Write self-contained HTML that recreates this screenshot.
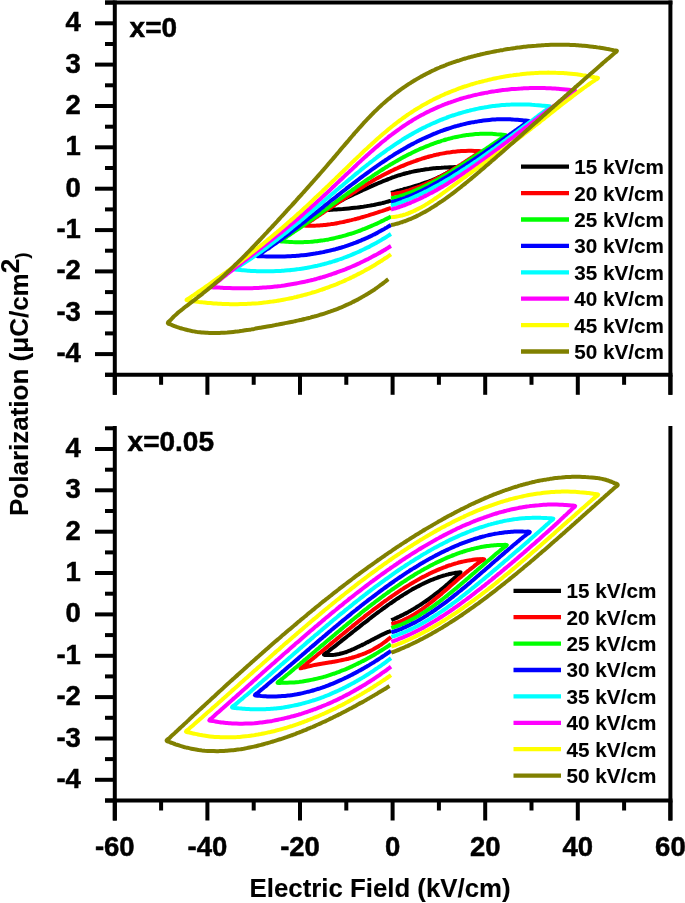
<!DOCTYPE html>
<html><head><meta charset="utf-8"><style>
html,body{margin:0;padding:0;background:#fff;}
svg{display:block;will-change:transform;}
text{font-family:"Liberation Sans",sans-serif;font-weight:bold;fill:#000;stroke:#000;stroke-width:0.5px;}
.leg text{stroke-width:0.1px;}
.ttl{stroke-width:0.1px;}
</style></head><body>
<svg width="685" height="903" viewBox="0 0 685 903">
<rect width="685" height="903" fill="#fff"/>
<g fill="none" stroke-width="4.0" stroke-linejoin="round" stroke-linecap="butt">
<path d="M391 192.9C392 192.6 393 192.3 393.9 192.1C394.9 191.8 395.9 191.5 396.9 191.2C397.9 190.9 398.8 190.7 399.8 190.4C400.8 190.1 401.8 189.9 402.8 189.6C403.7 189.3 404.7 189 405.7 188.8C406.7 188.5 407.7 188.2 408.7 187.9C409.6 187.7 410.6 187.4 411.6 187.1C412.6 186.8 413.5 186.5 414.5 186.2C415.5 185.9 416.5 185.6 417.4 185.3C418.4 185 419.4 184.7 420.4 184.4C421.3 184.1 422.3 183.8 423.3 183.4C424.2 183.1 425.2 182.8 426.1 182.4C427.1 182.1 428.1 181.7 429 181.4C430 181 430.9 180.6 431.9 180.3C432.8 179.9 433.7 179.5 434.7 179.1C435.6 178.7 436.6 178.3 437.5 177.9C438.4 177.5 439.3 177 440.3 176.6C441.2 176.1 442.1 175.7 443 175.2C443.9 174.8 444.8 174.3 445.7 173.8C446.6 173.3 447.5 172.8 448.4 172.3C449.2 171.8 450.1 171.3 451 170.8C451.9 170.2 452.7 169.7 453.6 169.1Q459.7 166.2 453 167.3C452 167.3 451 167.3 450 167.3C449 167.4 448 167.4 447 167.4C446 167.5 445 167.5 444 167.6C443 167.6 442.1 167.7 441.1 167.8C440.1 167.8 439.1 167.9 438.1 168C437.1 168.1 436.1 168.1 435.1 168.2C434.1 168.3 433.1 168.4 432.1 168.5C431.1 168.6 430.1 168.7 429.2 168.9C428.2 169 427.2 169.1 426.2 169.2C425.2 169.4 424.2 169.5 423.2 169.7C422.2 169.8 421.3 170 420.3 170.2C419.3 170.3 418.3 170.5 417.3 170.7C416.4 170.9 415.4 171.1 414.4 171.3C413.4 171.5 412.5 171.7 411.5 171.9C410.5 172.1 409.6 172.4 408.6 172.6C407.6 172.8 406.7 173.1 405.7 173.3C404.7 173.6 403.8 173.9 402.8 174.1C401.9 174.4 400.9 174.7 400 175C399 175.3 398.1 175.6 397.1 175.9C396.2 176.2 395.2 176.6 394.3 176.9C393.3 177.2 392.4 177.6 391.5 177.9C390.5 178.3 389.6 178.6 388.7 179C387.7 179.3 386.8 179.7 385.9 180.1C385 180.4 384 180.8 383.1 181.2C382.2 181.6 381.3 182 380.4 182.4C379.5 182.7 378.5 183.1 377.6 183.5C376.7 183.9 375.8 184.3 374.9 184.7C374 185.1 373.1 185.5 372.2 185.9C371.2 186.4 370.3 186.8 369.4 187.2C368.5 187.6 367.6 188 366.7 188.4C365.8 188.8 364.9 189.2 364 189.6C363.1 190.1 362.2 190.5 361.3 190.9C360.4 191.3 359.5 191.7 358.6 192.1C357.6 192.5 356.7 193 355.8 193.4C354.9 193.8 354 194.2 353.1 194.6C352.2 195 351.3 195.4 350.4 195.9C349.5 196.3 348.6 196.7 347.7 197.2C346.8 197.6 345.9 198 345 198.5C344.1 199 343.3 199.4 342.4 199.9C341.5 200.4 340.6 200.8 339.8 201.3C338.9 201.8 338 202.3 337.2 202.8C336.3 203.4 335.5 203.9 334.7 204.4C333.8 205 333 205.5 332.2 206.1C331.4 206.7 330.6 207.3 329.8 207.9Q323.9 211.2 330.5 209.8C331.5 209.7 332.5 209.7 333.6 209.6C334.6 209.5 335.6 209.5 336.6 209.4C337.6 209.3 338.7 209.3 339.7 209.2C340.7 209.1 341.7 209 342.7 209C343.8 208.9 344.8 208.8 345.8 208.7C346.8 208.6 347.8 208.5 348.9 208.4C349.9 208.3 350.9 208.2 351.9 208.1C352.9 208 353.9 207.9 355 207.8C356 207.7 357 207.6 358 207.4C359 207.3 360 207.2 361 207C362.1 206.9 363.1 206.8 364.1 206.6C365.1 206.5 366.1 206.3 367.1 206.1C368.1 206 369.1 205.8 370.1 205.6C371.1 205.4 372.1 205.3 373.1 205.1C374.2 204.9 375.2 204.7 376.2 204.4C377.2 204.2 378.2 204 379.2 203.8C380.1 203.6 381.1 203.3 382.1 203.1C383.1 202.8 384.1 202.6 385.1 202.3C386.1 202 387.1 201.8 388.1 201.5C389 201.2 390 200.9 391 200.6" stroke="#000000"/>
<path d="M391 194.3C392 194.2 393 194 394 193.9C395 193.7 396 193.5 397 193.3C398 193.1 399 192.9 400 192.7C401 192.5 401.9 192.2 402.9 192C403.9 191.7 404.9 191.5 405.9 191.2C406.8 190.9 407.8 190.7 408.8 190.4C409.7 190.1 410.7 189.8 411.7 189.4C412.6 189.1 413.6 188.8 414.5 188.4C415.5 188.1 416.4 187.8 417.4 187.4C418.3 187 419.3 186.7 420.2 186.3C421.2 185.9 422.1 185.5 423 185.1C424 184.7 424.9 184.3 425.8 183.9C426.7 183.5 427.7 183.1 428.6 182.7C429.5 182.2 430.4 181.8 431.3 181.4C432.2 180.9 433.1 180.5 434 180C435 179.6 435.9 179.1 436.8 178.6C437.7 178.2 438.5 177.7 439.4 177.2C440.3 176.7 441.2 176.3 442.1 175.8C443 175.3 443.9 174.8 444.8 174.3C445.6 173.8 446.5 173.3 447.4 172.8C448.3 172.3 449.2 171.8 450 171.3C450.9 170.8 451.8 170.2 452.6 169.7C453.5 169.2 454.4 168.7 455.2 168.1C456.1 167.6 457 167.1 457.8 166.5C458.7 166 459.5 165.5 460.4 164.9C461.2 164.4 462.1 163.8 462.9 163.3C463.8 162.7 464.6 162.2 465.5 161.6C466.3 161.1 467.2 160.5 468 160C468.9 159.4 469.7 158.8 470.6 158.3C471.4 157.7 472.2 157.2 473.1 156.6C473.9 156 474.8 155.5 475.6 154.9C476.4 154.3 477.3 153.8 478.1 153.2Q484.2 150.3 477.5 151C476.5 150.9 475.5 150.9 474.5 150.9C473.5 150.8 472.5 150.8 471.5 150.8C470.5 150.8 469.5 150.8 468.5 150.8C467.5 150.8 466.5 150.8 465.5 150.9C464.5 150.9 463.5 150.9 462.5 151C461.5 151.1 460.5 151.1 459.5 151.2C458.5 151.3 457.5 151.4 456.5 151.5C455.5 151.6 454.5 151.7 453.5 151.8C452.6 151.9 451.6 152 450.6 152.2C449.6 152.3 448.6 152.4 447.6 152.6C446.6 152.7 445.6 152.9 444.6 153.1C443.7 153.3 442.7 153.4 441.7 153.6C440.7 153.8 439.7 154 438.8 154.2C437.8 154.4 436.8 154.7 435.8 154.9C434.9 155.1 433.9 155.3 432.9 155.6C431.9 155.8 431 156.1 430 156.3C429 156.6 428.1 156.9 427.1 157.1C426.2 157.4 425.2 157.7 424.2 158C423.3 158.3 422.3 158.6 421.4 158.9C420.4 159.2 419.5 159.5 418.5 159.8C417.6 160.1 416.6 160.4 415.7 160.8C414.7 161.1 413.8 161.5 412.9 161.8C411.9 162.1 411 162.5 410 162.9C409.1 163.2 408.2 163.6 407.3 163.9C406.3 164.3 405.4 164.7 404.5 165.1C403.6 165.5 402.6 165.9 401.7 166.2C400.8 166.6 399.9 167 399 167.4C398 167.8 397.1 168.3 396.2 168.7C395.3 169.1 394.4 169.5 393.5 169.9C392.6 170.4 391.7 170.8 390.8 171.2C389.9 171.7 389 172.1 388.1 172.6C387.2 173 386.3 173.5 385.4 173.9C384.5 174.4 383.7 174.8 382.8 175.3C381.9 175.8 381 176.2 380.1 176.7C379.2 177.2 378.4 177.7 377.5 178.1C376.6 178.6 375.7 179.1 374.9 179.6C374 180.1 373.1 180.6 372.2 181.1C371.4 181.6 370.5 182.1 369.7 182.6C368.8 183.1 367.9 183.6 367.1 184.1C366.2 184.6 365.4 185.1 364.5 185.7C363.6 186.2 362.8 186.7 361.9 187.2C361.1 187.7 360.2 188.3 359.4 188.8C358.5 189.3 357.7 189.9 356.8 190.4C356 190.9 355.2 191.5 354.3 192C353.5 192.5 352.6 193.1 351.8 193.6C351 194.2 350.1 194.7 349.3 195.3C348.4 195.8 347.6 196.3 346.8 196.9C345.9 197.4 345.1 198 344.3 198.5C343.4 199.1 342.6 199.6 341.7 200.2C340.9 200.7 340.1 201.3 339.2 201.8C338.4 202.4 337.6 203 336.7 203.5C335.9 204.1 335.1 204.6 334.2 205.2C333.4 205.7 332.6 206.3 331.8 206.8C330.9 207.4 330.1 207.9 329.3 208.5C328.4 209.1 327.6 209.6 326.8 210.2C325.9 210.7 325.1 211.3 324.3 211.9C323.5 212.4 322.6 213 321.8 213.5C321 214.1 320.1 214.7 319.3 215.2C318.5 215.8 317.7 216.3 316.8 216.9C316 217.5 315.2 218 314.3 218.6C313.5 219.1 312.7 219.7 311.9 220.3C311 220.8 310.2 221.4 309.4 221.9C308.5 222.5 307.7 223.1 306.9 223.6Q300.8 226.5 307.5 225.7C308.5 225.7 309.5 225.7 310.5 225.7C311.4 225.7 312.4 225.7 313.4 225.7C314.4 225.7 315.4 225.6 316.4 225.6C317.4 225.5 318.3 225.5 319.3 225.4C320.3 225.3 321.3 225.3 322.3 225.2C323.3 225.1 324.2 225 325.2 224.9C326.2 224.8 327.2 224.7 328.2 224.5C329.1 224.4 330.1 224.3 331.1 224.1C332.1 224 333 223.8 334 223.7C335 223.5 336 223.4 336.9 223.2C337.9 223 338.9 222.8 339.8 222.6C340.8 222.5 341.8 222.3 342.7 222.1C343.7 221.9 344.7 221.6 345.6 221.4C346.6 221.2 347.6 221 348.5 220.8C349.5 220.5 350.4 220.3 351.4 220.1C352.3 219.8 353.3 219.6 354.3 219.4C355.2 219.1 356.2 218.9 357.1 218.6C358.1 218.3 359 218.1 360 217.8C360.9 217.5 361.9 217.3 362.8 217C363.8 216.7 364.7 216.5 365.7 216.2C366.6 215.9 367.5 215.6 368.5 215.3C369.4 215 370.4 214.7 371.3 214.4C372.3 214.2 373.2 213.9 374.1 213.6C375.1 213.3 376 213 377 212.7C377.9 212.4 378.8 212.1 379.8 211.7C380.7 211.4 381.6 211.1 382.6 210.8C383.5 210.5 384.5 210.2 385.4 209.9C386.3 209.6 387.3 209.3 388.2 208.9C389.1 208.6 390.1 208.3 391 208" stroke="#FF0000"/>
<path d="M391 198.4C392 198.2 392.9 198 393.9 197.7C394.9 197.5 395.8 197.2 396.8 197C397.8 196.7 398.7 196.5 399.7 196.2C400.6 195.9 401.6 195.6 402.5 195.3C403.5 195 404.4 194.7 405.4 194.4C406.3 194 407.2 193.7 408.2 193.4C409.1 193 410.1 192.7 411 192.3C411.9 191.9 412.8 191.6 413.8 191.2C414.7 190.8 415.6 190.4 416.5 190C417.4 189.7 418.3 189.3 419.2 188.8C420.2 188.4 421.1 188 422 187.6C422.9 187.2 423.8 186.8 424.7 186.3C425.6 185.9 426.5 185.5 427.3 185C428.2 184.6 429.1 184.1 430 183.7C430.9 183.2 431.8 182.7 432.7 182.3C433.5 181.8 434.4 181.3 435.3 180.9C436.2 180.4 437 179.9 437.9 179.4C438.8 179 439.7 178.5 440.5 178C441.4 177.5 442.2 177 443.1 176.5C444 176 444.8 175.5 445.7 175C446.5 174.5 447.4 174 448.2 173.4C449.1 172.9 450 172.4 450.8 171.9C451.7 171.4 452.5 170.9 453.3 170.3C454.2 169.8 455 169.3 455.9 168.7C456.7 168.2 457.6 167.7 458.4 167.1C459.2 166.6 460.1 166.1 460.9 165.5C461.8 165 462.6 164.5 463.4 163.9C464.3 163.4 465.1 162.8 465.9 162.3C466.8 161.7 467.6 161.2 468.4 160.6C469.3 160.1 470.1 159.5 470.9 159C471.7 158.4 472.6 157.9 473.4 157.3C474.2 156.8 475.1 156.2 475.9 155.7C476.7 155.1 477.5 154.6 478.4 154C479.2 153.4 480 152.9 480.8 152.3C481.7 151.8 482.5 151.2 483.3 150.6C484.1 150.1 484.9 149.5 485.8 149C486.6 148.4 487.4 147.8 488.2 147.3C489.1 146.7 489.9 146.2 490.7 145.6C491.5 145 492.4 144.5 493.2 143.9C494 143.4 494.8 142.8 495.7 142.2C496.5 141.7 497.3 141.1 498.1 140.6C499 140 499.8 139.5 500.6 138.9C501.4 138.4 502.3 137.8 503.1 137.2Q509.2 134.6 502.5 134.8C501.5 134.7 500.6 134.5 499.6 134.4C498.6 134.3 497.6 134.2 496.6 134.2C495.6 134.1 494.6 134 493.6 133.9C492.6 133.9 491.6 133.8 490.6 133.8C489.6 133.8 488.6 133.7 487.6 133.7C486.6 133.7 485.6 133.7 484.6 133.7C483.6 133.7 482.6 133.7 481.6 133.8C480.6 133.8 479.6 133.9 478.6 133.9C477.6 134 476.6 134 475.6 134.1C474.6 134.2 473.6 134.3 472.6 134.4C471.6 134.5 470.6 134.6 469.6 134.7C468.6 134.8 467.6 135 466.6 135.1C465.6 135.2 464.7 135.4 463.7 135.6C462.7 135.7 461.7 135.9 460.7 136.1C459.7 136.3 458.8 136.5 457.8 136.7C456.8 136.9 455.8 137.1 454.8 137.3C453.9 137.5 452.9 137.7 451.9 138C450.9 138.2 450 138.5 449 138.7C448 139 447.1 139.2 446.1 139.5C445.2 139.8 444.2 140.1 443.2 140.4C442.3 140.6 441.3 140.9 440.4 141.3C439.4 141.6 438.5 141.9 437.5 142.2C436.6 142.5 435.6 142.8 434.7 143.2C433.7 143.5 432.8 143.9 431.9 144.2C430.9 144.6 430 144.9 429.1 145.3C428.1 145.6 427.2 146 426.3 146.4C425.4 146.8 424.4 147.2 423.5 147.6C422.6 147.9 421.7 148.3 420.8 148.7C419.8 149.1 418.9 149.6 418 150C417.1 150.4 416.2 150.8 415.3 151.2C414.4 151.7 413.5 152.1 412.6 152.5C411.7 153 410.8 153.4 409.9 153.9C409 154.3 408.1 154.8 407.2 155.2C406.3 155.7 405.4 156.2 404.6 156.6C403.7 157.1 402.8 157.6 401.9 158C401 158.5 400.2 159 399.3 159.5C398.4 160 397.6 160.5 396.7 161C395.8 161.5 394.9 162 394.1 162.5C393.2 163 392.4 163.5 391.5 164C390.6 164.5 389.8 165 388.9 165.5C388.1 166.1 387.2 166.6 386.4 167.1C385.5 167.6 384.7 168.2 383.8 168.7C383 169.2 382.1 169.8 381.3 170.3C380.4 170.8 379.6 171.4 378.8 171.9C377.9 172.5 377.1 173 376.3 173.6C375.4 174.1 374.6 174.7 373.7 175.2C372.9 175.8 372.1 176.3 371.3 176.9C370.4 177.5 369.6 178 368.8 178.6C367.9 179.1 367.1 179.7 366.3 180.3C365.5 180.8 364.6 181.4 363.8 182C363 182.5 362.2 183.1 361.4 183.7C360.5 184.3 359.7 184.8 358.9 185.4C358.1 186 357.3 186.6 356.4 187.1C355.6 187.7 354.8 188.3 354 188.9C353.2 189.5 352.4 190 351.6 190.6C350.7 191.2 349.9 191.8 349.1 192.4C348.3 193 347.5 193.5 346.7 194.1C345.9 194.7 345.1 195.3 344.3 195.9C343.4 196.5 342.6 197.1 341.8 197.7C341 198.2 340.2 198.8 339.4 199.4C338.6 200 337.8 200.6 337 201.2C336.2 201.8 335.4 202.4 334.6 203C333.7 203.5 332.9 204.1 332.1 204.7C331.3 205.3 330.5 205.9 329.7 206.5C328.9 207.1 328.1 207.7 327.3 208.3C326.5 208.9 325.7 209.4 324.9 210C324.1 210.6 323.2 211.2 322.4 211.8C321.6 212.4 320.8 213 320 213.6C319.2 214.2 318.4 214.7 317.6 215.3C316.8 215.9 316 216.5 315.1 217.1C314.3 217.7 313.5 218.3 312.7 218.8C311.9 219.4 311.1 220 310.3 220.6C309.4 221.2 308.6 221.7 307.8 222.3C307 222.9 306.2 223.5 305.4 224C304.5 224.6 303.7 225.2 302.9 225.8C302.1 226.3 301.3 226.9 300.4 227.5C299.6 228 298.8 228.6 298 229.2C297.1 229.7 296.3 230.3 295.5 230.9C294.7 231.4 293.8 232 293 232.6C292.2 233.1 291.3 233.7 290.5 234.2C289.7 234.8 288.8 235.3 288 235.9C287.2 236.4 286.3 237 285.5 237.5C284.6 238.1 283.8 238.6 283 239.1Q276.8 241.7 283.5 241.4C284.5 241.5 285.5 241.6 286.5 241.7C287.5 241.8 288.5 241.8 289.5 241.9C290.5 242 291.5 242 292.5 242.1C293.5 242.1 294.6 242.1 295.6 242.2C296.6 242.2 297.6 242.2 298.6 242.2C299.6 242.2 300.6 242.2 301.6 242.2C302.6 242.2 303.6 242.1 304.6 242.1C305.7 242.1 306.7 242 307.7 242C308.7 241.9 309.7 241.8 310.7 241.8C311.7 241.7 312.7 241.6 313.7 241.5C314.7 241.4 315.7 241.3 316.7 241.2C317.7 241.1 318.7 240.9 319.7 240.8C320.7 240.7 321.7 240.5 322.7 240.4C323.7 240.2 324.7 240.1 325.7 239.9C326.7 239.7 327.7 239.5 328.7 239.4C329.7 239.2 330.7 239 331.7 238.8C332.7 238.6 333.6 238.4 334.6 238.1C335.6 237.9 336.6 237.7 337.6 237.4C338.6 237.2 339.5 237 340.5 236.7C341.5 236.5 342.5 236.2 343.4 235.9C344.4 235.7 345.4 235.4 346.3 235.1C347.3 234.8 348.3 234.5 349.2 234.2C350.2 233.9 351.2 233.6 352.1 233.3C353.1 233 354.1 232.7 355 232.3C356 232 356.9 231.7 357.9 231.3C358.8 231 359.8 230.7 360.7 230.3C361.7 229.9 362.6 229.6 363.5 229.2C364.5 228.8 365.4 228.5 366.3 228.1C367.3 227.7 368.2 227.3 369.1 226.9C370.1 226.5 371 226.2 371.9 225.7C372.9 225.3 373.8 224.9 374.7 224.5C375.6 224.1 376.5 223.7 377.5 223.3C378.4 222.8 379.3 222.4 380.2 222C381.1 221.5 382 221.1 382.9 220.7C383.8 220.2 384.7 219.8 385.6 219.3C386.5 218.8 387.4 218.4 388.3 217.9C389.2 217.4 390.1 217 391 216.5" stroke="#00FF00"/>
<path d="M391 202.1C392 201.9 393 201.6 393.9 201.4C394.9 201.1 395.9 200.9 396.9 200.6C397.8 200.3 398.8 200 399.8 199.7C400.7 199.4 401.7 199.1 402.6 198.8C403.6 198.5 404.5 198.1 405.5 197.8C406.4 197.4 407.4 197.1 408.3 196.7C409.2 196.4 410.2 196 411.1 195.6C412 195.2 413 194.8 413.9 194.4C414.8 194 415.7 193.6 416.6 193.2C417.6 192.8 418.5 192.3 419.4 191.9C420.3 191.5 421.2 191 422.1 190.6C423 190.1 423.9 189.7 424.8 189.2C425.7 188.8 426.6 188.3 427.5 187.8C428.4 187.4 429.3 186.9 430.2 186.4C431 186 431.9 185.5 432.8 185C433.7 184.5 434.6 184 435.4 183.5C436.3 183 437.2 182.5 438.1 182C438.9 181.5 439.8 181 440.7 180.5C441.6 180 442.4 179.5 443.3 179C444.2 178.5 445 178 445.9 177.5C446.8 176.9 447.6 176.4 448.5 175.9C449.3 175.4 450.2 174.8 451.1 174.3C451.9 173.8 452.8 173.3 453.6 172.7C454.5 172.2 455.3 171.7 456.2 171.1C457.1 170.6 457.9 170.1 458.8 169.5C459.6 169 460.5 168.4 461.3 167.9C462.1 167.3 463 166.8 463.8 166.3C464.7 165.7 465.5 165.2 466.4 164.6C467.2 164.1 468.1 163.5 468.9 162.9C469.7 162.4 470.6 161.8 471.4 161.3C472.3 160.7 473.1 160.2 473.9 159.6C474.8 159 475.6 158.5 476.4 157.9C477.3 157.4 478.1 156.8 478.9 156.2C479.8 155.7 480.6 155.1 481.4 154.5C482.3 154 483.1 153.4 483.9 152.8C484.8 152.2 485.6 151.7 486.4 151.1C487.2 150.5 488.1 150 488.9 149.4C489.7 148.8 490.6 148.2 491.4 147.7C492.2 147.1 493 146.5 493.9 145.9C494.7 145.3 495.5 144.8 496.3 144.2C497.2 143.6 498 143 498.8 142.4C499.6 141.9 500.4 141.3 501.3 140.7C502.1 140.1 502.9 139.5 503.7 139C504.6 138.4 505.4 137.8 506.2 137.2C507 136.6 507.8 136 508.7 135.4C509.5 134.9 510.3 134.3 511.1 133.7C511.9 133.1 512.8 132.5 513.6 131.9C514.4 131.4 515.2 130.8 516 130.2C516.8 129.6 517.7 129 518.5 128.4C519.3 127.8 520.1 127.2 520.9 126.7C521.8 126.1 522.6 125.5 523.4 124.9C524.2 124.3 525 123.7 525.9 123.1Q531.9 120.3 525.2 120.6C524.2 120.5 523.3 120.4 522.3 120.2C521.3 120.1 520.3 120 519.3 119.9C518.3 119.8 517.3 119.8 516.3 119.7C515.3 119.6 514.3 119.5 513.3 119.5C512.3 119.4 511.3 119.4 510.3 119.3C509.3 119.3 508.3 119.3 507.3 119.2C506.3 119.2 505.3 119.2 504.3 119.2C503.3 119.2 502.3 119.2 501.3 119.2C500.4 119.2 499.4 119.3 498.4 119.3C497.4 119.3 496.4 119.4 495.4 119.4C494.4 119.5 493.4 119.6 492.4 119.6C491.4 119.7 490.4 119.8 489.4 119.9C488.4 120 487.4 120.1 486.4 120.2C485.4 120.3 484.4 120.4 483.4 120.5C482.5 120.6 481.5 120.8 480.5 120.9C479.5 121.1 478.5 121.2 477.5 121.4C476.5 121.5 475.5 121.7 474.6 121.9C473.6 122 472.6 122.2 471.6 122.4C470.6 122.6 469.7 122.8 468.7 123C467.7 123.2 466.7 123.4 465.8 123.7C464.8 123.9 463.8 124.1 462.9 124.4C461.9 124.6 460.9 124.9 460 125.1C459 125.4 458 125.6 457.1 125.9C456.1 126.2 455.2 126.4 454.2 126.7C453.2 127 452.3 127.3 451.3 127.6C450.4 127.9 449.4 128.2 448.5 128.5C447.5 128.8 446.6 129.2 445.6 129.5C444.7 129.8 443.8 130.1 442.8 130.5C441.9 130.8 441 131.2 440 131.5C439.1 131.9 438.2 132.2 437.2 132.6C436.3 133 435.4 133.3 434.4 133.7C433.5 134.1 432.6 134.5 431.7 134.9C430.8 135.3 429.9 135.6 428.9 136.1C428 136.5 427.1 136.9 426.2 137.3C425.3 137.7 424.4 138.1 423.5 138.5C422.6 139 421.7 139.4 420.8 139.8C419.9 140.3 419 140.7 418.1 141.1C417.2 141.6 416.3 142 415.4 142.5C414.5 142.9 413.7 143.4 412.8 143.9C411.9 144.3 411 144.8 410.1 145.3C409.3 145.8 408.4 146.2 407.5 146.7C406.6 147.2 405.8 147.7 404.9 148.2C404 148.7 403.2 149.2 402.3 149.7C401.4 150.2 400.6 150.7 399.7 151.2C398.9 151.7 398 152.2 397.2 152.7C396.3 153.3 395.5 153.8 394.6 154.3C393.8 154.8 392.9 155.4 392.1 155.9C391.2 156.4 390.4 157 389.6 157.5C388.7 158.1 387.9 158.6 387 159.2C386.2 159.7 385.4 160.3 384.6 160.8C383.7 161.4 382.9 161.9 382.1 162.5C381.2 163 380.4 163.6 379.6 164.2C378.8 164.7 378 165.3 377.1 165.9C376.3 166.4 375.5 167 374.7 167.6C373.9 168.2 373.1 168.7 372.2 169.3C371.4 169.9 370.6 170.5 369.8 171.1C369 171.6 368.2 172.2 367.4 172.8C366.6 173.4 365.8 174 365 174.6C364.2 175.2 363.4 175.8 362.6 176.4C361.8 177 361 177.6 360.2 178.2C359.4 178.8 358.6 179.4 357.8 180C357 180.6 356.2 181.2 355.4 181.8C354.6 182.4 353.8 183 353 183.6C352.2 184.2 351.4 184.8 350.6 185.4C349.8 186 349 186.6 348.3 187.2C347.5 187.8 346.7 188.4 345.9 189.1C345.1 189.7 344.3 190.3 343.5 190.9C342.7 191.5 342 192.1 341.2 192.7C340.4 193.4 339.6 194 338.8 194.6C338 195.2 337.2 195.8 336.5 196.4C335.7 197.1 334.9 197.7 334.1 198.3C333.3 198.9 332.5 199.5 331.8 200.1C331 200.8 330.2 201.4 329.4 202C328.6 202.6 327.8 203.2 327.1 203.9C326.3 204.5 325.5 205.1 324.7 205.7C323.9 206.3 323.2 207 322.4 207.6C321.6 208.2 320.8 208.8 320 209.4C319.2 210.1 318.5 210.7 317.7 211.3C316.9 211.9 316.1 212.5 315.3 213.2C314.6 213.8 313.8 214.4 313 215C312.2 215.6 311.4 216.2 310.6 216.9C309.8 217.5 309.1 218.1 308.3 218.7C307.5 219.3 306.7 219.9 305.9 220.6C305.1 221.2 304.3 221.8 303.6 222.4C302.8 223 302 223.6 301.2 224.2C300.4 224.8 299.6 225.5 298.8 226.1C298 226.7 297.2 227.3 296.5 227.9C295.7 228.5 294.9 229.1 294.1 229.7C293.3 230.3 292.5 230.9 291.7 231.5C290.9 232.1 290.1 232.7 289.3 233.3C288.5 233.9 287.7 234.5 286.9 235.1C286.1 235.7 285.3 236.3 284.5 236.9C283.7 237.5 282.9 238.1 282.1 238.7C281.3 239.2 280.5 239.8 279.7 240.4C278.9 241 278 241.6 277.2 242.2C276.4 242.8 275.6 243.3 274.8 243.9C274 244.5 273.2 245.1 272.3 245.6C271.5 246.2 270.7 246.8 269.9 247.3C269.1 247.9 268.2 248.5 267.4 249C266.6 249.6 265.8 250.2 264.9 250.7C264.1 251.3 263.3 251.8 262.4 252.4C261.6 252.9 260.8 253.5 259.9 254Q253.8 256.7 260.5 256.1C261.5 256.2 262.5 256.2 263.5 256.3C264.5 256.3 265.5 256.3 266.5 256.4C267.6 256.4 268.6 256.5 269.6 256.5C270.6 256.5 271.6 256.5 272.6 256.5C273.6 256.6 274.6 256.6 275.6 256.6C276.7 256.6 277.7 256.6 278.7 256.6C279.7 256.5 280.7 256.5 281.7 256.5C282.7 256.5 283.7 256.5 284.7 256.4C285.7 256.4 286.8 256.4 287.8 256.3C288.8 256.3 289.8 256.2 290.8 256.2C291.8 256.1 292.8 256.1 293.8 256C294.8 255.9 295.8 255.9 296.8 255.8C297.8 255.7 298.9 255.6 299.9 255.5C300.9 255.4 301.9 255.3 302.9 255.2C303.9 255.1 304.9 255 305.9 254.9C306.9 254.8 307.9 254.6 308.9 254.5C309.9 254.4 310.9 254.2 311.9 254.1C312.9 253.9 313.9 253.8 314.9 253.6C315.9 253.4 316.9 253.3 317.9 253.1C318.9 252.9 319.9 252.7 320.9 252.5C321.9 252.4 322.8 252.2 323.8 252C324.8 251.7 325.8 251.5 326.8 251.3C327.8 251.1 328.8 250.9 329.8 250.6C330.7 250.4 331.7 250.2 332.7 249.9C333.7 249.7 334.7 249.4 335.6 249.2C336.6 248.9 337.6 248.6 338.6 248.3C339.5 248.1 340.5 247.8 341.5 247.5C342.4 247.2 343.4 246.9 344.4 246.6C345.3 246.3 346.3 246 347.2 245.7C348.2 245.3 349.2 245 350.1 244.7C351.1 244.3 352 244 353 243.6C353.9 243.3 354.8 242.9 355.8 242.6C356.7 242.2 357.7 241.8 358.6 241.5C359.5 241.1 360.5 240.7 361.4 240.3C362.3 239.9 363.3 239.5 364.2 239.1C365.1 238.7 366 238.3 367 237.9C367.9 237.5 368.8 237 369.7 236.6C370.6 236.2 371.5 235.7 372.4 235.3C373.4 234.8 374.3 234.4 375.2 233.9C376.1 233.5 377 233 377.9 232.5C378.7 232.1 379.6 231.6 380.5 231.1C381.4 230.6 382.3 230.1 383.2 229.6C384.1 229.1 384.9 228.6 385.8 228.1C386.7 227.6 387.5 227.1 388.4 226.6C389.3 226.1 390.1 225.5 391 225" stroke="#0000FF"/>
<path d="M391 205.6C392 205.3 392.9 205 393.9 204.7C394.8 204.4 395.7 204.1 396.7 203.8C397.6 203.5 398.6 203.1 399.5 202.8C400.4 202.5 401.4 202.1 402.3 201.8C403.2 201.4 404.2 201.1 405.1 200.7C406 200.4 407 200 407.9 199.6C408.8 199.3 409.7 198.9 410.6 198.5C411.6 198.1 412.5 197.7 413.4 197.3C414.3 196.9 415.2 196.5 416.1 196.1C417 195.7 417.9 195.3 418.8 194.9C419.7 194.4 420.6 194 421.5 193.6C422.4 193.2 423.3 192.7 424.2 192.3C425.1 191.9 426 191.4 426.9 191C427.8 190.5 428.7 190.1 429.5 189.6C430.4 189.2 431.3 188.7 432.2 188.2C433.1 187.8 434 187.3 434.8 186.8C435.7 186.3 436.6 185.9 437.4 185.4C438.3 184.9 439.2 184.4 440.1 183.9C440.9 183.4 441.8 183 442.7 182.5C443.5 182 444.4 181.5 445.2 181C446.1 180.5 447 180 447.8 179.5C448.7 178.9 449.5 178.4 450.4 177.9C451.2 177.4 452.1 176.9 452.9 176.4C453.8 175.8 454.6 175.3 455.5 174.8C456.3 174.3 457.1 173.7 458 173.2C458.8 172.7 459.7 172.1 460.5 171.6C461.3 171.1 462.2 170.5 463 170C463.9 169.5 464.7 168.9 465.5 168.4C466.4 167.8 467.2 167.3 468 166.7C468.8 166.2 469.7 165.6 470.5 165.1C471.3 164.5 472.2 164 473 163.4C473.8 162.9 474.6 162.3 475.4 161.7C476.3 161.2 477.1 160.6 477.9 160C478.7 159.5 479.5 158.9 480.4 158.3C481.2 157.8 482 157.2 482.8 156.6C483.6 156.1 484.4 155.5 485.3 154.9C486.1 154.4 486.9 153.8 487.7 153.2C488.5 152.6 489.3 152 490.1 151.5C490.9 150.9 491.7 150.3 492.5 149.7C493.4 149.1 494.2 148.6 495 148C495.8 147.4 496.6 146.8 497.4 146.2C498.2 145.6 499 145.1 499.8 144.5C500.6 143.9 501.4 143.3 502.2 142.7C503 142.1 503.8 141.5 504.6 140.9C505.4 140.3 506.2 139.8 507 139.2C507.8 138.6 508.6 138 509.4 137.4C510.2 136.8 511 136.2 511.8 135.6C512.6 135 513.4 134.4 514.2 133.8C515 133.2 515.8 132.6 516.6 132C517.4 131.4 518.2 130.8 519 130.2C519.8 129.6 520.6 129 521.4 128.4C522.2 127.8 523 127.2 523.7 126.6C524.5 126 525.3 125.4 526.1 124.9C526.9 124.3 527.7 123.7 528.5 123.1C529.3 122.5 530.1 121.9 530.9 121.3C531.7 120.7 532.5 120.1 533.3 119.5C534.1 118.9 534.9 118.3 535.7 117.7C536.5 117.1 537.3 116.5 538 115.9C538.8 115.3 539.6 114.7 540.4 114.1C541.2 113.5 542 112.9 542.8 112.3C543.6 111.7 544.4 111.1 545.2 110.5C546 109.9 546.8 109.3 547.6 108.7Q553.5 105.8 546.9 106.1C545.9 106 544.9 105.9 543.9 105.8C542.9 105.7 542 105.6 541 105.5C540 105.4 539 105.3 538 105.2C537 105.1 536 105 535 105C534 104.9 533 104.8 532 104.8C531 104.7 530 104.6 529 104.6C528 104.6 527 104.5 526 104.5C525 104.5 524 104.4 523 104.4C522 104.4 520.9 104.4 519.9 104.4C518.9 104.4 517.9 104.4 516.9 104.4C515.9 104.4 514.9 104.4 513.9 104.5C512.9 104.5 511.9 104.5 510.9 104.6C509.9 104.6 508.9 104.7 507.9 104.7C506.9 104.8 505.9 104.8 504.9 104.9C503.9 105 502.9 105.1 501.9 105.1C500.9 105.2 499.9 105.3 498.9 105.4C497.9 105.5 496.9 105.6 495.9 105.7C495 105.9 494 106 493 106.1C492 106.2 491 106.4 490 106.5C489 106.7 488 106.8 487 107C486 107.1 485 107.3 484 107.5C483.1 107.6 482.1 107.8 481.1 108C480.1 108.2 479.1 108.4 478.1 108.6C477.2 108.8 476.2 109 475.2 109.2C474.2 109.4 473.2 109.7 472.3 109.9C471.3 110.1 470.3 110.4 469.4 110.6C468.4 110.8 467.4 111.1 466.4 111.3C465.5 111.6 464.5 111.9 463.5 112.1C462.6 112.4 461.6 112.7 460.7 113C459.7 113.3 458.7 113.6 457.8 113.9C456.8 114.2 455.9 114.5 454.9 114.8C454 115.1 453 115.4 452.1 115.7C451.1 116.1 450.2 116.4 449.2 116.7C448.3 117.1 447.3 117.4 446.4 117.8C445.5 118.1 444.5 118.5 443.6 118.8C442.7 119.2 441.7 119.6 440.8 119.9C439.9 120.3 439 120.7 438 121.1C437.1 121.5 436.2 121.9 435.3 122.3C434.3 122.7 433.4 123.1 432.5 123.5C431.6 123.9 430.7 124.3 429.8 124.8C428.9 125.2 428 125.6 427.1 126C426.2 126.5 425.3 126.9 424.4 127.4C423.5 127.8 422.6 128.3 421.7 128.7C420.8 129.2 419.9 129.6 419 130.1C418.1 130.6 417.3 131.1 416.4 131.5C415.5 132 414.6 132.5 413.7 133C412.9 133.5 412 134 411.1 134.5C410.3 135 409.4 135.5 408.5 136C407.7 136.5 406.8 137 405.9 137.5C405.1 138 404.2 138.6 403.4 139.1C402.5 139.6 401.7 140.2 400.8 140.7C400 141.2 399.2 141.8 398.3 142.3C397.5 142.9 396.6 143.4 395.8 144C395 144.5 394.1 145.1 393.3 145.7C392.5 146.2 391.6 146.8 390.8 147.4C390 147.9 389.2 148.5 388.4 149.1C387.5 149.6 386.7 150.2 385.9 150.8C385.1 151.4 384.3 152 383.5 152.6C382.7 153.2 381.9 153.8 381 154.3C380.2 154.9 379.4 155.5 378.6 156.1C377.8 156.7 377 157.3 376.2 158C375.4 158.6 374.6 159.2 373.8 159.8C373 160.4 372.3 161 371.5 161.6C370.7 162.2 369.9 162.8 369.1 163.5C368.3 164.1 367.5 164.7 366.7 165.3C365.9 165.9 365.2 166.6 364.4 167.2C363.6 167.8 362.8 168.5 362 169.1C361.3 169.7 360.5 170.3 359.7 171C358.9 171.6 358.1 172.2 357.4 172.9C356.6 173.5 355.8 174.1 355 174.8C354.3 175.4 353.5 176.1 352.7 176.7C352 177.3 351.2 178 350.4 178.6C349.6 179.3 348.9 179.9 348.1 180.5C347.3 181.2 346.6 181.8 345.8 182.5C345 183.1 344.3 183.8 343.5 184.4C342.7 185.1 342 185.7 341.2 186.4C340.4 187 339.7 187.6 338.9 188.3C338.2 188.9 337.4 189.6 336.6 190.2C335.9 190.9 335.1 191.5 334.3 192.2C333.6 192.8 332.8 193.5 332 194.1C331.3 194.8 330.5 195.4 329.8 196.1C329 196.7 328.2 197.4 327.5 198C326.7 198.7 325.9 199.3 325.2 200C324.4 200.6 323.7 201.3 322.9 201.9C322.1 202.6 321.4 203.2 320.6 203.9C319.8 204.5 319.1 205.2 318.3 205.8C317.5 206.5 316.8 207.1 316 207.8C315.3 208.4 314.5 209.1 313.7 209.7C313 210.4 312.2 211 311.4 211.6C310.7 212.3 309.9 212.9 309.1 213.6C308.4 214.2 307.6 214.9 306.8 215.5C306 216.2 305.3 216.8 304.5 217.4C303.7 218.1 303 218.7 302.2 219.4C301.4 220 300.7 220.6 299.9 221.3C299.1 221.9 298.3 222.6 297.6 223.2C296.8 223.8 296 224.5 295.2 225.1C294.5 225.7 293.7 226.4 292.9 227C292.1 227.6 291.4 228.3 290.6 228.9C289.8 229.5 289 230.1 288.2 230.8C287.4 231.4 286.7 232 285.9 232.7C285.1 233.3 284.3 233.9 283.5 234.5C282.7 235.1 282 235.8 281.2 236.4C280.4 237 279.6 237.6 278.8 238.2C278 238.8 277.2 239.5 276.4 240.1C275.6 240.7 274.8 241.3 274 241.9C273.2 242.5 272.4 243.1 271.6 243.7C270.8 244.3 270 244.9 269.2 245.5C268.4 246.1 267.6 246.7 266.8 247.3C266 247.9 265.2 248.5 264.4 249.1C263.6 249.7 262.8 250.3 262 250.9C261.2 251.5 260.3 252 259.5 252.6C258.7 253.2 257.9 253.8 257.1 254.4C256.3 254.9 255.4 255.5 254.6 256.1C253.8 256.7 253 257.2 252.1 257.8C251.3 258.4 250.5 258.9 249.6 259.5C248.8 260 248 260.6 247.1 261.1C246.3 261.7 245.5 262.2 244.6 262.8C243.8 263.3 242.9 263.9 242.1 264.4C241.3 264.9 240.4 265.5 239.6 266C238.7 266.5 237.8 267.1 237 267.6Q230.8 270.1 237.5 269.8C238.5 269.9 239.5 270 240.4 270.1C241.4 270.2 242.4 270.3 243.4 270.3C244.4 270.4 245.4 270.5 246.4 270.6C247.4 270.7 248.4 270.7 249.4 270.8C250.3 270.9 251.3 270.9 252.3 271C253.3 271 254.3 271.1 255.3 271.1C256.3 271.1 257.3 271.2 258.3 271.2C259.3 271.2 260.3 271.3 261.3 271.3C262.3 271.3 263.3 271.3 264.2 271.3C265.2 271.3 266.2 271.3 267.2 271.3C268.2 271.3 269.2 271.3 270.2 271.3C271.2 271.3 272.2 271.3 273.2 271.2C274.2 271.2 275.2 271.2 276.2 271.1C277.2 271.1 278.2 271 279.1 271C280.1 270.9 281.1 270.9 282.1 270.8C283.1 270.7 284.1 270.7 285.1 270.6C286.1 270.5 287.1 270.4 288.1 270.3C289.1 270.2 290 270.2 291 270C292 269.9 293 269.8 294 269.7C295 269.6 296 269.5 296.9 269.3C297.9 269.2 298.9 269.1 299.9 268.9C300.9 268.8 301.9 268.7 302.8 268.5C303.8 268.3 304.8 268.2 305.8 268C306.8 267.8 307.7 267.7 308.7 267.5C309.7 267.3 310.7 267.1 311.6 266.9C312.6 266.7 313.6 266.5 314.6 266.3C315.5 266.1 316.5 265.9 317.5 265.7C318.4 265.4 319.4 265.2 320.4 265C321.3 264.7 322.3 264.5 323.3 264.3C324.2 264 325.2 263.7 326.1 263.5C327.1 263.2 328.1 263 329 262.7C330 262.4 330.9 262.1 331.9 261.8C332.8 261.5 333.8 261.3 334.7 261C335.7 260.7 336.6 260.3 337.6 260C338.5 259.7 339.4 259.4 340.4 259.1C341.3 258.7 342.3 258.4 343.2 258.1C344.1 257.7 345 257.4 346 257C346.9 256.7 347.8 256.3 348.8 256C349.7 255.6 350.6 255.2 351.5 254.8C352.4 254.5 353.4 254.1 354.3 253.7C355.2 253.3 356.1 252.9 357 252.5C357.9 252.1 358.8 251.7 359.7 251.3C360.6 250.9 361.5 250.4 362.4 250C363.3 249.6 364.2 249.2 365.1 248.7C366 248.3 366.9 247.8 367.8 247.4C368.7 247 369.5 246.5 370.4 246C371.3 245.6 372.2 245.1 373.1 244.6C373.9 244.2 374.8 243.7 375.7 243.2C376.6 242.7 377.4 242.3 378.3 241.8C379.1 241.3 380 240.8 380.9 240.3C381.7 239.8 382.6 239.3 383.4 238.7C384.3 238.2 385.1 237.7 386 237.2C386.8 236.7 387.7 236.1 388.5 235.6C389.3 235.1 390.2 234.5 391 234" stroke="#00FFFF"/>
<path d="M391 209.5C392 209.2 392.9 209 393.9 208.7C394.9 208.4 395.8 208.1 396.8 207.8C397.7 207.5 398.7 207.2 399.6 206.8C400.6 206.5 401.5 206.2 402.5 205.8C403.4 205.5 404.4 205.2 405.3 204.8C406.2 204.5 407.2 204.1 408.1 203.7C409.1 203.4 410 203 410.9 202.6C411.8 202.2 412.8 201.8 413.7 201.4C414.6 201 415.5 200.6 416.4 200.2C417.4 199.8 418.3 199.4 419.2 199C420.1 198.5 421 198.1 421.9 197.7C422.8 197.2 423.7 196.8 424.6 196.3C425.5 195.9 426.4 195.4 427.3 195C428.2 194.5 429.1 194.1 430 193.6C430.9 193.1 431.8 192.7 432.6 192.2C433.5 191.7 434.4 191.2 435.3 190.7C436.2 190.3 437 189.8 437.9 189.3C438.8 188.8 439.7 188.3 440.5 187.8C441.4 187.3 442.3 186.8 443.1 186.3C444 185.8 444.9 185.2 445.7 184.7C446.6 184.2 447.4 183.7 448.3 183.2C449.2 182.6 450 182.1 450.9 181.6C451.7 181.1 452.6 180.5 453.4 180C454.3 179.4 455.1 178.9 455.9 178.4C456.8 177.8 457.6 177.3 458.5 176.7C459.3 176.2 460.2 175.6 461 175.1C461.8 174.5 462.7 174 463.5 173.4C464.3 172.8 465.2 172.3 466 171.7C466.8 171.2 467.7 170.6 468.5 170C469.3 169.5 470.1 168.9 471 168.3C471.8 167.7 472.6 167.2 473.4 166.6C474.3 166 475.1 165.4 475.9 164.9C476.7 164.3 477.5 163.7 478.4 163.1C479.2 162.5 480 161.9 480.8 161.4C481.6 160.8 482.4 160.2 483.3 159.6C484.1 159 484.9 158.4 485.7 157.8C486.5 157.2 487.3 156.6 488.1 156C488.9 155.4 489.7 154.8 490.5 154.2C491.3 153.6 492.2 153 493 152.4C493.8 151.8 494.6 151.2 495.4 150.6C496.2 150 497 149.4 497.8 148.8C498.6 148.2 499.4 147.6 500.2 147C501 146.4 501.8 145.8 502.6 145.2C503.4 144.6 504.2 144 505 143.4C505.8 142.8 506.6 142.2 507.4 141.6C508.2 140.9 509 140.3 509.8 139.7C510.6 139.1 511.4 138.5 512.2 137.9C513 137.3 513.8 136.7 514.6 136.1C515.3 135.4 516.1 134.8 516.9 134.2C517.7 133.6 518.5 133 519.3 132.4C520.1 131.8 520.9 131.2 521.7 130.5C522.5 129.9 523.3 129.3 524.1 128.7C524.9 128.1 525.7 127.5 526.5 126.9C527.3 126.3 528.1 125.6 528.9 125C529.7 124.4 530.5 123.8 531.3 123.2C532.1 122.6 532.9 122 533.6 121.4C534.4 120.7 535.2 120.1 536 119.5C536.8 118.9 537.6 118.3 538.4 117.7C539.2 117.1 540 116.5 540.8 115.9C541.6 115.2 542.4 114.6 543.2 114C544 113.4 544.8 112.8 545.6 112.2C546.4 111.6 547.2 111 548 110.4C548.8 109.8 549.6 109.2 550.4 108.6C551.2 108 552 107.4 552.8 106.8C553.6 106.2 554.5 105.6 555.3 105C556.1 104.4 556.9 103.8 557.7 103.2C558.5 102.6 559.3 102 560.1 101.4C560.9 100.8 561.7 100.2 562.5 99.6C563.3 99 564.2 98.4 565 97.9C565.8 97.3 566.6 96.7 567.4 96.1C568.2 95.5 569.1 94.9 569.9 94.3C570.7 93.8 571.5 93.2 572.3 92.6Q578.4 89.8 571.7 90.2C570.7 90 569.7 89.9 568.7 89.8C567.8 89.7 566.8 89.6 565.8 89.5C564.8 89.4 563.8 89.3 562.8 89.2C561.8 89.1 560.8 89 559.8 88.9C558.8 88.8 557.8 88.8 556.8 88.7C555.8 88.6 554.8 88.6 553.8 88.5C552.8 88.4 551.8 88.4 550.8 88.3C549.8 88.3 548.8 88.2 547.8 88.2C546.8 88.2 545.8 88.1 544.8 88.1C543.8 88.1 542.8 88.1 541.8 88C540.8 88 539.8 88 538.8 88C537.8 88 536.8 88 535.8 88C534.8 88 533.8 88 532.8 88C531.8 88 530.8 88.1 529.8 88.1C528.8 88.1 527.8 88.2 526.8 88.2C525.8 88.2 524.8 88.3 523.8 88.3C522.8 88.4 521.8 88.4 520.8 88.5C519.8 88.5 518.8 88.6 517.8 88.7C516.8 88.7 515.8 88.8 514.8 88.9C513.8 89 512.8 89.1 511.8 89.1C510.8 89.2 509.8 89.3 508.8 89.4C507.8 89.5 506.8 89.6 505.9 89.8C504.9 89.9 503.9 90 502.9 90.1C501.9 90.2 500.9 90.4 499.9 90.5C498.9 90.6 497.9 90.8 496.9 90.9C495.9 91.1 494.9 91.2 494 91.4C493 91.5 492 91.7 491 91.8C490 92 489 92.2 488 92.4C487.1 92.5 486.1 92.7 485.1 92.9C484.1 93.1 483.1 93.3 482.1 93.5C481.2 93.7 480.2 93.9 479.2 94.1C478.2 94.3 477.2 94.5 476.3 94.8C475.3 95 474.3 95.2 473.3 95.4C472.4 95.7 471.4 95.9 470.4 96.2C469.5 96.4 468.5 96.7 467.5 96.9C466.6 97.2 465.6 97.4 464.6 97.7C463.7 98 462.7 98.3 461.8 98.5C460.8 98.8 459.8 99.1 458.9 99.4C457.9 99.7 457 100 456 100.3C455.1 100.6 454.1 101 453.2 101.3C452.2 101.6 451.3 101.9 450.3 102.3C449.4 102.6 448.5 103 447.5 103.3C446.6 103.7 445.7 104 444.7 104.4C443.8 104.7 442.9 105.1 441.9 105.5C441 105.9 440.1 106.3 439.2 106.6C438.2 107 437.3 107.4 436.4 107.8C435.5 108.2 434.6 108.7 433.7 109.1C432.8 109.5 431.9 109.9 431 110.3C430.1 110.8 429.2 111.2 428.3 111.7C427.4 112.1 426.5 112.5 425.6 113C424.7 113.5 423.8 113.9 422.9 114.4C422 114.9 421.2 115.3 420.3 115.8C419.4 116.3 418.5 116.8 417.7 117.3C416.8 117.8 415.9 118.3 415.1 118.8C414.2 119.3 413.3 119.8 412.5 120.3C411.6 120.9 410.8 121.4 409.9 121.9C409.1 122.4 408.2 123 407.4 123.5C406.6 124.1 405.7 124.6 404.9 125.2C404.1 125.7 403.2 126.3 402.4 126.8C401.6 127.4 400.8 128 399.9 128.6C399.1 129.1 398.3 129.7 397.5 130.3C396.7 130.9 395.9 131.5 395.1 132.1C394.3 132.7 393.5 133.3 392.7 133.9C391.9 134.5 391.1 135.1 390.3 135.7C389.5 136.3 388.7 136.9 387.9 137.6C387.1 138.2 386.4 138.8 385.6 139.4C384.8 140.1 384 140.7 383.3 141.3C382.5 142 381.7 142.6 380.9 143.2C380.2 143.9 379.4 144.5 378.7 145.2C377.9 145.8 377.1 146.5 376.4 147.1C375.6 147.8 374.9 148.4 374.1 149.1C373.3 149.7 372.6 150.4 371.8 151.1C371.1 151.7 370.3 152.4 369.6 153C368.8 153.7 368.1 154.4 367.3 155C366.6 155.7 365.9 156.4 365.1 157.1C364.4 157.7 363.6 158.4 362.9 159.1C362.2 159.7 361.4 160.4 360.7 161.1C359.9 161.8 359.2 162.5 358.5 163.1C357.7 163.8 357 164.5 356.3 165.2C355.5 165.9 354.8 166.5 354.1 167.2C353.3 167.9 352.6 168.6 351.9 169.3C351.2 170 350.4 170.6 349.7 171.3C349 172 348.2 172.7 347.5 173.4C346.8 174.1 346.1 174.8 345.3 175.4C344.6 176.1 343.9 176.8 343.1 177.5C342.4 178.2 341.7 178.9 341 179.6C340.2 180.3 339.5 180.9 338.8 181.6C338.1 182.3 337.3 183 336.6 183.7C335.9 184.4 335.2 185.1 334.4 185.8C333.7 186.4 333 187.1 332.2 187.8C331.5 188.5 330.8 189.2 330.1 189.9C329.3 190.6 328.6 191.2 327.9 191.9C327.1 192.6 326.4 193.3 325.7 194C324.9 194.7 324.2 195.3 323.5 196C322.7 196.7 322 197.4 321.3 198.1C320.5 198.7 319.8 199.4 319.1 200.1C318.3 200.8 317.6 201.4 316.8 202.1C316.1 202.8 315.4 203.5 314.6 204.1C313.9 204.8 313.1 205.5 312.4 206.1C311.6 206.8 310.9 207.5 310.1 208.1C309.4 208.8 308.6 209.4 307.9 210.1C307.1 210.8 306.4 211.4 305.6 212.1C304.9 212.7 304.1 213.4 303.4 214C302.6 214.7 301.8 215.3 301.1 216C300.3 216.6 299.5 217.3 298.8 217.9C298 218.6 297.2 219.2 296.5 219.9C295.7 220.5 294.9 221.1 294.2 221.8C293.4 222.4 292.6 223 291.9 223.7C291.1 224.3 290.3 224.9 289.5 225.6C288.8 226.2 288 226.8 287.2 227.5C286.4 228.1 285.6 228.7 284.9 229.4C284.1 230 283.3 230.6 282.5 231.2C281.7 231.9 281 232.5 280.2 233.1C279.4 233.7 278.6 234.3 277.8 235C277 235.6 276.2 236.2 275.5 236.8C274.7 237.4 273.9 238.1 273.1 238.7C272.3 239.3 271.5 239.9 270.7 240.5C269.9 241.1 269.1 241.7 268.4 242.4C267.6 243 266.8 243.6 266 244.2C265.2 244.8 264.4 245.4 263.6 246C262.8 246.6 262 247.2 261.2 247.9C260.4 248.5 259.6 249.1 258.8 249.7C258.1 250.3 257.3 250.9 256.5 251.5C255.7 252.1 254.9 252.7 254.1 253.3C253.3 253.9 252.5 254.5 251.7 255.2C250.9 255.8 250.1 256.4 249.3 257C248.5 257.6 247.7 258.2 246.9 258.8C246.1 259.4 245.3 260 244.6 260.6C243.8 261.2 243 261.9 242.2 262.5C241.4 263.1 240.6 263.7 239.8 264.3C239 264.9 238.2 265.5 237.4 266.1C236.6 266.7 235.8 267.4 235 268C234.3 268.6 233.5 269.2 232.7 269.8C231.9 270.4 231.1 271 230.3 271.7C229.5 272.3 228.7 272.9 228 273.5C227.2 274.1 226.4 274.8 225.6 275.4C224.8 276 224 276.6 223.2 277.2C222.5 277.9 221.7 278.5 220.9 279.1C220.1 279.7 219.3 280.4 218.6 281C217.8 281.6 217 282.2 216.2 282.9C215.5 283.5 214.7 284.1 213.9 284.8Q208.1 288 214.7 287.3C215.7 287.4 216.7 287.4 217.7 287.5C218.7 287.6 219.7 287.6 220.7 287.7C221.7 287.8 222.7 287.8 223.7 287.9C224.7 287.9 225.8 288 226.8 288C227.8 288 228.8 288.1 229.8 288.1C230.8 288.2 231.8 288.2 232.8 288.2C233.8 288.2 234.8 288.3 235.8 288.3C236.8 288.3 237.8 288.3 238.8 288.3C239.8 288.3 240.9 288.3 241.9 288.3C242.9 288.3 243.9 288.3 244.9 288.3C245.9 288.3 246.9 288.3 247.9 288.3C248.9 288.3 249.9 288.2 250.9 288.2C251.9 288.2 252.9 288.1 254 288.1C255 288.1 256 288 257 288C258 287.9 259 287.9 260 287.8C261 287.8 262 287.7 263 287.6C264 287.6 265 287.5 266 287.4C267 287.3 268 287.3 269 287.2C270 287.1 271 287 272 286.9C273 286.8 274 286.7 275.1 286.6C276.1 286.5 277.1 286.4 278.1 286.2C279.1 286.1 280.1 286 281.1 285.9C282.1 285.7 283 285.6 284 285.5C285 285.3 286 285.2 287 285C288 284.9 289 284.7 290 284.5C291 284.4 292 284.2 293 284C294 283.9 295 283.7 296 283.5C297 283.3 298 283.1 298.9 282.9C299.9 282.7 300.9 282.5 301.9 282.3C302.9 282.1 303.9 281.9 304.9 281.7C305.8 281.5 306.8 281.2 307.8 281C308.8 280.8 309.8 280.6 310.7 280.3C311.7 280.1 312.7 279.8 313.7 279.6C314.7 279.3 315.6 279.1 316.6 278.8C317.6 278.5 318.5 278.3 319.5 278C320.5 277.7 321.5 277.4 322.4 277.2C323.4 276.9 324.4 276.6 325.3 276.3C326.3 276 327.2 275.7 328.2 275.4C329.2 275.1 330.1 274.8 331.1 274.5C332 274.1 333 273.8 333.9 273.5C334.9 273.2 335.8 272.8 336.8 272.5C337.7 272.1 338.7 271.8 339.6 271.4C340.6 271.1 341.5 270.7 342.5 270.4C343.4 270 344.3 269.6 345.3 269.3C346.2 268.9 347.1 268.5 348.1 268.1C349 267.8 349.9 267.4 350.9 267C351.8 266.6 352.7 266.2 353.6 265.8C354.6 265.4 355.5 265 356.4 264.6C357.3 264.2 358.2 263.7 359.2 263.3C360.1 262.9 361 262.5 361.9 262C362.8 261.6 363.7 261.2 364.6 260.7C365.5 260.3 366.4 259.8 367.3 259.4C368.2 258.9 369.1 258.5 370 258C370.9 257.5 371.8 257.1 372.7 256.6C373.6 256.1 374.5 255.6 375.4 255.2C376.2 254.7 377.1 254.2 378 253.7C378.9 253.2 379.8 252.7 380.6 252.2C381.5 251.7 382.4 251.2 383.2 250.7C384.1 250.2 385 249.7 385.8 249.2C386.7 248.6 387.6 248.1 388.4 247.6C389.3 247.1 390.1 246.5 391 246" stroke="#FF00FF"/>
<path d="M391 217.2C392 217.1 393 217.1 394 216.9C395 216.8 395.9 216.7 396.9 216.5C397.9 216.4 398.9 216.1 399.9 215.9C400.8 215.7 401.8 215.4 402.7 215.2C403.7 214.9 404.6 214.6 405.6 214.3C406.5 214 407.5 213.7 408.4 213.3C409.3 212.9 410.3 212.6 411.2 212.2C412.1 211.8 413 211.4 413.9 211C414.8 210.6 415.7 210.1 416.6 209.7C417.5 209.3 418.4 208.8 419.3 208.3C420.1 207.9 421 207.4 421.9 206.9C422.7 206.4 423.6 205.9 424.5 205.4C425.3 204.9 426.2 204.4 427 203.9C427.9 203.4 428.7 202.8 429.6 202.3C430.4 201.8 431.2 201.2 432.1 200.7C432.9 200.2 433.7 199.6 434.5 199C435.4 198.5 436.2 197.9 437 197.4C437.8 196.8 438.6 196.2 439.5 195.7C440.3 195.1 441.1 194.5 441.9 193.9C442.7 193.4 443.5 192.8 444.3 192.2C445.1 191.6 445.9 191 446.7 190.4C447.5 189.9 448.3 189.3 449.1 188.7C449.9 188.1 450.7 187.5 451.5 186.9C452.3 186.3 453.1 185.7 453.9 185.1C454.7 184.5 455.5 183.9 456.3 183.4C457.1 182.8 457.9 182.2 458.7 181.6C459.5 181 460.3 180.4 461.1 179.8C461.9 179.2 462.7 178.6 463.5 178C464.3 177.5 465.2 176.9 466 176.3C466.8 175.7 467.6 175.1 468.4 174.5C469.2 174 470 173.4 470.8 172.8C471.6 172.2 472.4 171.6 473.2 171C474 170.5 474.8 169.9 475.6 169.3C476.4 168.7 477.3 168.2 478.1 167.6C478.9 167 479.7 166.4 480.5 165.8C481.3 165.3 482.1 164.7 482.9 164.1C483.7 163.5 484.5 163 485.4 162.4C486.2 161.8 487 161.2 487.8 160.6C488.6 160.1 489.4 159.5 490.2 158.9C491 158.3 491.8 157.8 492.6 157.2C493.5 156.6 494.3 156 495.1 155.4C495.9 154.9 496.7 154.3 497.5 153.7C498.3 153.1 499.1 152.5 499.9 152C500.7 151.4 501.5 150.8 502.3 150.2C503.2 149.6 504 149.1 504.8 148.5C505.6 147.9 506.4 147.3 507.2 146.7C508 146.1 508.8 145.5 509.6 145C510.4 144.4 511.2 143.8 512 143.2C512.8 142.6 513.6 142 514.4 141.4C515.2 140.8 516 140.2 516.8 139.6C517.6 139 518.4 138.4 519.2 137.8C520 137.3 520.8 136.7 521.6 136.1C522.3 135.5 523.1 134.8 523.9 134.2C524.7 133.6 525.5 133 526.3 132.4C527.1 131.8 527.9 131.2 528.7 130.6C529.5 130 530.2 129.4 531 128.8C531.8 128.2 532.6 127.6 533.4 127C534.2 126.3 535 125.7 535.7 125.1C536.5 124.5 537.3 123.9 538.1 123.3C538.9 122.7 539.6 122.1 540.4 121.4C541.2 120.8 542 120.2 542.8 119.6C543.6 119 544.3 118.4 545.1 117.7C545.9 117.1 546.7 116.5 547.5 115.9C548.2 115.3 549 114.7 549.8 114.1C550.6 113.4 551.4 112.8 552.2 112.2C552.9 111.6 553.7 111 554.5 110.4C555.3 109.8 556.1 109.1 556.9 108.5C557.6 107.9 558.4 107.3 559.2 106.7C560 106.1 560.8 105.5 561.6 104.8C562.3 104.2 563.1 103.6 563.9 103C564.7 102.4 565.5 101.8 566.3 101.2C567.1 100.6 567.8 100 568.6 99.4C569.4 98.8 570.2 98.2 571 97.6C571.8 97 572.6 96.3 573.4 95.7C574.2 95.1 575 94.5 575.8 93.9C576.6 93.4 577.3 92.8 578.1 92.2C578.9 91.6 579.7 91 580.5 90.4C581.3 89.8 582.1 89.2 582.9 88.6C583.7 88 584.6 87.4 585.4 86.9C586.2 86.3 587 85.7 587.8 85.1C588.6 84.5 589.4 84 590.2 83.4C591 82.8 591.8 82.2 592.7 81.7C593.5 81.1 594.3 80.5 595.1 80Q601.2 77.4 594.6 77.3C593.6 77.1 592.6 76.9 591.6 76.7C590.6 76.5 589.7 76.3 588.7 76.1C587.7 76 586.7 75.8 585.7 75.6C584.7 75.5 583.7 75.3 582.7 75.2C581.8 75 580.8 74.9 579.8 74.7C578.8 74.6 577.8 74.5 576.8 74.3C575.8 74.2 574.8 74.1 573.8 74C572.8 73.9 571.8 73.8 570.8 73.7C569.8 73.6 568.8 73.5 567.8 73.4C566.8 73.3 565.8 73.3 564.8 73.2C563.8 73.1 562.8 73.1 561.8 73C560.8 73 559.8 72.9 558.8 72.9C557.8 72.8 556.8 72.8 555.8 72.8C554.8 72.7 553.8 72.7 552.8 72.7C551.8 72.7 550.8 72.7 549.8 72.7C548.8 72.6 547.8 72.6 546.8 72.7C545.8 72.7 544.8 72.7 543.8 72.7C542.8 72.7 541.8 72.7 540.8 72.8C539.8 72.8 538.8 72.9 537.8 72.9C536.8 72.9 535.8 73 534.8 73.1C533.8 73.1 532.8 73.2 531.8 73.2C530.8 73.3 529.8 73.4 528.8 73.5C527.8 73.6 526.8 73.6 525.8 73.7C524.8 73.8 523.8 73.9 522.8 74C521.8 74.1 520.8 74.2 519.8 74.4C518.8 74.5 517.8 74.6 516.8 74.7C515.8 74.9 514.8 75 513.8 75.1C512.9 75.3 511.9 75.4 510.9 75.6C509.9 75.7 508.9 75.9 507.9 76C506.9 76.2 505.9 76.4 504.9 76.5C503.9 76.7 503 76.9 502 77.1C501 77.2 500 77.4 499 77.6C498 77.8 497.1 78 496.1 78.2C495.1 78.4 494.1 78.6 493.1 78.8C492.2 79 491.2 79.3 490.2 79.5C489.2 79.7 488.2 79.9 487.3 80.2C486.3 80.4 485.3 80.6 484.3 80.9C483.4 81.1 482.4 81.4 481.4 81.6C480.5 81.9 479.5 82.1 478.5 82.4C477.6 82.6 476.6 82.9 475.6 83.2C474.7 83.5 473.7 83.7 472.7 84C471.8 84.3 470.8 84.6 469.9 84.9C468.9 85.2 468 85.5 467 85.8C466 86.1 465.1 86.4 464.1 86.7C463.2 87.1 462.2 87.4 461.3 87.7C460.4 88 459.4 88.4 458.5 88.7C457.5 89.1 456.6 89.4 455.7 89.8C454.7 90.1 453.8 90.5 452.8 90.8C451.9 91.2 451 91.6 450.1 92C449.1 92.3 448.2 92.7 447.3 93.1C446.4 93.5 445.4 93.9 444.5 94.3C443.6 94.7 442.7 95.1 441.8 95.5C440.9 96 440 96.4 439.1 96.8C438.1 97.2 437.2 97.7 436.3 98.1C435.4 98.5 434.5 99 433.6 99.4C432.8 99.9 431.9 100.4 431 100.8C430.1 101.3 429.2 101.7 428.3 102.2C427.4 102.7 426.6 103.2 425.7 103.7C424.8 104.2 423.9 104.6 423.1 105.1C422.2 105.6 421.3 106.2 420.5 106.7C419.6 107.2 418.7 107.7 417.9 108.2C417 108.7 416.2 109.3 415.3 109.8C414.5 110.3 413.6 110.9 412.8 111.4C412 112 411.1 112.5 410.3 113.1C409.5 113.6 408.6 114.2 407.8 114.7C407 115.3 406.1 115.9 405.3 116.5C404.5 117 403.7 117.6 402.9 118.2C402.1 118.8 401.3 119.4 400.5 120C399.6 120.6 398.8 121.2 398 121.8C397.3 122.4 396.5 123 395.7 123.6C394.9 124.2 394.1 124.8 393.3 125.5C392.5 126.1 391.7 126.7 391 127.3C390.2 128 389.4 128.6 388.6 129.3C387.9 129.9 387.1 130.5 386.3 131.2C385.6 131.8 384.8 132.5 384 133.1C383.3 133.8 382.5 134.4 381.8 135.1C381 135.7 380.2 136.4 379.5 137.1C378.7 137.7 378 138.4 377.2 139C376.5 139.7 375.7 140.4 375 141.1C374.2 141.7 373.5 142.4 372.8 143.1C372 143.7 371.3 144.4 370.5 145.1C369.8 145.8 369.1 146.5 368.3 147.1C367.6 147.8 366.9 148.5 366.1 149.2C365.4 149.9 364.7 150.6 363.9 151.2C363.2 151.9 362.5 152.6 361.8 153.3C361 154 360.3 154.7 359.6 155.4C358.8 156.1 358.1 156.8 357.4 157.4C356.7 158.1 356 158.8 355.2 159.5C354.5 160.2 353.8 160.9 353.1 161.6C352.3 162.3 351.6 163 350.9 163.7C350.2 164.4 349.5 165.1 348.7 165.8C348 166.5 347.3 167.2 346.6 167.9C345.9 168.6 345.1 169.3 344.4 170C343.7 170.7 343 171.4 342.3 172.1C341.5 172.8 340.8 173.5 340.1 174.2C339.4 174.9 338.7 175.6 338 176.3C337.2 177 336.5 177.6 335.8 178.3C335.1 179 334.4 179.7 333.6 180.4C332.9 181.1 332.2 181.8 331.5 182.5C330.7 183.2 330 183.9 329.3 184.6C328.6 185.3 327.9 186 327.1 186.7C326.4 187.4 325.7 188.1 325 188.8C324.2 189.5 323.5 190.2 322.8 190.8C322.1 191.5 321.3 192.2 320.6 192.9C319.9 193.6 319.2 194.3 318.4 195C317.7 195.7 317 196.4 316.2 197.1C315.5 197.7 314.8 198.4 314.1 199.1C313.3 199.8 312.6 200.5 311.9 201.2C311.1 201.9 310.4 202.5 309.7 203.2C308.9 203.9 308.2 204.6 307.5 205.3C306.7 205.9 306 206.6 305.3 207.3C304.5 208 303.8 208.7 303 209.3C302.3 210 301.6 210.7 300.8 211.4C300.1 212 299.3 212.7 298.6 213.4C297.8 214 297.1 214.7 296.3 215.4C295.6 216.1 294.9 216.7 294.1 217.4C293.4 218.1 292.6 218.7 291.9 219.4C291.1 220 290.4 220.7 289.6 221.4C288.8 222 288.1 222.7 287.3 223.3C286.6 224 285.8 224.7 285.1 225.3C284.3 226 283.5 226.6 282.8 227.3C282 227.9 281.3 228.6 280.5 229.2C279.7 229.9 279 230.5 278.2 231.2C277.4 231.8 276.7 232.5 275.9 233.1C275.1 233.8 274.4 234.4 273.6 235C272.8 235.7 272.1 236.3 271.3 237C270.5 237.6 269.8 238.2 269 238.9C268.2 239.5 267.4 240.2 266.7 240.8C265.9 241.4 265.1 242.1 264.3 242.7C263.6 243.3 262.8 244 262 244.6C261.2 245.2 260.4 245.8 259.7 246.5C258.9 247.1 258.1 247.7 257.3 248.3C256.5 249 255.7 249.6 255 250.2C254.2 250.8 253.4 251.5 252.6 252.1C251.8 252.7 251 253.3 250.2 253.9C249.4 254.5 248.6 255.2 247.9 255.8C247.1 256.4 246.3 257 245.5 257.6C244.7 258.2 243.9 258.8 243.1 259.4C242.3 260.1 241.5 260.7 240.7 261.3C239.9 261.9 239.1 262.5 238.3 263.1C237.5 263.7 236.7 264.3 235.9 264.9C235.1 265.5 234.3 266.1 233.5 266.7C232.7 267.3 231.9 267.9 231.1 268.5C230.3 269.1 229.5 269.7 228.7 270.3C227.9 270.9 227.1 271.5 226.3 272.1C225.4 272.7 224.6 273.3 223.8 273.8C223 274.4 222.2 275 221.4 275.6C220.6 276.2 219.8 276.8 219 277.4C218.2 278 217.3 278.5 216.5 279.1C215.7 279.7 214.9 280.3 214.1 280.9C213.3 281.5 212.4 282 211.6 282.6C210.8 283.2 210 283.8 209.2 284.4C208.4 284.9 207.5 285.5 206.7 286.1C205.9 286.7 205.1 287.2 204.3 287.8C203.4 288.4 202.6 289 201.8 289.5C201 290.1 200.1 290.7 199.3 291.2C198.5 291.8 197.7 292.4 196.8 293C196 293.5 195.2 294.1 194.4 294.7C193.5 295.2 192.7 295.8 191.9 296.3C191.1 296.9 190.2 297.5 189.4 298Q183.3 300.7 190 300.6C190.9 300.7 191.9 300.9 192.9 301C193.9 301.2 194.9 301.3 195.8 301.5C196.8 301.6 197.8 301.7 198.8 301.9C199.8 302 200.8 302.1 201.8 302.2C202.7 302.3 203.7 302.5 204.7 302.6C205.7 302.7 206.7 302.8 207.7 302.9C208.7 303 209.7 303.1 210.6 303.1C211.6 303.2 212.6 303.3 213.6 303.4C214.6 303.5 215.6 303.5 216.6 303.6C217.6 303.7 218.6 303.7 219.6 303.8C220.6 303.8 221.5 303.9 222.5 303.9C223.5 304 224.5 304 225.5 304C226.5 304.1 227.5 304.1 228.5 304.1C229.5 304.1 230.5 304.2 231.5 304.2C232.5 304.2 233.5 304.2 234.5 304.2C235.4 304.2 236.4 304.2 237.4 304.2C238.4 304.2 239.4 304.2 240.4 304.1C241.4 304.1 242.4 304.1 243.4 304.1C244.4 304 245.4 304 246.4 303.9C247.4 303.9 248.4 303.8 249.3 303.8C250.3 303.7 251.3 303.7 252.3 303.6C253.3 303.5 254.3 303.5 255.3 303.4C256.3 303.3 257.3 303.2 258.3 303.2C259.2 303.1 260.2 303 261.2 302.9C262.2 302.8 263.2 302.7 264.2 302.6C265.2 302.5 266.2 302.3 267.1 302.2C268.1 302.1 269.1 302 270.1 301.8C271.1 301.7 272.1 301.6 273.1 301.4C274 301.3 275 301.1 276 301C277 300.8 278 300.7 278.9 300.5C279.9 300.3 280.9 300.2 281.9 300C282.9 299.8 283.8 299.6 284.8 299.4C285.8 299.3 286.8 299.1 287.7 298.9C288.7 298.7 289.7 298.5 290.6 298.3C291.6 298.1 292.6 297.8 293.6 297.6C294.5 297.4 295.5 297.2 296.5 297C297.4 296.7 298.4 296.5 299.4 296.2C300.3 296 301.3 295.8 302.2 295.5C303.2 295.3 304.2 295 305.1 294.7C306.1 294.5 307 294.2 308 293.9C308.9 293.7 309.9 293.4 310.9 293.1C311.8 292.8 312.8 292.5 313.7 292.3C314.7 292 315.6 291.7 316.6 291.4C317.5 291.1 318.4 290.8 319.4 290.4C320.3 290.1 321.3 289.8 322.2 289.5C323.1 289.2 324.1 288.8 325 288.5C326 288.2 326.9 287.8 327.8 287.5C328.8 287.1 329.7 286.8 330.6 286.4C331.5 286.1 332.5 285.7 333.4 285.4C334.3 285 335.2 284.6 336.2 284.3C337.1 283.9 338 283.5 338.9 283.1C339.8 282.7 340.7 282.4 341.7 282C342.6 281.6 343.5 281.2 344.4 280.8C345.3 280.4 346.2 279.9 347.1 279.5C348 279.1 348.9 278.7 349.8 278.3C350.7 277.9 351.6 277.4 352.5 277C353.4 276.6 354.3 276.1 355.2 275.7C356.1 275.2 356.9 274.8 357.8 274.3C358.7 273.9 359.6 273.4 360.5 273C361.3 272.5 362.2 272 363.1 271.6C364 271.1 364.8 270.6 365.7 270.1C366.6 269.7 367.4 269.2 368.3 268.7C369.2 268.2 370 267.7 370.9 267.2C371.8 266.7 372.6 266.2 373.5 265.7C374.3 265.2 375.2 264.7 376 264.2C376.9 263.6 377.7 263.1 378.6 262.6C379.4 262.1 380.2 261.5 381.1 261C381.9 260.5 382.8 259.9 383.6 259.4C384.4 258.8 385.2 258.3 386.1 257.8C386.9 257.2 387.7 256.6 388.5 256.1C389.4 255.5 390.2 255 391 254.4" stroke="#FFFF00"/>
<path d="M391 225.1C392 224.9 392.9 224.7 393.9 224.5C394.9 224.2 395.9 224 396.8 223.7C397.8 223.5 398.7 223.2 399.7 222.9C400.6 222.6 401.6 222.3 402.5 222C403.5 221.7 404.4 221.3 405.3 221C406.3 220.6 407.2 220.3 408.1 219.9C409.1 219.5 410 219.2 410.9 218.8C411.8 218.4 412.7 218 413.6 217.6C414.5 217.1 415.4 216.7 416.3 216.3C417.2 215.9 418.1 215.4 419 215C419.9 214.5 420.8 214.1 421.7 213.6C422.5 213.1 423.4 212.6 424.3 212.2C425.2 211.7 426 211.2 426.9 210.7C427.7 210.2 428.6 209.7 429.5 209.2C430.3 208.7 431.2 208.1 432 207.6C432.9 207.1 433.7 206.6 434.5 206C435.4 205.5 436.2 204.9 437.1 204.4C437.9 203.9 438.7 203.3 439.5 202.7C440.4 202.2 441.2 201.6 442 201.1C442.8 200.5 443.6 199.9 444.5 199.4C445.3 198.8 446.1 198.2 446.9 197.6C447.7 197 448.5 196.4 449.3 195.9C450.1 195.3 450.9 194.7 451.7 194.1C452.5 193.5 453.3 192.9 454.1 192.3C454.9 191.7 455.7 191.1 456.5 190.5C457.3 189.9 458 189.2 458.8 188.6C459.6 188 460.4 187.4 461.2 186.8C462 186.2 462.7 185.5 463.5 184.9C464.3 184.3 465.1 183.7 465.8 183C466.6 182.4 467.4 181.8 468.1 181.1C468.9 180.5 469.7 179.9 470.5 179.2C471.2 178.6 472 178 472.8 177.3C473.5 176.7 474.3 176.1 475 175.4C475.8 174.8 476.6 174.1 477.3 173.5C478.1 172.9 478.8 172.2 479.6 171.6C480.4 170.9 481.1 170.3 481.9 169.6C482.6 169 483.4 168.3 484.1 167.7C484.9 167 485.7 166.4 486.4 165.7C487.2 165.1 487.9 164.4 488.7 163.8C489.4 163.1 490.2 162.5 490.9 161.8C491.7 161.2 492.4 160.5 493.2 159.9C493.9 159.2 494.7 158.6 495.4 157.9C496.2 157.2 497 156.6 497.7 155.9C498.5 155.3 499.2 154.6 500 154C500.7 153.3 501.5 152.7 502.2 152C503 151.4 503.7 150.7 504.5 150C505.2 149.4 506 148.7 506.7 148.1C507.5 147.4 508.2 146.8 508.9 146.1C509.7 145.4 510.4 144.8 511.2 144.1C511.9 143.5 512.7 142.8 513.4 142.2C514.2 141.5 514.9 140.8 515.7 140.2C516.4 139.5 517.2 138.9 517.9 138.2C518.7 137.5 519.4 136.9 520.2 136.2C520.9 135.6 521.7 134.9 522.4 134.3C523.1 133.6 523.9 132.9 524.6 132.3C525.4 131.6 526.1 131 526.9 130.3C527.6 129.6 528.4 129 529.1 128.3C529.9 127.7 530.6 127 531.4 126.3C532.1 125.7 532.8 125 533.6 124.3C534.3 123.7 535.1 123 535.8 122.4C536.6 121.7 537.3 121 538.1 120.4C538.8 119.7 539.6 119.1 540.3 118.4C541 117.7 541.8 117.1 542.5 116.4C543.3 115.8 544 115.1 544.8 114.4C545.5 113.8 546.3 113.1 547 112.4C547.7 111.8 548.5 111.1 549.2 110.5C550 109.8 550.7 109.1 551.5 108.5C552.2 107.8 553 107.2 553.7 106.5C554.4 105.8 555.2 105.2 555.9 104.5C556.7 103.8 557.4 103.2 558.2 102.5C558.9 101.9 559.7 101.2 560.4 100.5C561.2 99.9 561.9 99.2 562.6 98.6C563.4 97.9 564.1 97.2 564.9 96.6C565.6 95.9 566.4 95.3 567.1 94.6C567.9 93.9 568.6 93.3 569.4 92.6C570.1 92 570.8 91.3 571.6 90.6C572.3 90 573.1 89.3 573.8 88.7C574.6 88 575.3 87.3 576.1 86.7C576.8 86 577.6 85.4 578.3 84.7C579.1 84 579.8 83.4 580.6 82.7C581.3 82.1 582 81.4 582.8 80.7C583.5 80.1 584.3 79.4 585 78.8C585.8 78.1 586.5 77.5 587.3 76.8C588 76.1 588.8 75.5 589.5 74.8C590.3 74.2 591 73.5 591.8 72.9C592.5 72.2 593.3 71.6 594 70.9C594.8 70.2 595.5 69.6 596.3 68.9C597 68.3 597.8 67.6 598.5 67C599.3 66.3 600 65.7 600.8 65C601.5 64.4 602.3 63.7 603 63C603.8 62.4 604.5 61.7 605.3 61.1C606 60.4 606.8 59.8 607.6 59.1C608.3 58.5 609.1 57.8 609.8 57.2C610.6 56.5 611.3 55.9 612.1 55.2C612.8 54.6 613.6 53.9 614.3 53.3Q620 50.2 613.6 50.2C612.6 50 611.6 49.8 610.6 49.6C609.7 49.4 608.7 49.2 607.7 49.1C606.7 48.9 605.7 48.7 604.7 48.5C603.8 48.4 602.8 48.2 601.8 48C600.8 47.9 599.8 47.7 598.8 47.6C597.8 47.4 596.8 47.3 595.9 47.1C594.9 47 593.9 46.9 592.9 46.7C591.9 46.6 590.9 46.5 589.9 46.4C588.9 46.3 587.9 46.2 586.9 46.1C585.9 46 584.9 45.9 583.9 45.8C582.9 45.7 581.9 45.6 580.9 45.5C579.9 45.4 578.9 45.4 577.9 45.3C576.9 45.2 575.9 45.2 574.9 45.1C573.9 45.1 572.9 45 571.9 45C570.9 44.9 569.9 44.9 568.9 44.8C567.9 44.8 566.9 44.8 565.9 44.8C564.9 44.7 563.9 44.7 562.9 44.7C561.9 44.7 560.9 44.7 559.9 44.7C558.9 44.7 557.9 44.7 556.9 44.7C555.9 44.7 554.9 44.7 553.9 44.8C552.9 44.8 551.9 44.8 550.9 44.8C549.9 44.9 548.9 44.9 547.9 44.9C546.9 45 545.9 45 544.9 45.1C543.9 45.1 542.9 45.2 542 45.2C541 45.3 540 45.4 539 45.4C538 45.5 537 45.6 536 45.7C535 45.7 534 45.8 533 45.9C532 46 531 46.1 530 46.2C529 46.3 528 46.4 527 46.5C526 46.6 525 46.7 524 46.8C523 46.9 522 47.1 521 47.2C520 47.3 519.1 47.4 518.1 47.6C517.1 47.7 516.1 47.8 515.1 48C514.1 48.1 513.1 48.3 512.1 48.4C511.1 48.6 510.1 48.7 509.2 48.9C508.2 49 507.2 49.2 506.2 49.3C505.2 49.5 504.2 49.7 503.2 49.9C502.2 50 501.3 50.2 500.3 50.4C499.3 50.6 498.3 50.7 497.3 50.9C496.3 51.1 495.4 51.3 494.4 51.5C493.4 51.7 492.4 51.9 491.4 52.1C490.5 52.3 489.5 52.5 488.5 52.7C487.5 52.9 486.5 53.1 485.6 53.3C484.6 53.6 483.6 53.8 482.6 54C481.7 54.2 480.7 54.5 479.7 54.7C478.7 54.9 477.8 55.2 476.8 55.4C475.8 55.6 474.9 55.9 473.9 56.1C472.9 56.4 472 56.6 471 56.9C470 57.2 469.1 57.4 468.1 57.7C467.1 58 466.2 58.2 465.2 58.5C464.2 58.8 463.3 59.1 462.3 59.4C461.4 59.7 460.4 60 459.5 60.3C458.5 60.6 457.6 60.9 456.6 61.2C455.7 61.5 454.7 61.8 453.8 62.2C452.8 62.5 451.9 62.8 450.9 63.2C450 63.5 449.1 63.8 448.1 64.2C447.2 64.5 446.3 64.9 445.3 65.3C444.4 65.6 443.5 66 442.5 66.4C441.6 66.8 440.7 67.1 439.8 67.5C438.8 67.9 437.9 68.3 437 68.7C436.1 69.1 435.2 69.5 434.3 70C433.4 70.4 432.5 70.8 431.6 71.2C430.7 71.7 429.8 72.1 428.9 72.6C428 73 427.1 73.5 426.2 73.9C425.3 74.4 424.4 74.8 423.5 75.3C422.6 75.8 421.8 76.3 420.9 76.7C420 77.2 419.1 77.7 418.3 78.2C417.4 78.7 416.5 79.2 415.7 79.7C414.8 80.2 414 80.8 413.1 81.3C412.3 81.8 411.4 82.3 410.6 82.9C409.7 83.4 408.9 84 408.1 84.5C407.2 85.1 406.4 85.6 405.6 86.2C404.7 86.7 403.9 87.3 403.1 87.9C402.3 88.5 401.5 89 400.6 89.6C399.8 90.2 399 90.8 398.2 91.4C397.4 92 396.6 92.6 395.8 93.2C395 93.8 394.3 94.4 393.5 95C392.7 95.7 391.9 96.3 391.1 96.9C390.3 97.6 389.6 98.2 388.8 98.8C388 99.5 387.3 100.1 386.5 100.8C385.8 101.4 385 102.1 384.3 102.7C383.5 103.4 382.8 104.1 382 104.7C381.3 105.4 380.5 106.1 379.8 106.8C379.1 107.4 378.3 108.1 377.6 108.8C376.9 109.5 376.2 110.2 375.4 110.9C374.7 111.6 374 112.3 373.3 113C372.6 113.7 371.9 114.4 371.2 115.1C370.5 115.9 369.8 116.6 369.1 117.3C368.4 118 367.7 118.7 367 119.5C366.4 120.2 365.7 120.9 365 121.7C364.3 122.4 363.6 123.1 363 123.9C362.3 124.6 361.6 125.4 361 126.1C360.3 126.8 359.6 127.6 359 128.3C358.3 129.1 357.6 129.8 357 130.6C356.3 131.3 355.6 132.1 355 132.8C354.3 133.6 353.7 134.4 353 135.1C352.4 135.9 351.7 136.6 351.1 137.4C350.4 138.1 349.8 138.9 349.1 139.7C348.5 140.4 347.8 141.2 347.2 142C346.5 142.7 345.9 143.5 345.2 144.2C344.6 145 343.9 145.8 343.3 146.5C342.6 147.3 342 148.1 341.3 148.8C340.7 149.6 340.1 150.3 339.4 151.1C338.8 151.9 338.1 152.6 337.5 153.4C336.8 154.2 336.2 154.9 335.5 155.7C334.9 156.5 334.2 157.2 333.6 158C332.9 158.7 332.3 159.5 331.6 160.3C331 161 330.3 161.8 329.7 162.5C329 163.3 328.4 164.1 327.7 164.8C327.1 165.6 326.4 166.3 325.8 167.1C325.1 167.8 324.5 168.6 323.8 169.4C323.1 170.1 322.5 170.9 321.8 171.6C321.2 172.4 320.5 173.1 319.9 173.9C319.2 174.6 318.5 175.4 317.9 176.1C317.2 176.9 316.6 177.6 315.9 178.4C315.2 179.1 314.6 179.9 313.9 180.6C313.2 181.4 312.6 182.1 311.9 182.9C311.3 183.6 310.6 184.4 309.9 185.1C309.3 185.9 308.6 186.6 307.9 187.4C307.3 188.1 306.6 188.9 305.9 189.6C305.3 190.4 304.6 191.1 303.9 191.9C303.3 192.6 302.6 193.3 301.9 194.1C301.3 194.8 300.6 195.6 299.9 196.3C299.3 197.1 298.6 197.8 297.9 198.5C297.2 199.3 296.6 200 295.9 200.8C295.2 201.5 294.6 202.3 293.9 203C293.2 203.7 292.5 204.5 291.9 205.2C291.2 206 290.5 206.7 289.8 207.4C289.2 208.2 288.5 208.9 287.8 209.7C287.1 210.4 286.5 211.1 285.8 211.9C285.1 212.6 284.4 213.3 283.8 214.1C283.1 214.8 282.4 215.6 281.7 216.3C281.1 217 280.4 217.8 279.7 218.5C279 219.2 278.4 220 277.7 220.7C277 221.5 276.3 222.2 275.7 222.9C275 223.7 274.3 224.4 273.6 225.1C272.9 225.9 272.3 226.6 271.6 227.3C270.9 228.1 270.2 228.8 269.5 229.5C268.9 230.3 268.2 231 267.5 231.7C266.8 232.5 266.1 233.2 265.4 233.9C264.8 234.7 264.1 235.4 263.4 236.1C262.7 236.8 262 237.6 261.3 238.3C260.6 239 260 239.8 259.3 240.5C258.6 241.2 257.9 241.9 257.2 242.7C256.5 243.4 255.8 244.1 255.1 244.8C254.4 245.6 253.7 246.3 253.1 247C252.4 247.7 251.7 248.4 251 249.2C250.3 249.9 249.6 250.6 248.9 251.3C248.2 252 247.5 252.7 246.8 253.4C246.1 254.2 245.4 254.9 244.7 255.6C244 256.3 243.3 257 242.6 257.7C241.8 258.4 241.1 259.1 240.4 259.8C239.7 260.5 239 261.2 238.3 261.9C237.6 262.6 236.9 263.3 236.1 264C235.4 264.7 234.7 265.4 234 266.1C233.3 266.8 232.5 267.5 231.8 268.2C231.1 268.9 230.4 269.6 229.6 270.3C228.9 270.9 228.2 271.6 227.4 272.3C226.7 273 226 273.7 225.2 274.3C224.5 275 223.8 275.7 223 276.4C222.3 277 221.5 277.7 220.8 278.4C220.1 279 219.3 279.7 218.6 280.4C217.8 281 217 281.7 216.3 282.3C215.5 283 214.8 283.6 214 284.3C213.2 284.9 212.5 285.6 211.7 286.2C210.9 286.9 210.2 287.5 209.4 288.1C208.6 288.8 207.9 289.4 207.1 290C206.3 290.7 205.5 291.3 204.7 291.9C203.9 292.5 203.2 293.2 202.4 293.8C201.6 294.4 200.8 295 200 295.6C199.2 296.2 198.4 296.8 197.6 297.5C196.8 298.1 196.1 298.7 195.3 299.3C194.5 299.9 193.7 300.5 192.9 301.1C192.1 301.7 191.3 302.3 190.5 302.9C189.7 303.6 188.9 304.2 188.1 304.8C187.3 305.4 186.5 306 185.7 306.6C185 307.2 184.2 307.8 183.4 308.4C182.6 309.1 181.8 309.7 181 310.3C180.2 310.9 179.5 311.6 178.7 312.2C177.9 312.8 177.2 313.5 176.4 314.2C175.7 314.8 174.9 315.5 174.2 316.2C173.5 316.9 172.8 317.6 172.1 318.3C171.4 319 170.7 319.8 170.1 320.5Q165.1 323.8 171 324.6C171.9 325 172.8 325.4 173.8 325.8C174.7 326.2 175.7 326.5 176.6 326.9C177.6 327.2 178.5 327.5 179.5 327.8C180.4 328.1 181.4 328.4 182.3 328.7C183.3 329 184.3 329.3 185.3 329.5C186.2 329.8 187.2 330 188.2 330.2C189.2 330.5 190.2 330.7 191.1 330.9C192.1 331.1 193.1 331.2 194.1 331.4C195.1 331.6 196.1 331.7 197.1 331.9C198.1 332 199.1 332.1 200.1 332.2C201.1 332.4 202.1 332.5 203.1 332.5C204.1 332.6 205.1 332.7 206.1 332.8C207.1 332.8 208.1 332.9 209.1 332.9C210.1 332.9 211.1 333 212.1 333C213.2 333 214.2 333 215.2 333C216.2 333 217.2 333 218.2 333C219.2 332.9 220.2 332.9 221.2 332.8C222.2 332.8 223.2 332.7 224.2 332.7C225.2 332.6 226.2 332.5 227.2 332.5C228.2 332.4 229.2 332.3 230.2 332.2C231.2 332.1 232.2 332 233.2 331.9C234.2 331.8 235.2 331.7 236.2 331.6C237.2 331.4 238.2 331.3 239.2 331.2C240.2 331 241.2 330.9 242.2 330.8C243.2 330.6 244.2 330.5 245.2 330.3C246.2 330.2 247.2 330 248.2 329.9C249.2 329.7 250.2 329.5 251.2 329.4C252.2 329.2 253.2 329 254.2 328.9C255.1 328.7 256.1 328.5 257.1 328.3C258.1 328.2 259.1 328 260.1 327.8C261.1 327.6 262.1 327.5 263.1 327.3C264.1 327.1 265 326.9 266 326.7C267 326.6 268 326.4 269 326.2C270 326 271 325.8 272 325.7C273 325.5 274 325.3 275 325.1C275.9 324.9 276.9 324.8 277.9 324.6C278.9 324.4 279.9 324.2 280.9 324C281.9 323.8 282.9 323.6 283.9 323.4C284.8 323.3 285.8 323.1 286.8 322.9C287.8 322.7 288.8 322.5 289.8 322.3C290.8 322.1 291.7 321.9 292.7 321.7C293.7 321.5 294.7 321.2 295.7 321C296.7 320.8 297.7 320.6 298.6 320.4C299.6 320.2 300.6 319.9 301.6 319.7C302.6 319.5 303.5 319.3 304.5 319C305.5 318.8 306.5 318.5 307.4 318.3C308.4 318.1 309.4 317.8 310.4 317.6C311.3 317.3 312.3 317 313.3 316.8C314.3 316.5 315.2 316.2 316.2 316C317.2 315.7 318.1 315.4 319.1 315.1C320.1 314.8 321 314.5 322 314.3C323 314 323.9 313.6 324.9 313.3C325.8 313 326.8 312.7 327.7 312.4C328.7 312.1 329.6 311.7 330.6 311.4C331.5 311.1 332.5 310.7 333.4 310.4C334.4 310 335.3 309.7 336.3 309.3C337.2 309 338.1 308.6 339.1 308.2C340 307.8 340.9 307.4 341.9 307.1C342.8 306.7 343.7 306.3 344.6 305.9C345.6 305.5 346.5 305.1 347.4 304.6C348.3 304.2 349.2 303.8 350.1 303.4C351 302.9 351.9 302.5 352.8 302C353.7 301.6 354.6 301.1 355.5 300.7C356.4 300.2 357.3 299.7 358.2 299.3C359.1 298.8 360 298.3 360.9 297.8C361.7 297.3 362.6 296.8 363.5 296.3C364.3 295.8 365.2 295.3 366.1 294.8C366.9 294.3 367.8 293.8 368.7 293.2C369.5 292.7 370.4 292.2 371.2 291.6C372.1 291.1 372.9 290.5 373.7 290C374.6 289.4 375.4 288.8 376.2 288.3C377.1 287.7 377.9 287.1 378.7 286.5C379.5 285.9 380.3 285.3 381.1 284.7C381.9 284.1 382.8 283.5 383.6 282.9C384.4 282.3 385.1 281.7 385.9 281.1C386.7 280.5 387.5 279.8 388.3 279.2" stroke="#808000"/>
<path d="M391.3 620.2C392.2 619.8 393.1 619.4 394.1 619C395 618.6 395.9 618.2 396.8 617.8C397.7 617.4 398.6 616.9 399.5 616.5C400.4 616.1 401.3 615.6 402.2 615.2C403.1 614.7 404 614.3 404.9 613.8C405.8 613.3 406.7 612.9 407.6 612.4C408.5 611.9 409.3 611.4 410.2 610.9C411.1 610.4 411.9 609.9 412.8 609.4C413.7 608.9 414.5 608.4 415.4 607.9C416.3 607.3 417.1 606.8 418 606.3C418.8 605.7 419.7 605.2 420.5 604.7C421.3 604.1 422.2 603.6 423 603C423.8 602.4 424.7 601.9 425.5 601.3C426.3 600.7 427.2 600.2 428 599.6C428.8 599 429.6 598.4 430.4 597.8C431.2 597.2 432 596.6 432.8 596C433.6 595.4 434.4 594.8 435.2 594.2C436 593.6 436.8 593 437.6 592.4C438.4 591.8 439.2 591.1 440 590.5C440.8 589.9 441.5 589.2 442.3 588.6C443.1 588 443.9 587.3 444.6 586.7C445.4 586 446.2 585.4 446.9 584.7C447.7 584.1 448.4 583.4 449.2 582.7C449.9 582.1 450.7 581.4 451.4 580.8C452.2 580.1 452.9 579.4 453.7 578.7C454.4 578.1 455.1 577.4 455.9 576.7C456.6 576 457.3 575.3 458.1 574.6Q463.6 570.8 457.1 572.6C456.1 572.8 455.2 572.9 454.2 573.1C453.2 573.3 452.2 573.5 451.3 573.7C450.3 573.9 449.3 574.1 448.4 574.3C447.4 574.6 446.4 574.8 445.5 575.1C444.5 575.3 443.6 575.6 442.6 575.9C441.7 576.2 440.7 576.5 439.8 576.8C438.9 577.1 437.9 577.4 437 577.8C436.1 578.1 435.1 578.5 434.2 578.8C433.3 579.2 432.4 579.6 431.5 579.9C430.5 580.3 429.6 580.7 428.7 581.1C427.8 581.5 426.9 581.9 426 582.3C425.1 582.7 424.2 583.2 423.3 583.6C422.4 584 421.5 584.5 420.7 584.9C419.8 585.4 418.9 585.8 418 586.3C417.1 586.7 416.3 587.2 415.4 587.7C414.5 588.2 413.7 588.7 412.8 589.1C411.9 589.6 411.1 590.1 410.2 590.6C409.4 591.1 408.5 591.6 407.7 592.1C406.8 592.7 406 593.2 405.1 593.7C404.3 594.2 403.4 594.7 402.6 595.3C401.8 595.8 400.9 596.3 400.1 596.9C399.3 597.4 398.4 598 397.6 598.5C396.8 599 396 599.6 395.1 600.2C394.3 600.7 393.5 601.3 392.7 601.8C391.9 602.4 391 603 390.2 603.5C389.4 604.1 388.6 604.7 387.8 605.2C387 605.8 386.2 606.4 385.4 607C384.6 607.5 383.8 608.1 383 608.7C382.2 609.3 381.4 609.9 380.6 610.5C379.8 611.1 379 611.7 378.2 612.2C377.4 612.8 376.6 613.4 375.8 614C375 614.6 374.2 615.2 373.4 615.8C372.7 616.4 371.9 617 371.1 617.6C370.3 618.2 369.5 618.8 368.7 619.4C367.9 620.1 367.2 620.7 366.4 621.3C365.6 621.9 364.8 622.5 364 623.1C363.3 623.7 362.5 624.3 361.7 624.9C360.9 625.5 360.1 626.2 359.4 626.8C358.6 627.4 357.8 628 357 628.6C356.2 629.2 355.5 629.8 354.7 630.5C353.9 631.1 353.1 631.7 352.4 632.3C351.6 632.9 350.8 633.5 350 634.2C349.3 634.8 348.5 635.4 347.7 636C346.9 636.6 346.2 637.3 345.4 637.9C344.6 638.5 343.8 639.1 343.1 639.7C342.3 640.3 341.5 641 340.7 641.6C339.9 642.2 339.2 642.8 338.4 643.4C337.6 644 336.8 644.6 336.1 645.3C335.3 645.9 334.5 646.5 333.7 647.1C332.9 647.7 332.2 648.3 331.4 648.9C330.6 649.5 329.8 650.1 329 650.8C328.2 651.4 327.5 652 326.7 652.6Q320.8 655.6 327.4 655C328.4 655.1 329.4 655.1 330.4 655.1C331.4 655.1 332.4 655 333.4 654.9C334.3 654.8 335.3 654.7 336.3 654.5C337.3 654.4 338.3 654.2 339.3 654C340.2 653.7 341.2 653.5 342.2 653.2C343.1 653 344.1 652.7 345 652.4C346 652.1 346.9 651.7 347.8 651.4C348.8 651 349.7 650.7 350.6 650.3C351.6 649.9 352.5 649.5 353.4 649.2C354.3 648.8 355.2 648.3 356.1 647.9C357 647.5 357.9 647.1 358.8 646.6C359.7 646.2 360.6 645.8 361.5 645.3C362.4 644.9 363.3 644.4 364.2 644C365.1 643.5 365.9 643.1 366.8 642.6C367.7 642.1 368.6 641.7 369.5 641.2C370.4 640.7 371.2 640.3 372.1 639.8C373 639.3 373.9 638.9 374.8 638.4C375.7 638 376.5 637.5 377.4 637.1C378.3 636.6 379.2 636.2 380.1 635.7C381 635.3 381.9 634.8 382.8 634.4C383.7 634 384.6 633.5 385.5 633.1C386.4 632.7 387.3 632.3 388.2 631.9C389.2 631.6 390.1 631.2 391 630.8" stroke="#000000"/>
<path d="M391.3 624.1C392.3 623.9 393.3 623.7 394.2 623.4C395.2 623.2 396.1 622.9 397.1 622.6C398 622.3 399 621.9 399.9 621.6C400.9 621.2 401.8 620.9 402.7 620.5C403.6 620.1 404.5 619.6 405.4 619.2C406.3 618.8 407.2 618.3 408.1 617.9C409 617.4 409.9 616.9 410.7 616.4C411.6 615.9 412.5 615.4 413.3 614.9C414.2 614.4 415 613.9 415.9 613.3C416.7 612.8 417.5 612.3 418.4 611.7C419.2 611.1 420 610.6 420.8 610C421.7 609.4 422.5 608.9 423.3 608.3C424.1 607.7 424.9 607.1 425.7 606.5C426.5 605.9 427.3 605.3 428.1 604.7C428.9 604.1 429.6 603.4 430.4 602.8C431.2 602.2 432 601.6 432.8 601C433.5 600.3 434.3 599.7 435.1 599.1C435.9 598.4 436.6 597.8 437.4 597.1C438.2 596.5 438.9 595.9 439.7 595.2C440.4 594.6 441.2 593.9 442 593.3C442.7 592.6 443.5 592 444.2 591.3C445 590.7 445.8 590 446.5 589.4C447.3 588.7 448 588.1 448.8 587.4C449.5 586.8 450.3 586.1 451 585.4C451.8 584.8 452.5 584.1 453.3 583.5C454.1 582.8 454.8 582.2 455.6 581.5C456.3 580.9 457.1 580.2 457.8 579.6C458.6 578.9 459.3 578.3 460.1 577.6C460.9 577 461.6 576.3 462.4 575.7C463.2 575 463.9 574.4 464.7 573.7C465.5 573.1 466.2 572.5 467 571.8C467.8 571.2 468.5 570.6 469.3 570C470.1 569.3 470.9 568.7 471.7 568.1C472.5 567.5 473.2 566.9 474 566.3C474.8 565.6 475.6 565 476.4 564.4C477.2 563.9 478 563.3 478.8 562.7C479.7 562.1 480.5 561.5 481.3 561Q487.4 558 480.7 559.1C479.7 559.2 478.7 559.2 477.7 559.3C476.7 559.4 475.7 559.5 474.7 559.6C473.7 559.7 472.7 559.8 471.7 560C470.7 560.1 469.7 560.3 468.8 560.4C467.8 560.6 466.8 560.8 465.8 561C464.8 561.2 463.8 561.4 462.8 561.6C461.9 561.8 460.9 562 459.9 562.3C459 562.5 458 562.8 457 563.1C456 563.3 455.1 563.6 454.1 563.9C453.2 564.2 452.2 564.5 451.3 564.8C450.3 565.1 449.4 565.4 448.4 565.7C447.5 566.1 446.5 566.4 445.6 566.8C444.6 567.1 443.7 567.5 442.8 567.8C441.8 568.2 440.9 568.6 440 569C439 569.3 438.1 569.7 437.2 570.1C436.3 570.5 435.4 570.9 434.5 571.4C433.5 571.8 432.6 572.2 431.7 572.6C430.8 573 429.9 573.5 429 573.9C428.1 574.4 427.2 574.8 426.3 575.3C425.4 575.7 424.5 576.2 423.7 576.7C422.8 577.1 421.9 577.6 421 578.1C420.1 578.6 419.3 579 418.4 579.5C417.5 580 416.6 580.5 415.8 581C414.9 581.5 414 582 413.2 582.5C412.3 583 411.4 583.6 410.6 584.1C409.7 584.6 408.9 585.1 408 585.6C407.2 586.2 406.3 586.7 405.5 587.2C404.6 587.8 403.8 588.3 402.9 588.9C402.1 589.4 401.2 589.9 400.4 590.5C399.6 591 398.7 591.6 397.9 592.2C397.1 592.7 396.2 593.3 395.4 593.8C394.6 594.4 393.8 595 392.9 595.5C392.1 596.1 391.3 596.7 390.5 597.3C389.6 597.8 388.8 598.4 388 599C387.2 599.6 386.4 600.2 385.6 600.7C384.7 601.3 383.9 601.9 383.1 602.5C382.3 603.1 381.5 603.7 380.7 604.3C379.9 604.9 379.1 605.5 378.3 606.1C377.5 606.7 376.7 607.3 375.9 607.9C375.1 608.5 374.3 609.1 373.5 609.7C372.7 610.3 371.9 610.9 371.1 611.5C370.3 612.1 369.5 612.7 368.7 613.4C367.9 614 367.1 614.6 366.3 615.2C365.5 615.8 364.8 616.4 364 617.1C363.2 617.7 362.4 618.3 361.6 618.9C360.8 619.5 360 620.2 359.2 620.8C358.5 621.4 357.7 622 356.9 622.7C356.1 623.3 355.3 623.9 354.5 624.5C353.8 625.2 353 625.8 352.2 626.4C351.4 627.1 350.6 627.7 349.9 628.3C349.1 628.9 348.3 629.6 347.5 630.2C346.8 630.8 346 631.5 345.2 632.1C344.4 632.7 343.6 633.4 342.9 634C342.1 634.6 341.3 635.3 340.5 635.9C339.8 636.6 339 637.2 338.2 637.8C337.4 638.5 336.7 639.1 335.9 639.7C335.1 640.4 334.3 641 333.6 641.6C332.8 642.3 332 642.9 331.2 643.6C330.5 644.2 329.7 644.8 328.9 645.5C328.1 646.1 327.4 646.7 326.6 647.4C325.8 648 325 648.6 324.3 649.3C323.5 649.9 322.7 650.6 321.9 651.2C321.2 651.8 320.4 652.5 319.6 653.1C318.8 653.7 318.1 654.4 317.3 655C316.5 655.6 315.7 656.3 315 656.9C314.2 657.5 313.4 658.2 312.6 658.8C311.8 659.4 311.1 660.1 310.3 660.7C309.5 661.3 308.7 661.9 307.9 662.6C307.2 663.2 306.4 663.8 305.6 664.5C304.8 665.1 304 665.7 303.2 666.3Q297.4 670.1 303.9 667.5C304.8 667.3 305.8 667 306.8 666.8C307.8 666.5 308.8 666.3 309.7 666.1C310.7 665.9 311.7 665.6 312.7 665.4C313.7 665.2 314.7 665 315.7 664.8C316.6 664.6 317.6 664.5 318.6 664.3C319.6 664.1 320.6 663.9 321.6 663.7C322.6 663.6 323.6 663.4 324.6 663.2C325.6 663.1 326.6 662.9 327.6 662.7C328.6 662.6 329.6 662.4 330.6 662.2C331.5 662 332.5 661.9 333.5 661.7C334.5 661.5 335.5 661.4 336.5 661.2C337.5 661 338.5 660.8 339.5 660.6C340.5 660.4 341.5 660.2 342.4 660C343.4 659.8 344.4 659.6 345.4 659.4C346.4 659.2 347.4 658.9 348.4 658.7C349.3 658.4 350.3 658.2 351.3 657.9C352.3 657.7 353.2 657.4 354.2 657.1C355.2 656.8 356.1 656.5 357.1 656.2C358 655.9 359 655.6 359.9 655.2C360.9 654.9 361.8 654.6 362.8 654.2C363.7 653.8 364.7 653.5 365.6 653.1C366.5 652.7 367.4 652.3 368.3 651.8C369.3 651.4 370.2 651 371.1 650.5C372 650.1 372.9 649.6 373.7 649.1C374.6 648.6 375.5 648.1 376.4 647.6C377.2 647.1 378.1 646.6 379 646C379.8 645.5 380.6 644.9 381.5 644.4C382.3 643.8 383.1 643.2 383.9 642.6C384.8 642 385.6 641.4 386.4 640.8C387.1 640.1 387.9 639.5 388.7 638.9C389.5 638.2 390.2 637.6 391 636.9" stroke="#FF0000"/>
<path d="M391.3 628C392.2 627.7 393.2 627.4 394.1 627.1C395.1 626.8 396 626.5 397 626.2C397.9 625.8 398.8 625.5 399.7 625.1C400.7 624.8 401.6 624.4 402.5 624C403.4 623.6 404.3 623.2 405.2 622.8C406.1 622.4 407 622 407.9 621.5C408.8 621.1 409.7 620.7 410.6 620.2C411.4 619.7 412.3 619.3 413.2 618.8C414.1 618.3 414.9 617.8 415.8 617.4C416.7 616.9 417.5 616.4 418.4 615.9C419.2 615.4 420.1 614.8 420.9 614.3C421.7 613.8 422.6 613.3 423.4 612.7C424.3 612.2 425.1 611.7 425.9 611.1C426.7 610.6 427.6 610 428.4 609.5C429.2 608.9 430 608.4 430.8 607.8C431.7 607.2 432.5 606.6 433.3 606.1C434.1 605.5 434.9 604.9 435.7 604.3C436.5 603.7 437.3 603.2 438.1 602.6C438.9 602 439.7 601.4 440.4 600.8C441.2 600.2 442 599.6 442.8 599C443.6 598.4 444.4 597.7 445.2 597.1C445.9 596.5 446.7 595.9 447.5 595.3C448.3 594.7 449 594 449.8 593.4C450.6 592.8 451.3 592.2 452.1 591.5C452.9 590.9 453.6 590.3 454.4 589.7C455.2 589 455.9 588.4 456.7 587.8C457.5 587.1 458.2 586.5 459 585.8C459.7 585.2 460.5 584.6 461.2 583.9C462 583.3 462.8 582.6 463.5 582C464.3 581.4 465 580.7 465.8 580.1C466.5 579.4 467.3 578.8 468 578.1C468.8 577.5 469.5 576.8 470.3 576.2C471 575.5 471.8 574.9 472.5 574.2C473.3 573.6 474 572.9 474.8 572.3C475.5 571.6 476.3 571 477 570.3C477.8 569.7 478.5 569 479.3 568.4C480 567.7 480.8 567.1 481.5 566.4C482.2 565.8 483 565.1 483.7 564.5C484.5 563.8 485.2 563.2 486 562.5C486.7 561.9 487.5 561.2 488.2 560.6C489 560 489.8 559.3 490.5 558.7C491.3 558 492 557.4 492.8 556.7C493.5 556.1 494.3 555.4 495 554.8C495.8 554.2 496.5 553.5 497.3 552.9C498.1 552.3 498.8 551.6 499.6 551C500.4 550.3 501.1 549.7 501.9 549.1C502.6 548.5 503.4 547.8 504.2 547.2Q510 543.9 503.4 544.9C502.4 545 501.4 545 500.4 545C499.4 545 498.4 545 497.4 545.1C496.4 545.2 495.4 545.2 494.4 545.3C493.4 545.4 492.5 545.5 491.5 545.6C490.5 545.7 489.5 545.8 488.5 545.9C487.5 546 486.5 546.2 485.5 546.3C484.6 546.5 483.6 546.6 482.6 546.8C481.6 547 480.6 547.2 479.7 547.4C478.7 547.6 477.7 547.8 476.7 548C475.8 548.2 474.8 548.4 473.8 548.7C472.8 548.9 471.9 549.1 470.9 549.4C470 549.7 469 549.9 468 550.2C467.1 550.5 466.1 550.8 465.2 551C464.2 551.3 463.3 551.6 462.3 552C461.4 552.3 460.4 552.6 459.5 552.9C458.6 553.2 457.6 553.6 456.7 553.9C455.7 554.3 454.8 554.6 453.9 555C453 555.3 452 555.7 451.1 556.1C450.2 556.4 449.3 556.8 448.3 557.2C447.4 557.6 446.5 558 445.6 558.4C444.7 558.8 443.8 559.2 442.9 559.6C442 560 441.1 560.4 440.2 560.9C439.3 561.3 438.4 561.7 437.5 562.2C436.6 562.6 435.7 563 434.8 563.5C433.9 563.9 433 564.4 432.1 564.9C431.2 565.3 430.4 565.8 429.5 566.2C428.6 566.7 427.7 567.2 426.8 567.7C426 568.1 425.1 568.6 424.2 569.1C423.4 569.6 422.5 570.1 421.6 570.6C420.8 571.1 419.9 571.6 419.1 572.1C418.2 572.6 417.3 573.1 416.5 573.6C415.6 574.1 414.8 574.6 413.9 575.2C413.1 575.7 412.2 576.2 411.4 576.7C410.5 577.3 409.7 577.8 408.9 578.3C408 578.9 407.2 579.4 406.3 580C405.5 580.5 404.7 581 403.8 581.6C403 582.1 402.2 582.7 401.3 583.2C400.5 583.8 399.7 584.3 398.9 584.9C398 585.5 397.2 586 396.4 586.6C395.6 587.2 394.8 587.7 393.9 588.3C393.1 588.9 392.3 589.4 391.5 590C390.7 590.6 389.9 591.2 389.1 591.7C388.3 592.3 387.4 592.9 386.6 593.5C385.8 594.1 385 594.7 384.2 595.2C383.4 595.8 382.6 596.4 381.8 597C381 597.6 380.2 598.2 379.4 598.8C378.6 599.4 377.8 600 377 600.6C376.2 601.2 375.4 601.8 374.6 602.4C373.9 603 373.1 603.6 372.3 604.2C371.5 604.8 370.7 605.4 369.9 606C369.1 606.7 368.3 607.3 367.5 607.9C366.8 608.5 366 609.1 365.2 609.7C364.4 610.3 363.6 611 362.8 611.6C362.1 612.2 361.3 612.8 360.5 613.4C359.7 614.1 359 614.7 358.2 615.3C357.4 615.9 356.6 616.6 355.8 617.2C355.1 617.8 354.3 618.4 353.5 619.1C352.7 619.7 352 620.3 351.2 620.9C350.4 621.6 349.7 622.2 348.9 622.8C348.1 623.5 347.4 624.1 346.6 624.7C345.8 625.4 345 626 344.3 626.6C343.5 627.3 342.7 627.9 342 628.5C341.2 629.2 340.4 629.8 339.7 630.5C338.9 631.1 338.1 631.7 337.4 632.4C336.6 633 335.9 633.7 335.1 634.3C334.3 634.9 333.6 635.6 332.8 636.2C332 636.9 331.3 637.5 330.5 638.1C329.8 638.8 329 639.4 328.2 640.1C327.5 640.7 326.7 641.4 325.9 642C325.2 642.6 324.4 643.3 323.7 643.9C322.9 644.6 322.1 645.2 321.4 645.9C320.6 646.5 319.9 647.1 319.1 647.8C318.3 648.4 317.6 649.1 316.8 649.7C316.1 650.4 315.3 651 314.5 651.7C313.8 652.3 313 652.9 312.3 653.6C311.5 654.2 310.7 654.9 310 655.5C309.2 656.2 308.5 656.8 307.7 657.5C306.9 658.1 306.2 658.7 305.4 659.4C304.7 660 303.9 660.7 303.1 661.3C302.4 662 301.6 662.6 300.9 663.2C300.1 663.9 299.3 664.5 298.6 665.2C297.8 665.8 297.1 666.5 296.3 667.1C295.5 667.7 294.8 668.4 294 669C293.2 669.7 292.5 670.3 291.7 670.9C290.9 671.6 290.2 672.2 289.4 672.9C288.7 673.5 287.9 674.1 287.1 674.8C286.4 675.4 285.6 676 284.8 676.7C284.1 677.3 283.3 677.9 282.5 678.6C281.7 679.2 281 679.8 280.2 680.5Q274.4 683.8 281 682.8C282 682.8 283 682.8 284 682.8C285 682.8 286.1 682.8 287.1 682.7C288.1 682.7 289.1 682.7 290.1 682.6C291.1 682.6 292.1 682.5 293.1 682.4C294.1 682.4 295.1 682.3 296.2 682.2C297.2 682.1 298.2 682 299.2 681.9C300.2 681.7 301.2 681.6 302.2 681.5C303.2 681.3 304.2 681.2 305.2 681C306.2 680.9 307.2 680.7 308.2 680.5C309.2 680.3 310.2 680.1 311.2 679.9C312.2 679.7 313.1 679.5 314.1 679.3C315.1 679.1 316.1 678.9 317.1 678.6C318.1 678.4 319.1 678.2 320 677.9C321 677.7 322 677.4 323 677.1C323.9 676.8 324.9 676.6 325.9 676.3C326.9 676 327.8 675.7 328.8 675.4C329.8 675.1 330.7 674.8 331.7 674.4C332.6 674.1 333.6 673.8 334.5 673.5C335.5 673.1 336.5 672.8 337.4 672.4C338.4 672.1 339.3 671.7 340.2 671.3C341.2 671 342.1 670.6 343.1 670.2C344 669.8 344.9 669.5 345.9 669.1C346.8 668.7 347.7 668.3 348.7 667.9C349.6 667.5 350.5 667 351.4 666.6C352.3 666.2 353.3 665.8 354.2 665.3C355.1 664.9 356 664.5 356.9 664C357.8 663.6 358.7 663.1 359.6 662.7C360.5 662.2 361.4 661.8 362.3 661.3C363.2 660.8 364.1 660.4 365 659.9C365.9 659.4 366.8 658.9 367.7 658.4C368.6 658 369.5 657.5 370.3 657C371.2 656.5 372.1 656 373 655.5C373.9 655 374.7 654.4 375.6 653.9C376.5 653.4 377.3 652.9 378.2 652.4C379.1 651.8 379.9 651.3 380.8 650.8C381.7 650.3 382.5 649.7 383.4 649.2C384.2 648.6 385.1 648.1 385.9 647.5C386.8 647 387.6 646.4 388.5 645.9C389.3 645.3 390.2 644.8 391 644.2" stroke="#00FF00"/>
<path d="M391.3 632.4C392.3 632.1 393.2 631.8 394.2 631.5C395.1 631.2 396.1 630.8 397 630.5C398 630.2 398.9 629.8 399.8 629.4C400.8 629.1 401.7 628.7 402.6 628.3C403.5 627.9 404.5 627.5 405.4 627.1C406.3 626.7 407.2 626.3 408.1 625.8C409 625.4 409.9 625 410.8 624.5C411.7 624.1 412.6 623.6 413.5 623.1C414.4 622.7 415.3 622.2 416.2 621.7C417 621.2 417.9 620.7 418.8 620.2C419.7 619.7 420.5 619.2 421.4 618.7C422.2 618.2 423.1 617.7 424 617.2C424.8 616.6 425.7 616.1 426.5 615.6C427.4 615 428.2 614.5 429.1 613.9C429.9 613.4 430.7 612.8 431.6 612.3C432.4 611.7 433.2 611.2 434.1 610.6C434.9 610 435.7 609.5 436.5 608.9C437.4 608.3 438.2 607.7 439 607.1C439.8 606.6 440.6 606 441.4 605.4C442.3 604.8 443.1 604.2 443.9 603.6C444.7 603 445.5 602.4 446.3 601.8C447.1 601.2 447.9 600.6 448.7 600C449.5 599.3 450.3 598.7 451.1 598.1C451.8 597.5 452.6 596.9 453.4 596.3C454.2 595.6 455 595 455.8 594.4C456.6 593.8 457.4 593.1 458.1 592.5C458.9 591.9 459.7 591.2 460.5 590.6C461.2 590 462 589.3 462.8 588.7C463.6 588 464.3 587.4 465.1 586.8C465.9 586.1 466.7 585.5 467.4 584.8C468.2 584.2 469 583.5 469.7 582.9C470.5 582.2 471.3 581.6 472 580.9C472.8 580.3 473.6 579.6 474.3 579C475.1 578.3 475.8 577.7 476.6 577C477.4 576.4 478.1 575.7 478.9 575.1C479.7 574.4 480.4 573.8 481.2 573.1C481.9 572.4 482.7 571.8 483.4 571.1C484.2 570.5 485 569.8 485.7 569.1C486.5 568.5 487.2 567.8 488 567.2C488.8 566.5 489.5 565.9 490.3 565.2C491 564.5 491.8 563.9 492.5 563.2C493.3 562.6 494.1 561.9 494.8 561.2C495.6 560.6 496.3 559.9 497.1 559.3C497.8 558.6 498.6 557.9 499.4 557.3C500.1 556.6 500.9 556 501.6 555.3C502.4 554.7 503.2 554 503.9 553.4C504.7 552.7 505.4 552 506.2 551.4C507 550.7 507.7 550.1 508.5 549.4C509.3 548.8 510 548.1 510.8 547.5C511.6 546.8 512.3 546.2 513.1 545.5C513.9 544.9 514.6 544.2 515.4 543.6C516.2 543 516.9 542.3 517.7 541.7C518.5 541 519.3 540.4 520 539.8C520.8 539.1 521.6 538.5 522.4 537.8C523.1 537.2 523.9 536.6 524.7 536C525.5 535.3 526.3 534.7 527.1 534.1Q532.9 530.9 526.3 531.7C525.3 531.6 524.3 531.6 523.3 531.6C522.3 531.5 521.3 531.5 520.3 531.5C519.3 531.5 518.3 531.5 517.3 531.5C516.3 531.6 515.3 531.6 514.3 531.6C513.3 531.7 512.3 531.7 511.3 531.8C510.4 531.9 509.4 532 508.4 532C507.4 532.1 506.4 532.2 505.4 532.3C504.4 532.4 503.4 532.6 502.4 532.7C501.4 532.8 500.4 533 499.4 533.1C498.5 533.3 497.5 533.4 496.5 533.6C495.5 533.8 494.5 533.9 493.5 534.1C492.6 534.3 491.6 534.5 490.6 534.7C489.6 534.9 488.7 535.1 487.7 535.4C486.7 535.6 485.7 535.8 484.8 536.1C483.8 536.3 482.8 536.6 481.9 536.8C480.9 537.1 480 537.4 479 537.6C478 537.9 477.1 538.2 476.1 538.5C475.2 538.8 474.2 539.1 473.3 539.4C472.3 539.7 471.4 540 470.4 540.3C469.5 540.6 468.5 541 467.6 541.3C466.7 541.6 465.7 542 464.8 542.3C463.9 542.7 462.9 543 462 543.4C461.1 543.8 460.1 544.1 459.2 544.5C458.3 544.9 457.4 545.3 456.5 545.7C455.5 546 454.6 546.4 453.7 546.8C452.8 547.2 451.9 547.6 451 548C450.1 548.5 449.1 548.9 448.2 549.3C447.3 549.7 446.4 550.1 445.5 550.6C444.6 551 443.7 551.4 442.8 551.9C441.9 552.3 441.1 552.8 440.2 553.2C439.3 553.7 438.4 554.1 437.5 554.6C436.6 555 435.7 555.5 434.8 556C434 556.4 433.1 556.9 432.2 557.4C431.3 557.9 430.5 558.3 429.6 558.8C428.7 559.3 427.8 559.8 427 560.3C426.1 560.8 425.2 561.3 424.4 561.8C423.5 562.3 422.7 562.8 421.8 563.3C420.9 563.8 420.1 564.3 419.2 564.8C418.4 565.4 417.5 565.9 416.7 566.4C415.8 566.9 415 567.4 414.1 568C413.3 568.5 412.4 569 411.6 569.6C410.7 570.1 409.9 570.6 409.1 571.2C408.2 571.7 407.4 572.3 406.6 572.8C405.7 573.3 404.9 573.9 404.1 574.4C403.2 575 402.4 575.5 401.6 576.1C400.7 576.7 399.9 577.2 399.1 577.8C398.3 578.3 397.4 578.9 396.6 579.5C395.8 580 395 580.6 394.1 581.2C393.3 581.7 392.5 582.3 391.7 582.9C390.9 583.5 390.1 584 389.3 584.6C388.4 585.2 387.6 585.8 386.8 586.4C386 587 385.2 587.5 384.4 588.1C383.6 588.7 382.8 589.3 382 589.9C381.2 590.5 380.4 591.1 379.6 591.7C378.8 592.3 378 592.9 377.2 593.5C376.4 594.1 375.6 594.7 374.8 595.3C374 595.9 373.2 596.5 372.4 597.1C371.6 597.7 370.8 598.3 370 598.9C369.2 599.5 368.4 600.1 367.6 600.7C366.9 601.3 366.1 601.9 365.3 602.5C364.5 603.2 363.7 603.8 362.9 604.4C362.1 605 361.4 605.6 360.6 606.2C359.8 606.9 359 607.5 358.2 608.1C357.4 608.7 356.7 609.3 355.9 610C355.1 610.6 354.3 611.2 353.6 611.8C352.8 612.5 352 613.1 351.2 613.7C350.4 614.4 349.7 615 348.9 615.6C348.1 616.2 347.3 616.9 346.6 617.5C345.8 618.1 345 618.8 344.3 619.4C343.5 620 342.7 620.7 341.9 621.3C341.2 621.9 340.4 622.6 339.6 623.2C338.9 623.8 338.1 624.5 337.3 625.1C336.6 625.8 335.8 626.4 335 627C334.3 627.7 333.5 628.3 332.7 629C332 629.6 331.2 630.2 330.4 630.9C329.7 631.5 328.9 632.2 328.2 632.8C327.4 633.5 326.6 634.1 325.9 634.7C325.1 635.4 324.3 636 323.6 636.7C322.8 637.3 322.1 638 321.3 638.6C320.5 639.3 319.8 639.9 319 640.5C318.3 641.2 317.5 641.8 316.7 642.5C316 643.1 315.2 643.8 314.5 644.4C313.7 645.1 312.9 645.7 312.2 646.4C311.4 647 310.7 647.7 309.9 648.3C309.2 649 308.4 649.6 307.6 650.3C306.9 650.9 306.1 651.6 305.4 652.2C304.6 652.9 303.9 653.5 303.1 654.2C302.3 654.8 301.6 655.5 300.8 656.1C300.1 656.8 299.3 657.4 298.6 658.1C297.8 658.7 297 659.4 296.3 660C295.5 660.7 294.8 661.3 294 662C293.3 662.6 292.5 663.3 291.7 663.9C291 664.6 290.2 665.2 289.5 665.9C288.7 666.5 288 667.2 287.2 667.8C286.4 668.5 285.7 669.1 284.9 669.8C284.2 670.4 283.4 671.1 282.6 671.7C281.9 672.4 281.1 673 280.4 673.7C279.6 674.3 278.9 675 278.1 675.6C277.3 676.2 276.6 676.9 275.8 677.5C275.1 678.2 274.3 678.8 273.5 679.5C272.8 680.1 272 680.8 271.2 681.4C270.5 682.1 269.7 682.7 269 683.3C268.2 684 267.4 684.6 266.7 685.3C265.9 685.9 265.1 686.6 264.4 687.2C263.6 687.8 262.9 688.5 262.1 689.1C261.3 689.8 260.6 690.4 259.8 691C259 691.7 258.3 692.3 257.5 693Q251.7 696.1 258.3 695.7C259.3 695.8 260.2 695.9 261.2 696C262.2 696 263.2 696.1 264.2 696.2C265.2 696.3 266.2 696.3 267.2 696.4C268.2 696.4 269.2 696.4 270.2 696.4C271.2 696.5 272.2 696.5 273.2 696.5C274.1 696.5 275.1 696.5 276.1 696.4C277.1 696.4 278.1 696.4 279.1 696.3C280.1 696.3 281.1 696.2 282.1 696.1C283.1 696.1 284.1 696 285.1 695.9C286.1 695.8 287 695.7 288 695.6C289 695.5 290 695.3 291 695.2C292 695.1 293 694.9 293.9 694.8C294.9 694.6 295.9 694.4 296.9 694.3C297.9 694.1 298.8 693.9 299.8 693.7C300.8 693.5 301.8 693.3 302.7 693.1C303.7 692.9 304.7 692.7 305.6 692.4C306.6 692.2 307.6 692 308.5 691.7C309.5 691.5 310.5 691.2 311.4 690.9C312.4 690.7 313.3 690.4 314.3 690.1C315.2 689.8 316.2 689.5 317.1 689.2C318.1 688.9 319 688.6 320 688.3C320.9 688 321.9 687.7 322.8 687.4C323.7 687 324.7 686.7 325.6 686.4C326.5 686 327.5 685.7 328.4 685.3C329.3 685 330.3 684.6 331.2 684.2C332.1 683.9 333 683.5 333.9 683.1C334.9 682.7 335.8 682.3 336.7 681.9C337.6 681.5 338.5 681.1 339.4 680.7C340.3 680.3 341.2 679.9 342.1 679.5C343 679.1 343.9 678.7 344.8 678.2C345.7 677.8 346.6 677.4 347.5 676.9C348.4 676.5 349.3 676 350.2 675.6C351.1 675.1 352 674.7 352.8 674.2C353.7 673.8 354.6 673.3 355.5 672.8C356.4 672.4 357.2 671.9 358.1 671.4C359 670.9 359.9 670.5 360.7 670C361.6 669.5 362.5 669 363.3 668.5C364.2 668 365 667.5 365.9 667C366.8 666.5 367.6 666 368.5 665.5C369.3 665 370.2 664.5 371 663.9C371.9 663.4 372.7 662.9 373.6 662.4C374.4 661.9 375.2 661.3 376.1 660.8C376.9 660.3 377.8 659.7 378.6 659.2C379.4 658.7 380.3 658.1 381.1 657.6C381.9 657 382.8 656.5 383.6 655.9C384.4 655.4 385.3 654.8 386.1 654.3C386.9 653.7 387.7 653.2 388.5 652.6C389.4 652 390.2 651.5 391 650.9" stroke="#0000FF"/>
<path d="M391.3 636.9C392.3 636.6 393.2 636.3 394.2 636C395.1 635.7 396.1 635.4 397 635C398 634.7 398.9 634.4 399.8 634C400.8 633.6 401.7 633.3 402.6 632.9C403.6 632.5 404.5 632.1 405.4 631.8C406.3 631.4 407.3 631 408.2 630.5C409.1 630.1 410 629.7 410.9 629.3C411.8 628.9 412.7 628.4 413.6 628C414.5 627.5 415.4 627.1 416.3 626.6C417.2 626.2 418.1 625.7 418.9 625.2C419.8 624.7 420.7 624.3 421.6 623.8C422.5 623.3 423.3 622.8 424.2 622.3C425.1 621.8 425.9 621.3 426.8 620.8C427.7 620.3 428.5 619.8 429.4 619.2C430.2 618.7 431.1 618.2 431.9 617.7C432.8 617.1 433.6 616.6 434.5 616.1C435.3 615.5 436.2 615 437 614.4C437.8 613.9 438.7 613.3 439.5 612.8C440.4 612.2 441.2 611.7 442 611.1C442.8 610.5 443.7 610 444.5 609.4C445.3 608.8 446.1 608.2 446.9 607.7C447.8 607.1 448.6 606.5 449.4 605.9C450.2 605.3 451 604.7 451.8 604.2C452.6 603.6 453.4 603 454.3 602.4C455.1 601.8 455.9 601.2 456.7 600.6C457.5 600 458.3 599.4 459.1 598.8C459.9 598.2 460.7 597.5 461.4 596.9C462.2 596.3 463 595.7 463.8 595.1C464.6 594.5 465.4 593.9 466.2 593.2C467 592.6 467.8 592 468.6 591.4C469.3 590.8 470.1 590.1 470.9 589.5C471.7 588.9 472.5 588.2 473.2 587.6C474 587 474.8 586.4 475.6 585.7C476.4 585.1 477.1 584.5 477.9 583.8C478.7 583.2 479.5 582.6 480.2 581.9C481 581.3 481.8 580.6 482.6 580C483.3 579.4 484.1 578.7 484.9 578.1C485.6 577.4 486.4 576.8 487.2 576.2C487.9 575.5 488.7 574.9 489.5 574.2C490.2 573.6 491 572.9 491.8 572.3C492.5 571.6 493.3 571 494.1 570.4C494.8 569.7 495.6 569.1 496.4 568.4C497.1 567.8 497.9 567.1 498.7 566.5C499.4 565.8 500.2 565.2 501 564.5C501.7 563.9 502.5 563.2 503.3 562.6C504 561.9 504.8 561.3 505.6 560.6C506.3 560 507.1 559.3 507.8 558.7C508.6 558 509.4 557.4 510.1 556.7C510.9 556.1 511.7 555.4 512.4 554.8C513.2 554.1 513.9 553.5 514.7 552.8C515.5 552.2 516.2 551.5 517 550.9C517.7 550.2 518.5 549.6 519.3 548.9C520 548.3 520.8 547.6 521.5 547C522.3 546.3 523.1 545.6 523.8 545C524.6 544.3 525.3 543.7 526.1 543C526.8 542.4 527.6 541.7 528.4 541.1C529.1 540.4 529.9 539.7 530.6 539.1C531.4 538.4 532.1 537.8 532.9 537.1C533.6 536.4 534.4 535.8 535.1 535.1C535.9 534.4 536.6 533.8 537.4 533.1C538.1 532.5 538.9 531.8 539.6 531.1C540.4 530.5 541.1 529.8 541.9 529.1C542.6 528.5 543.4 527.8 544.1 527.1C544.9 526.4 545.6 525.8 546.4 525.1C547.1 524.4 547.9 523.8 548.6 523.1C549.3 522.4 550.1 521.7 550.8 521.1Q556.4 517.7 549.9 518.3C548.9 518.2 547.9 518.1 546.9 518.1C545.9 518 544.9 517.9 543.9 517.9C542.9 517.8 541.9 517.8 540.9 517.8C539.9 517.7 538.9 517.7 537.9 517.7C536.9 517.7 535.9 517.7 534.9 517.7C533.9 517.7 532.9 517.7 531.9 517.8C530.9 517.8 529.9 517.8 528.9 517.9C527.9 517.9 526.9 518 525.9 518C524.9 518.1 523.9 518.2 522.9 518.3C521.9 518.4 520.9 518.5 519.9 518.6C518.9 518.7 517.9 518.8 516.9 518.9C515.9 519 514.9 519.2 514 519.3C513 519.5 512 519.6 511 519.8C510 519.9 509 520.1 508 520.3C507 520.5 506.1 520.7 505.1 520.8C504.1 521 503.1 521.2 502.1 521.5C501.1 521.7 500.2 521.9 499.2 522.1C498.2 522.3 497.2 522.6 496.3 522.8C495.3 523.1 494.3 523.3 493.4 523.6C492.4 523.8 491.4 524.1 490.5 524.4C489.5 524.6 488.5 524.9 487.6 525.2C486.6 525.5 485.7 525.8 484.7 526.1C483.7 526.4 482.8 526.7 481.8 527C480.9 527.3 479.9 527.6 479 527.9C478 528.3 477.1 528.6 476.2 528.9C475.2 529.3 474.3 529.6 473.3 530C472.4 530.3 471.5 530.7 470.5 531C469.6 531.4 468.7 531.8 467.7 532.1C466.8 532.5 465.9 532.9 464.9 533.3C464 533.7 463.1 534 462.2 534.4C461.3 534.8 460.3 535.2 459.4 535.6C458.5 536 457.6 536.4 456.7 536.9C455.8 537.3 454.9 537.7 453.9 538.1C453 538.5 452.1 539 451.2 539.4C450.3 539.8 449.4 540.3 448.5 540.7C447.6 541.2 446.7 541.6 445.8 542.1C444.9 542.5 444 543 443.2 543.4C442.3 543.9 441.4 544.3 440.5 544.8C439.6 545.3 438.7 545.7 437.8 546.2C437 546.7 436.1 547.2 435.2 547.6C434.3 548.1 433.4 548.6 432.6 549.1C431.7 549.6 430.8 550.1 430 550.6C429.1 551.1 428.2 551.6 427.3 552.1C426.5 552.6 425.6 553.1 424.8 553.6C423.9 554.1 423 554.6 422.2 555.1C421.3 555.6 420.5 556.2 419.6 556.7C418.7 557.2 417.9 557.7 417 558.3C416.2 558.8 415.3 559.3 414.5 559.8C413.6 560.4 412.8 560.9 411.9 561.4C411.1 562 410.3 562.5 409.4 563.1C408.6 563.6 407.7 564.2 406.9 564.7C406.1 565.3 405.2 565.8 404.4 566.4C403.5 566.9 402.7 567.5 401.9 568C401 568.6 400.2 569.1 399.4 569.7C398.6 570.3 397.7 570.8 396.9 571.4C396.1 572 395.3 572.5 394.4 573.1C393.6 573.7 392.8 574.3 392 574.8C391.1 575.4 390.3 576 389.5 576.6C388.7 577.1 387.9 577.7 387.1 578.3C386.3 578.9 385.4 579.5 384.6 580.1C383.8 580.6 383 581.2 382.2 581.8C381.4 582.4 380.6 583 379.8 583.6C379 584.2 378.2 584.8 377.4 585.4C376.5 586 375.7 586.6 374.9 587.2C374.1 587.8 373.3 588.4 372.5 589C371.7 589.6 370.9 590.2 370.1 590.8C369.3 591.4 368.5 592 367.8 592.6C367 593.2 366.2 593.8 365.4 594.5C364.6 595.1 363.8 595.7 363 596.3C362.2 596.9 361.4 597.5 360.6 598.1C359.8 598.8 359 599.4 358.3 600C357.5 600.6 356.7 601.2 355.9 601.9C355.1 602.5 354.3 603.1 353.5 603.7C352.8 604.3 352 605 351.2 605.6C350.4 606.2 349.6 606.9 348.9 607.5C348.1 608.1 347.3 608.7 346.5 609.4C345.7 610 345 610.6 344.2 611.3C343.4 611.9 342.6 612.5 341.9 613.2C341.1 613.8 340.3 614.4 339.5 615.1C338.8 615.7 338 616.3 337.2 617C336.4 617.6 335.7 618.3 334.9 618.9C334.1 619.5 333.4 620.2 332.6 620.8C331.8 621.5 331 622.1 330.3 622.7C329.5 623.4 328.7 624 328 624.7C327.2 625.3 326.4 626 325.7 626.6C324.9 627.2 324.1 627.9 323.4 628.5C322.6 629.2 321.8 629.8 321.1 630.5C320.3 631.1 319.6 631.8 318.8 632.4C318 633.1 317.3 633.7 316.5 634.4C315.7 635 315 635.7 314.2 636.3C313.5 637 312.7 637.6 311.9 638.3C311.2 638.9 310.4 639.6 309.7 640.2C308.9 640.9 308.1 641.5 307.4 642.2C306.6 642.8 305.9 643.5 305.1 644.2C304.3 644.8 303.6 645.5 302.8 646.1C302.1 646.8 301.3 647.4 300.5 648.1C299.8 648.7 299 649.4 298.3 650C297.5 650.7 296.8 651.4 296 652C295.2 652.7 294.5 653.3 293.7 654C293 654.6 292.2 655.3 291.5 656C290.7 656.6 290 657.3 289.2 657.9C288.4 658.6 287.7 659.2 286.9 659.9C286.2 660.6 285.4 661.2 284.7 661.9C283.9 662.5 283.2 663.2 282.4 663.9C281.6 664.5 280.9 665.2 280.1 665.8C279.4 666.5 278.6 667.1 277.9 667.8C277.1 668.5 276.4 669.1 275.6 669.8C274.9 670.4 274.1 671.1 273.3 671.8C272.6 672.4 271.8 673.1 271.1 673.7C270.3 674.4 269.6 675 268.8 675.7C268.1 676.4 267.3 677 266.5 677.7C265.8 678.3 265 679 264.3 679.6C263.5 680.3 262.8 681 262 681.6C261.3 682.3 260.5 682.9 259.7 683.6C259 684.2 258.2 684.9 257.5 685.6C256.7 686.2 256 686.9 255.2 687.5C254.4 688.2 253.7 688.8 252.9 689.5C252.2 690.1 251.4 690.8 250.7 691.5C249.9 692.1 249.1 692.8 248.4 693.4C247.6 694.1 246.9 694.7 246.1 695.4C245.3 696 244.6 696.7 243.8 697.3C243.1 698 242.3 698.6 241.5 699.3C240.8 699.9 240 700.6 239.2 701.2C238.5 701.9 237.7 702.5 237 703.2C236.2 703.8 235.4 704.5 234.7 705.1Q228.9 708.3 235.5 707.9C236.5 708 237.4 708.1 238.4 708.3C239.4 708.4 240.4 708.5 241.4 708.6C242.4 708.7 243.4 708.7 244.4 708.8C245.4 708.9 246.4 709 247.4 709C248.4 709.1 249.4 709.1 250.4 709.2C251.4 709.2 252.4 709.3 253.4 709.3C254.4 709.3 255.4 709.3 256.4 709.3C257.4 709.3 258.4 709.3 259.4 709.3C260.4 709.3 261.4 709.3 262.4 709.3C263.4 709.3 264.4 709.2 265.3 709.2C266.3 709.1 267.3 709.1 268.3 709C269.3 709 270.3 708.9 271.3 708.8C272.3 708.7 273.3 708.7 274.3 708.6C275.3 708.5 276.3 708.4 277.3 708.2C278.3 708.1 279.3 708 280.3 707.9C281.3 707.8 282.2 707.6 283.2 707.5C284.2 707.3 285.2 707.2 286.2 707C287.2 706.8 288.2 706.7 289.1 706.5C290.1 706.3 291.1 706.1 292.1 705.9C293.1 705.7 294 705.5 295 705.3C296 705.1 297 704.9 297.9 704.7C298.9 704.5 299.9 704.2 300.8 704C301.8 703.7 302.8 703.5 303.7 703.2C304.7 703 305.7 702.7 306.6 702.4C307.6 702.2 308.6 701.9 309.5 701.6C310.5 701.3 311.4 701 312.4 700.7C313.3 700.4 314.3 700.1 315.2 699.8C316.2 699.5 317.1 699.2 318.1 698.8C319 698.5 319.9 698.2 320.9 697.8C321.8 697.5 322.8 697.1 323.7 696.8C324.6 696.4 325.5 696.1 326.5 695.7C327.4 695.3 328.3 695 329.3 694.6C330.2 694.2 331.1 693.8 332 693.4C332.9 693 333.8 692.6 334.8 692.2C335.7 691.8 336.6 691.4 337.5 691C338.4 690.6 339.3 690.2 340.2 689.7C341.1 689.3 342 688.9 342.9 688.4C343.8 688 344.7 687.5 345.6 687.1C346.5 686.6 347.4 686.2 348.2 685.7C349.1 685.3 350 684.8 350.9 684.3C351.8 683.8 352.6 683.4 353.5 682.9C354.4 682.4 355.3 681.9 356.1 681.4C357 680.9 357.9 680.4 358.7 679.9C359.6 679.4 360.5 678.9 361.3 678.4C362.2 677.9 363 677.4 363.9 676.9C364.7 676.3 365.6 675.8 366.4 675.3C367.3 674.8 368.1 674.2 369 673.7C369.8 673.2 370.6 672.6 371.5 672.1C372.3 671.5 373.1 671 374 670.4C374.8 669.9 375.6 669.3 376.4 668.7C377.3 668.2 378.1 667.6 378.9 667C379.7 666.5 380.5 665.9 381.4 665.3C382.2 664.7 383 664.2 383.8 663.6C384.6 663 385.4 662.4 386.2 661.8C387 661.2 387.8 660.6 388.6 660C389.4 659.4 390.2 658.8 391 658.2" stroke="#00FFFF"/>
<path d="M391.3 641.7C392.2 641.4 393.2 641.1 394.1 640.8C395.1 640.4 396 640.1 396.9 639.8C397.9 639.4 398.8 639.1 399.7 638.7C400.6 638.3 401.6 638 402.5 637.6C403.4 637.2 404.3 636.8 405.2 636.4C406.2 636.1 407.1 635.7 408 635.2C408.9 634.8 409.8 634.4 410.7 634C411.6 633.6 412.5 633.2 413.4 632.7C414.3 632.3 415.2 631.9 416 631.4C416.9 631 417.8 630.5 418.7 630.1C419.6 629.6 420.5 629.1 421.3 628.7C422.2 628.2 423.1 627.7 424 627.3C424.8 626.8 425.7 626.3 426.6 625.8C427.4 625.3 428.3 624.8 429.2 624.3C430 623.8 430.9 623.3 431.7 622.8C432.6 622.3 433.4 621.8 434.3 621.3C435.1 620.8 436 620.2 436.8 619.7C437.7 619.2 438.5 618.7 439.3 618.1C440.2 617.6 441 617.1 441.9 616.5C442.7 616 443.5 615.5 444.4 614.9C445.2 614.4 446 613.8 446.8 613.3C447.7 612.7 448.5 612.2 449.3 611.6C450.1 611 451 610.5 451.8 609.9C452.6 609.3 453.4 608.8 454.2 608.2C455 607.6 455.8 607.1 456.7 606.5C457.5 605.9 458.3 605.3 459.1 604.8C459.9 604.2 460.7 603.6 461.5 603C462.3 602.4 463.1 601.8 463.9 601.2C464.7 600.7 465.5 600.1 466.3 599.5C467.1 598.9 467.9 598.3 468.7 597.7C469.5 597.1 470.3 596.5 471 595.9C471.8 595.3 472.6 594.7 473.4 594.1C474.2 593.5 475 592.9 475.8 592.2C476.6 591.6 477.3 591 478.1 590.4C478.9 589.8 479.7 589.2 480.5 588.6C481.3 588 482 587.3 482.8 586.7C483.6 586.1 484.4 585.5 485.1 584.9C485.9 584.2 486.7 583.6 487.5 583C488.2 582.4 489 581.8 489.8 581.1C490.6 580.5 491.3 579.9 492.1 579.3C492.9 578.6 493.6 578 494.4 577.4C495.2 576.7 496 576.1 496.7 575.5C497.5 574.8 498.3 574.2 499 573.6C499.8 573 500.6 572.3 501.3 571.7C502.1 571.1 502.8 570.4 503.6 569.8C504.4 569.1 505.1 568.5 505.9 567.9C506.7 567.2 507.4 566.6 508.2 566C509 565.3 509.7 564.7 510.5 564C511.2 563.4 512 562.8 512.8 562.1C513.5 561.5 514.3 560.8 515 560.2C515.8 559.6 516.5 558.9 517.3 558.3C518.1 557.6 518.8 557 519.6 556.3C520.3 555.7 521.1 555 521.8 554.4C522.6 553.8 523.3 553.1 524.1 552.5C524.8 551.8 525.6 551.2 526.3 550.5C527.1 549.9 527.8 549.2 528.6 548.6C529.3 547.9 530.1 547.2 530.8 546.6C531.6 545.9 532.3 545.3 533.1 544.6C533.8 544 534.6 543.3 535.3 542.7C536.1 542 536.8 541.3 537.6 540.7C538.3 540 539 539.4 539.8 538.7C540.5 538.1 541.3 537.4 542 536.7C542.8 536.1 543.5 535.4 544.2 534.7C545 534.1 545.7 533.4 546.5 532.7C547.2 532.1 547.9 531.4 548.7 530.7C549.4 530.1 550.1 529.4 550.9 528.7C551.6 528.1 552.3 527.4 553.1 526.7C553.8 526.1 554.5 525.4 555.3 524.7C556 524.1 556.7 523.4 557.5 522.7C558.2 522 558.9 521.4 559.7 520.7C560.4 520 561.1 519.3 561.8 518.6C562.6 518 563.3 517.3 564 516.6C564.7 515.9 565.5 515.3 566.2 514.6C566.9 513.9 567.6 513.2 568.4 512.5C569.1 511.8 569.8 511.2 570.5 510.5C571.2 509.8 572 509.1 572.7 508.4Q578.2 505 571.7 505.6C570.7 505.5 569.7 505.4 568.7 505.3C567.7 505.2 566.7 505.1 565.7 505C564.8 504.9 563.8 504.9 562.8 504.8C561.8 504.8 560.8 504.7 559.8 504.7C558.8 504.6 557.8 504.6 556.8 504.6C555.8 504.6 554.8 504.6 553.8 504.6C552.8 504.6 551.8 504.6 550.8 504.6C549.8 504.6 548.8 504.6 547.8 504.6C546.8 504.7 545.8 504.7 544.8 504.8C543.8 504.8 542.8 504.9 541.8 504.9C540.8 505 539.8 505.1 538.8 505.2C537.8 505.2 536.8 505.3 535.8 505.4C534.8 505.5 533.8 505.6 532.8 505.8C531.8 505.9 530.8 506 529.8 506.1C528.8 506.3 527.8 506.4 526.8 506.5C525.9 506.7 524.9 506.8 523.9 507C522.9 507.2 521.9 507.3 520.9 507.5C519.9 507.7 518.9 507.9 518 508.1C517 508.3 516 508.5 515 508.7C514 508.9 513.1 509.1 512.1 509.3C511.1 509.5 510.1 509.7 509.2 510C508.2 510.2 507.2 510.4 506.3 510.7C505.3 510.9 504.3 511.2 503.4 511.5C502.4 511.7 501.4 512 500.5 512.2C499.5 512.5 498.5 512.8 497.6 513.1C496.6 513.4 495.7 513.7 494.7 513.9C493.7 514.2 492.8 514.5 491.8 514.9C490.9 515.2 489.9 515.5 489 515.8C488 516.1 487.1 516.4 486.1 516.8C485.2 517.1 484.3 517.4 483.3 517.8C482.4 518.1 481.4 518.5 480.5 518.8C479.6 519.2 478.6 519.5 477.7 519.9C476.8 520.2 475.8 520.6 474.9 521C474 521.3 473.1 521.7 472.1 522.1C471.2 522.5 470.3 522.9 469.4 523.3C468.4 523.6 467.5 524 466.6 524.4C465.7 524.8 464.8 525.2 463.8 525.6C462.9 526.1 462 526.5 461.1 526.9C460.2 527.3 459.3 527.7 458.4 528.1C457.5 528.6 456.6 529 455.7 529.4C454.8 529.9 453.9 530.3 453 530.7C452.1 531.2 451.2 531.6 450.3 532.1C449.4 532.5 448.5 533 447.6 533.4C446.7 533.9 445.8 534.3 444.9 534.8C444.1 535.3 443.2 535.7 442.3 536.2C441.4 536.7 440.5 537.1 439.6 537.6C438.8 538.1 437.9 538.6 437 539C436.1 539.5 435.3 540 434.4 540.5C433.5 541 432.6 541.5 431.8 542C430.9 542.5 430 543 429.2 543.5C428.3 544 427.4 544.5 426.6 545C425.7 545.5 424.8 546 424 546.5C423.1 547 422.3 547.5 421.4 548C420.5 548.6 419.7 549.1 418.8 549.6C418 550.1 417.1 550.7 416.3 551.2C415.4 551.7 414.6 552.2 413.7 552.8C412.9 553.3 412 553.8 411.2 554.4C410.4 554.9 409.5 555.5 408.7 556C407.8 556.5 407 557.1 406.2 557.6C405.3 558.2 404.5 558.7 403.6 559.3C402.8 559.8 402 560.4 401.1 560.9C400.3 561.5 399.5 562 398.7 562.6C397.8 563.2 397 563.7 396.2 564.3C395.3 564.9 394.5 565.4 393.7 566C392.9 566.6 392 567.1 391.2 567.7C390.4 568.3 389.6 568.8 388.8 569.4C387.9 570 387.1 570.6 386.3 571.1C385.5 571.7 384.7 572.3 383.9 572.9C383.1 573.5 382.2 574 381.4 574.6C380.6 575.2 379.8 575.8 379 576.4C378.2 577 377.4 577.6 376.6 578.2C375.8 578.8 375 579.3 374.2 579.9C373.4 580.5 372.5 581.1 371.7 581.7C370.9 582.3 370.1 582.9 369.3 583.5C368.5 584.1 367.7 584.7 366.9 585.3C366.1 585.9 365.3 586.5 364.6 587.1C363.8 587.7 363 588.4 362.2 589C361.4 589.6 360.6 590.2 359.8 590.8C359 591.4 358.2 592 357.4 592.6C356.6 593.2 355.8 593.9 355 594.5C354.3 595.1 353.5 595.7 352.7 596.3C351.9 596.9 351.1 597.6 350.3 598.2C349.5 598.8 348.8 599.4 348 600.1C347.2 600.7 346.4 601.3 345.6 601.9C344.8 602.5 344.1 603.2 343.3 603.8C342.5 604.4 341.7 605.1 341 605.7C340.2 606.3 339.4 606.9 338.6 607.6C337.8 608.2 337.1 608.8 336.3 609.5C335.5 610.1 334.7 610.7 334 611.4C333.2 612 332.4 612.6 331.6 613.3C330.9 613.9 330.1 614.5 329.3 615.2C328.6 615.8 327.8 616.5 327 617.1C326.3 617.7 325.5 618.4 324.7 619C324 619.7 323.2 620.3 322.4 620.9C321.6 621.6 320.9 622.2 320.1 622.9C319.4 623.5 318.6 624.2 317.8 624.8C317.1 625.5 316.3 626.1 315.5 626.7C314.8 627.4 314 628 313.2 628.7C312.5 629.3 311.7 630 311 630.6C310.2 631.3 309.4 631.9 308.7 632.6C307.9 633.2 307.2 633.9 306.4 634.5C305.6 635.2 304.9 635.8 304.1 636.5C303.4 637.1 302.6 637.8 301.8 638.5C301.1 639.1 300.3 639.8 299.6 640.4C298.8 641.1 298.1 641.7 297.3 642.4C296.5 643 295.8 643.7 295 644.3C294.3 645 293.5 645.7 292.8 646.3C292 647 291.3 647.6 290.5 648.3C289.8 648.9 289 649.6 288.3 650.3C287.5 650.9 286.7 651.6 286 652.2C285.2 652.9 284.5 653.6 283.7 654.2C283 654.9 282.2 655.5 281.5 656.2C280.7 656.9 280 657.5 279.2 658.2C278.5 658.8 277.7 659.5 277 660.2C276.2 660.8 275.5 661.5 274.7 662.2C274 662.8 273.2 663.5 272.5 664.1C271.7 664.8 271 665.5 270.2 666.1C269.5 666.8 268.7 667.5 268 668.1C267.2 668.8 266.5 669.4 265.7 670.1C265 670.8 264.2 671.4 263.5 672.1C262.7 672.8 262 673.4 261.2 674.1C260.5 674.8 259.8 675.4 259 676.1C258.3 676.8 257.5 677.4 256.8 678.1C256 678.7 255.3 679.4 254.5 680.1C253.8 680.7 253 681.4 252.3 682.1C251.5 682.7 250.8 683.4 250 684.1C249.3 684.7 248.5 685.4 247.8 686.1C247 686.7 246.3 687.4 245.5 688.1C244.8 688.7 244.1 689.4 243.3 690.1C242.6 690.7 241.8 691.4 241.1 692C240.3 692.7 239.6 693.4 238.8 694C238.1 694.7 237.3 695.4 236.6 696C235.8 696.7 235.1 697.4 234.3 698C233.6 698.7 232.8 699.4 232.1 700C231.3 700.7 230.6 701.3 229.8 702C229.1 702.7 228.3 703.3 227.6 704C226.8 704.7 226.1 705.3 225.3 706C224.6 706.7 223.8 707.3 223.1 708C222.3 708.6 221.6 709.3 220.8 710C220.1 710.6 219.3 711.3 218.6 711.9C217.8 712.6 217.1 713.3 216.3 713.9C215.6 714.6 214.8 715.3 214.1 715.9C213.3 716.6 212.6 717.2 211.8 717.9Q206.2 721 212.6 720.9C213.6 721.1 214.6 721.3 215.6 721.5C216.5 721.7 217.5 721.8 218.5 722C219.5 722.1 220.5 722.3 221.5 722.4C222.5 722.5 223.5 722.7 224.5 722.8C225.5 722.9 226.4 723 227.4 723.1C228.4 723.2 229.4 723.2 230.4 723.3C231.4 723.4 232.4 723.5 233.4 723.5C234.4 723.6 235.4 723.6 236.4 723.6C237.4 723.7 238.4 723.7 239.4 723.7C240.4 723.7 241.4 723.7 242.4 723.7C243.4 723.7 244.4 723.7 245.4 723.6C246.4 723.6 247.4 723.6 248.4 723.5C249.4 723.5 250.4 723.4 251.4 723.4C252.4 723.3 253.4 723.2 254.4 723.2C255.4 723.1 256.4 723 257.3 722.9C258.3 722.8 259.3 722.7 260.3 722.6C261.3 722.5 262.3 722.4 263.3 722.2C264.3 722.1 265.3 722 266.3 721.8C267.3 721.7 268.2 721.5 269.2 721.4C270.2 721.2 271.2 721 272.2 720.9C273.2 720.7 274.1 720.5 275.1 720.3C276.1 720.1 277.1 719.9 278.1 719.7C279 719.5 280 719.3 281 719.1C282 718.9 282.9 718.7 283.9 718.5C284.9 718.2 285.9 718 286.8 717.8C287.8 717.5 288.8 717.3 289.7 717.1C290.7 716.8 291.7 716.5 292.6 716.3C293.6 716 294.6 715.8 295.5 715.5C296.5 715.2 297.4 714.9 298.4 714.7C299.4 714.4 300.3 714.1 301.3 713.8C302.2 713.5 303.2 713.2 304.1 712.9C305.1 712.6 306 712.3 307 712C307.9 711.6 308.9 711.3 309.8 711C310.8 710.7 311.7 710.3 312.6 710C313.6 709.7 314.5 709.3 315.4 709C316.4 708.6 317.3 708.3 318.2 707.9C319.2 707.5 320.1 707.2 321 706.8C322 706.4 322.9 706 323.8 705.7C324.7 705.3 325.6 704.9 326.6 704.5C327.5 704.1 328.4 703.7 329.3 703.3C330.2 702.9 331.1 702.5 332.1 702.1C333 701.7 333.9 701.3 334.8 700.8C335.7 700.4 336.6 700 337.5 699.6C338.4 699.1 339.3 698.7 340.2 698.2C341.1 697.8 342 697.4 342.9 696.9C343.7 696.5 344.6 696 345.5 695.5C346.4 695.1 347.3 694.6 348.2 694.2C349.1 693.7 349.9 693.2 350.8 692.7C351.7 692.3 352.6 691.8 353.4 691.3C354.3 690.8 355.2 690.3 356 689.8C356.9 689.3 357.8 688.8 358.6 688.3C359.5 687.8 360.4 687.3 361.2 686.8C362.1 686.3 362.9 685.8 363.8 685.2C364.6 684.7 365.5 684.2 366.3 683.7C367.2 683.1 368 682.6 368.9 682.1C369.7 681.5 370.5 681 371.4 680.5C372.2 679.9 373.1 679.4 373.9 678.8C374.7 678.3 375.5 677.7 376.4 677.1C377.2 676.6 378 676 378.9 675.5C379.7 674.9 380.5 674.3 381.3 673.7C382.1 673.2 382.9 672.6 383.8 672C384.6 671.4 385.4 670.9 386.2 670.3C387 669.7 387.8 669.1 388.6 668.5C389.4 667.9 390.2 667.3 391 666.7" stroke="#FF00FF"/>
<path d="M391.3 646.6C392.2 646.3 393.2 645.9 394.1 645.6C395.1 645.3 396 644.9 396.9 644.6C397.9 644.2 398.8 643.8 399.7 643.5C400.7 643.1 401.6 642.7 402.5 642.3C403.4 642 404.3 641.6 405.3 641.2C406.2 640.8 407.1 640.4 408 640C408.9 639.6 409.8 639.2 410.7 638.7C411.6 638.3 412.6 637.9 413.5 637.5C414.4 637 415.3 636.6 416.2 636.2C417 635.7 417.9 635.3 418.8 634.8C419.7 634.4 420.6 633.9 421.5 633.5C422.4 633 423.3 632.5 424.2 632.1C425 631.6 425.9 631.1 426.8 630.7C427.7 630.2 428.5 629.7 429.4 629.2C430.3 628.7 431.2 628.2 432 627.7C432.9 627.2 433.8 626.7 434.6 626.2C435.5 625.7 436.3 625.2 437.2 624.7C438.1 624.2 438.9 623.7 439.8 623.2C440.6 622.7 441.5 622.1 442.3 621.6C443.2 621.1 444 620.6 444.9 620C445.7 619.5 446.6 619 447.4 618.4C448.2 617.9 449.1 617.3 449.9 616.8C450.8 616.2 451.6 615.7 452.4 615.1C453.3 614.6 454.1 614 454.9 613.5C455.8 612.9 456.6 612.4 457.4 611.8C458.2 611.2 459.1 610.7 459.9 610.1C460.7 609.5 461.5 609 462.3 608.4C463.2 607.8 464 607.3 464.8 606.7C465.6 606.1 466.4 605.5 467.2 604.9C468.1 604.4 468.9 603.8 469.7 603.2C470.5 602.6 471.3 602 472.1 601.4C472.9 600.8 473.7 600.2 474.5 599.7C475.3 599.1 476.1 598.5 476.9 597.9C477.7 597.3 478.5 596.7 479.3 596.1C480.1 595.5 480.9 594.9 481.7 594.2C482.5 593.6 483.3 593 484.1 592.4C484.9 591.8 485.6 591.2 486.4 590.6C487.2 590 488 589.4 488.8 588.7C489.6 588.1 490.4 587.5 491.2 586.9C491.9 586.3 492.7 585.7 493.5 585C494.3 584.4 495.1 583.8 495.8 583.2C496.6 582.5 497.4 581.9 498.2 581.3C499 580.7 499.7 580 500.5 579.4C501.3 578.8 502.1 578.1 502.8 577.5C503.6 576.9 504.4 576.2 505.1 575.6C505.9 575 506.7 574.3 507.5 573.7C508.2 573.1 509 572.4 509.8 571.8C510.5 571.1 511.3 570.5 512.1 569.9C512.8 569.2 513.6 568.6 514.4 567.9C515.1 567.3 515.9 566.6 516.7 566C517.4 565.4 518.2 564.7 518.9 564.1C519.7 563.4 520.5 562.8 521.2 562.1C522 561.5 522.7 560.8 523.5 560.2C524.3 559.5 525 558.9 525.8 558.2C526.5 557.6 527.3 556.9 528 556.3C528.8 555.6 529.6 555 530.3 554.3C531.1 553.7 531.8 553 532.6 552.3C533.3 551.7 534.1 551 534.8 550.4C535.6 549.7 536.3 549.1 537.1 548.4C537.9 547.8 538.6 547.1 539.4 546.4C540.1 545.8 540.9 545.1 541.6 544.5C542.4 543.8 543.1 543.1 543.9 542.5C544.6 541.8 545.4 541.2 546.1 540.5C546.9 539.8 547.6 539.2 548.4 538.5C549.1 537.9 549.9 537.2 550.6 536.5C551.4 535.9 552.1 535.2 552.9 534.6C553.6 533.9 554.3 533.2 555.1 532.6C555.8 531.9 556.6 531.2 557.3 530.6C558.1 529.9 558.8 529.3 559.6 528.6C560.3 527.9 561.1 527.3 561.8 526.6C562.6 525.9 563.3 525.3 564.1 524.6C564.8 524 565.6 523.3 566.3 522.6C567.1 522 567.8 521.3 568.6 520.6C569.3 520 570.1 519.3 570.8 518.7C571.5 518 572.3 517.3 573 516.7C573.8 516 574.5 515.4 575.3 514.7C576 514 576.8 513.4 577.5 512.7C578.3 512 579 511.4 579.8 510.7C580.5 510.1 581.3 509.4 582 508.7C582.8 508.1 583.5 507.4 584.3 506.8C585 506.1 585.8 505.4 586.5 504.8C587.3 504.1 588 503.5 588.8 502.8C589.5 502.1 590.3 501.5 591 500.8C591.8 500.2 592.5 499.5 593.3 498.9C594 498.2 594.8 497.6 595.6 496.9Q601.2 493.8 594.8 494C593.8 493.8 592.8 493.7 591.8 493.5C590.8 493.4 589.8 493.2 588.8 493.1C587.8 493 586.8 492.8 585.8 492.7C584.8 492.6 583.8 492.5 582.8 492.4C581.8 492.3 580.8 492.2 579.8 492.2C578.8 492.1 577.8 492 576.8 491.9C575.8 491.9 574.8 491.8 573.8 491.8C572.8 491.7 571.8 491.7 570.8 491.7C569.8 491.6 568.8 491.6 567.8 491.6C566.8 491.6 565.8 491.6 564.8 491.6C563.8 491.6 562.8 491.6 561.8 491.6C560.8 491.6 559.8 491.7 558.8 491.7C557.8 491.7 556.8 491.8 555.8 491.8C554.8 491.9 553.8 491.9 552.8 492C551.8 492.1 550.8 492.1 549.8 492.2C548.8 492.3 547.8 492.4 546.8 492.5C545.8 492.6 544.8 492.7 543.8 492.8C542.8 492.9 541.8 493 540.9 493.2C539.9 493.3 538.9 493.4 537.9 493.6C536.9 493.7 535.9 493.9 534.9 494C533.9 494.2 532.9 494.3 531.9 494.5C531 494.7 530 494.9 529 495C528 495.2 527 495.4 526 495.6C525 495.8 524.1 496 523.1 496.2C522.1 496.4 521.1 496.7 520.2 496.9C519.2 497.1 518.2 497.3 517.2 497.6C516.3 497.8 515.3 498 514.3 498.3C513.3 498.5 512.4 498.8 511.4 499C510.4 499.3 509.5 499.6 508.5 499.8C507.5 500.1 506.6 500.4 505.6 500.7C504.7 501 503.7 501.2 502.7 501.5C501.8 501.8 500.8 502.1 499.9 502.4C498.9 502.7 498 503.1 497 503.4C496.1 503.7 495.1 504 494.2 504.3C493.2 504.7 492.3 505 491.3 505.3C490.4 505.7 489.4 506 488.5 506.4C487.6 506.7 486.6 507 485.7 507.4C484.8 507.8 483.8 508.1 482.9 508.5C482 508.8 481 509.2 480.1 509.6C479.2 510 478.2 510.3 477.3 510.7C476.4 511.1 475.5 511.5 474.5 511.9C473.6 512.3 472.7 512.7 471.8 513.1C470.9 513.5 469.9 513.9 469 514.3C468.1 514.7 467.2 515.1 466.3 515.5C465.4 515.9 464.5 516.4 463.6 516.8C462.6 517.2 461.7 517.6 460.8 518.1C459.9 518.5 459 518.9 458.1 519.4C457.2 519.8 456.3 520.2 455.4 520.7C454.5 521.1 453.6 521.6 452.7 522C451.8 522.5 451 522.9 450.1 523.4C449.2 523.9 448.3 524.3 447.4 524.8C446.5 525.3 445.6 525.7 444.7 526.2C443.9 526.7 443 527.1 442.1 527.6C441.2 528.1 440.3 528.6 439.5 529.1C438.6 529.5 437.7 530 436.8 530.5C436 531 435.1 531.5 434.2 532C433.3 532.5 432.5 533 431.6 533.5C430.7 534 429.9 534.5 429 535C428.1 535.5 427.3 536 426.4 536.5C425.6 537 424.7 537.6 423.8 538.1C423 538.6 422.1 539.1 421.3 539.6C420.4 540.1 419.6 540.7 418.7 541.2C417.9 541.7 417 542.3 416.2 542.8C415.3 543.3 414.5 543.8 413.6 544.4C412.8 544.9 411.9 545.5 411.1 546C410.2 546.5 409.4 547.1 408.5 547.6C407.7 548.2 406.9 548.7 406 549.3C405.2 549.8 404.4 550.4 403.5 550.9C402.7 551.5 401.8 552 401 552.6C400.2 553.1 399.3 553.7 398.5 554.3C397.7 554.8 396.9 555.4 396 555.9C395.2 556.5 394.4 557.1 393.5 557.6C392.7 558.2 391.9 558.8 391.1 559.3C390.3 559.9 389.4 560.5 388.6 561.1C387.8 561.6 387 562.2 386.1 562.8C385.3 563.4 384.5 563.9 383.7 564.5C382.9 565.1 382.1 565.7 381.3 566.3C380.4 566.9 379.6 567.4 378.8 568C378 568.6 377.2 569.2 376.4 569.8C375.6 570.4 374.8 571 374 571.6C373.2 572.2 372.3 572.8 371.5 573.4C370.7 574 369.9 574.6 369.1 575.2C368.3 575.8 367.5 576.4 366.7 577C365.9 577.6 365.1 578.2 364.3 578.8C363.5 579.4 362.7 580 361.9 580.6C361.1 581.2 360.3 581.8 359.5 582.4C358.7 583 357.9 583.6 357.2 584.2C356.4 584.8 355.6 585.5 354.8 586.1C354 586.7 353.2 587.3 352.4 587.9C351.6 588.5 350.8 589.2 350 589.8C349.2 590.4 348.5 591 347.7 591.6C346.9 592.2 346.1 592.9 345.3 593.5C344.5 594.1 343.7 594.7 343 595.4C342.2 596 341.4 596.6 340.6 597.2C339.8 597.9 339.1 598.5 338.3 599.1C337.5 599.7 336.7 600.4 335.9 601C335.2 601.6 334.4 602.3 333.6 602.9C332.8 603.5 332 604.2 331.3 604.8C330.5 605.4 329.7 606.1 328.9 606.7C328.2 607.3 327.4 608 326.6 608.6C325.8 609.2 325.1 609.9 324.3 610.5C323.5 611.2 322.8 611.8 322 612.4C321.2 613.1 320.4 613.7 319.7 614.4C318.9 615 318.1 615.6 317.4 616.3C316.6 616.9 315.8 617.6 315.1 618.2C314.3 618.9 313.5 619.5 312.8 620.2C312 620.8 311.2 621.4 310.5 622.1C309.7 622.7 308.9 623.4 308.2 624C307.4 624.7 306.6 625.3 305.9 626C305.1 626.6 304.4 627.3 303.6 627.9C302.8 628.6 302.1 629.2 301.3 629.9C300.6 630.5 299.8 631.2 299 631.8C298.3 632.5 297.5 633.1 296.8 633.8C296 634.4 295.2 635.1 294.5 635.8C293.7 636.4 293 637.1 292.2 637.7C291.4 638.4 290.7 639 289.9 639.7C289.2 640.3 288.4 641 287.7 641.7C286.9 642.3 286.1 643 285.4 643.6C284.6 644.3 283.9 644.9 283.1 645.6C282.4 646.3 281.6 646.9 280.9 647.6C280.1 648.2 279.4 648.9 278.6 649.6C277.8 650.2 277.1 650.9 276.3 651.5C275.6 652.2 274.8 652.9 274.1 653.5C273.3 654.2 272.6 654.8 271.8 655.5C271.1 656.2 270.3 656.8 269.6 657.5C268.8 658.2 268.1 658.8 267.3 659.5C266.6 660.1 265.8 660.8 265.1 661.5C264.3 662.1 263.6 662.8 262.8 663.5C262.1 664.1 261.3 664.8 260.6 665.5C259.8 666.1 259.1 666.8 258.3 667.4C257.6 668.1 256.8 668.8 256.1 669.4C255.3 670.1 254.6 670.8 253.8 671.4C253.1 672.1 252.3 672.8 251.6 673.4C250.8 674.1 250.1 674.8 249.3 675.4C248.6 676.1 247.8 676.8 247.1 677.4C246.3 678.1 245.6 678.8 244.8 679.4C244.1 680.1 243.3 680.8 242.6 681.4C241.8 682.1 241.1 682.8 240.3 683.4C239.6 684.1 238.8 684.8 238.1 685.4C237.3 686.1 236.6 686.7 235.8 687.4C235.1 688.1 234.3 688.7 233.6 689.4C232.8 690.1 232.1 690.7 231.4 691.4C230.6 692.1 229.9 692.7 229.1 693.4C228.4 694.1 227.6 694.7 226.9 695.4C226.1 696.1 225.4 696.7 224.6 697.4C223.9 698.1 223.1 698.7 222.4 699.4C221.6 700.1 220.9 700.7 220.1 701.4C219.4 702.1 218.6 702.7 217.9 703.4C217.1 704.1 216.4 704.7 215.6 705.4C214.9 706 214.1 706.7 213.4 707.4C212.6 708 211.9 708.7 211.1 709.4C210.4 710 209.6 710.7 208.9 711.4C208.1 712 207.4 712.7 206.6 713.3C205.9 714 205.1 714.7 204.4 715.3C203.6 716 202.9 716.7 202.1 717.3C201.4 718 200.6 718.6 199.9 719.3C199.1 720 198.3 720.6 197.6 721.3C196.8 722 196.1 722.6 195.3 723.3C194.6 723.9 193.8 724.6 193.1 725.3C192.3 725.9 191.6 726.6 190.8 727.2C190.1 727.9 189.3 728.5 188.5 729.2Q182.9 732.2 189.3 732.5C190.2 732.7 191.2 733 192.2 733.2C193.1 733.4 194.1 733.7 195.1 733.9C196.1 734.1 197.1 734.3 198 734.5C199 734.7 200 734.9 201 735.1C202 735.2 203 735.4 203.9 735.6C204.9 735.7 205.9 735.9 206.9 736C207.9 736.1 208.9 736.3 209.9 736.4C210.9 736.5 211.9 736.6 212.9 736.7C213.9 736.8 214.9 736.9 215.9 736.9C216.9 737 217.9 737.1 218.9 737.1C219.9 737.2 220.9 737.2 221.9 737.3C222.9 737.3 223.9 737.3 224.9 737.3C225.9 737.3 226.9 737.4 227.9 737.3C228.9 737.3 229.9 737.3 230.9 737.3C231.9 737.3 232.9 737.3 233.9 737.2C234.9 737.2 235.9 737.1 236.9 737.1C237.9 737 238.9 736.9 239.8 736.9C240.8 736.8 241.8 736.7 242.8 736.6C243.8 736.5 244.8 736.4 245.8 736.3C246.8 736.2 247.8 736.1 248.8 735.9C249.8 735.8 250.8 735.7 251.8 735.5C252.8 735.4 253.8 735.3 254.7 735.1C255.7 734.9 256.7 734.8 257.7 734.6C258.7 734.4 259.7 734.3 260.7 734.1C261.6 733.9 262.6 733.7 263.6 733.5C264.6 733.3 265.6 733.1 266.5 732.9C267.5 732.7 268.5 732.5 269.5 732.2C270.4 732 271.4 731.8 272.4 731.5C273.4 731.3 274.3 731.1 275.3 730.8C276.3 730.6 277.2 730.3 278.2 730C279.2 729.8 280.1 729.5 281.1 729.3C282.1 729 283 728.7 284 728.4C284.9 728.1 285.9 727.9 286.9 727.6C287.8 727.3 288.8 727 289.7 726.7C290.7 726.4 291.6 726.1 292.6 725.8C293.5 725.5 294.5 725.1 295.4 724.8C296.4 724.5 297.3 724.2 298.3 723.8C299.2 723.5 300.2 723.2 301.1 722.8C302 722.5 303 722.2 303.9 721.8C304.9 721.5 305.8 721.1 306.7 720.8C307.7 720.4 308.6 720 309.5 719.7C310.5 719.3 311.4 718.9 312.3 718.6C313.2 718.2 314.2 717.8 315.1 717.4C316 717.1 316.9 716.7 317.9 716.3C318.8 715.9 319.7 715.5 320.6 715.1C321.5 714.7 322.5 714.3 323.4 713.9C324.3 713.5 325.2 713.1 326.1 712.7C327 712.2 327.9 711.8 328.8 711.4C329.7 711 330.6 710.5 331.5 710.1C332.5 709.7 333.4 709.3 334.3 708.8C335.2 708.4 336 707.9 336.9 707.5C337.8 707 338.7 706.6 339.6 706.1C340.5 705.7 341.4 705.2 342.3 704.8C343.2 704.3 344.1 703.9 345 703.4C345.8 702.9 346.7 702.5 347.6 702C348.5 701.5 349.4 701 350.2 700.5C351.1 700.1 352 699.6 352.9 699.1C353.7 698.6 354.6 698.1 355.5 697.6C356.4 697.1 357.2 696.6 358.1 696.1C359 695.6 359.8 695.1 360.7 694.6C361.6 694.1 362.4 693.6 363.3 693.1C364.1 692.6 365 692.1 365.9 691.6C366.7 691 367.6 690.5 368.4 690C369.3 689.5 370.1 689 371 688.4C371.8 687.9 372.7 687.4 373.5 686.8C374.4 686.3 375.2 685.8 376 685.2C376.9 684.7 377.7 684.1 378.6 683.6C379.4 683 380.2 682.5 381.1 681.9C381.9 681.4 382.7 680.8 383.6 680.3C384.4 679.7 385.2 679.2 386.1 678.6C386.9 678 387.7 677.5 388.5 676.9C389.4 676.3 390.2 675.8 391 675.2" stroke="#FFFF00"/>
<path d="M391.3 652.7C392.2 652.3 393.2 652 394.1 651.6C395 651.3 396 650.9 396.9 650.5C397.8 650.2 398.8 649.8 399.7 649.4C400.6 649 401.5 648.6 402.5 648.2C403.4 647.8 404.3 647.4 405.2 647C406.1 646.6 407.1 646.2 408 645.8C408.9 645.4 409.8 644.9 410.7 644.5C411.6 644.1 412.5 643.7 413.4 643.2C414.3 642.8 415.2 642.4 416.1 641.9C417 641.5 417.9 641 418.8 640.6C419.7 640.1 420.6 639.6 421.5 639.2C422.4 638.7 423.3 638.3 424.2 637.8C425 637.3 425.9 636.8 426.8 636.4C427.7 635.9 428.6 635.4 429.4 634.9C430.3 634.4 431.2 633.9 432.1 633.4C432.9 633 433.8 632.5 434.7 632C435.6 631.5 436.4 631 437.3 630.4C438.2 629.9 439 629.4 439.9 628.9C440.7 628.4 441.6 627.9 442.5 627.4C443.3 626.8 444.2 626.3 445 625.8C445.9 625.3 446.7 624.7 447.6 624.2C448.4 623.7 449.3 623.1 450.1 622.6C451 622.1 451.8 621.5 452.7 621C453.5 620.4 454.3 619.9 455.2 619.3C456 618.8 456.9 618.2 457.7 617.7C458.5 617.1 459.4 616.6 460.2 616C461 615.5 461.9 614.9 462.7 614.3C463.5 613.8 464.3 613.2 465.2 612.6C466 612.1 466.8 611.5 467.6 610.9C468.5 610.3 469.3 609.8 470.1 609.2C470.9 608.6 471.7 608 472.6 607.5C473.4 606.9 474.2 606.3 475 605.7C475.8 605.1 476.6 604.5 477.5 603.9C478.3 603.3 479.1 602.8 479.9 602.2C480.7 601.6 481.5 601 482.3 600.4C483.1 599.8 483.9 599.2 484.7 598.6C485.5 598 486.3 597.4 487.1 596.8C487.9 596.2 488.7 595.6 489.5 595C490.3 594.3 491.1 593.7 491.9 593.1C492.7 592.5 493.5 591.9 494.3 591.3C495.1 590.7 495.9 590.1 496.7 589.4C497.5 588.8 498.3 588.2 499 587.6C499.8 587 500.6 586.4 501.4 585.7C502.2 585.1 503 584.5 503.8 583.9C504.6 583.2 505.3 582.6 506.1 582C506.9 581.4 507.7 580.7 508.5 580.1C509.2 579.5 510 578.8 510.8 578.2C511.6 577.6 512.4 576.9 513.1 576.3C513.9 575.7 514.7 575 515.5 574.4C516.2 573.8 517 573.1 517.8 572.5C518.6 571.9 519.3 571.2 520.1 570.6C520.9 569.9 521.7 569.3 522.4 568.7C523.2 568 524 567.4 524.7 566.7C525.5 566.1 526.3 565.4 527 564.8C527.8 564.1 528.6 563.5 529.3 562.9C530.1 562.2 530.9 561.6 531.6 560.9C532.4 560.3 533.2 559.6 533.9 559C534.7 558.3 535.5 557.7 536.2 557C537 556.4 537.7 555.7 538.5 555C539.3 554.4 540 553.7 540.8 553.1C541.5 552.4 542.3 551.8 543.1 551.1C543.8 550.5 544.6 549.8 545.3 549.2C546.1 548.5 546.9 547.8 547.6 547.2C548.4 546.5 549.1 545.9 549.9 545.2C550.6 544.5 551.4 543.9 552.1 543.2C552.9 542.6 553.7 541.9 554.4 541.2C555.2 540.6 555.9 539.9 556.7 539.3C557.4 538.6 558.2 537.9 558.9 537.3C559.7 536.6 560.4 535.9 561.2 535.3C561.9 534.6 562.7 534 563.4 533.3C564.2 532.6 565 532 565.7 531.3C566.5 530.6 567.2 530 568 529.3C568.7 528.6 569.5 528 570.2 527.3C571 526.6 571.7 526 572.5 525.3C573.2 524.6 574 524 574.7 523.3C575.5 522.6 576.2 522 577 521.3C577.7 520.6 578.5 520 579.2 519.3C579.9 518.6 580.7 518 581.4 517.3C582.2 516.6 582.9 516 583.7 515.3C584.4 514.6 585.2 514 585.9 513.3C586.7 512.6 587.4 512 588.2 511.3C588.9 510.6 589.7 510 590.4 509.3C591.2 508.6 591.9 508 592.7 507.3C593.4 506.6 594.2 506 594.9 505.3C595.7 504.6 596.4 504 597.2 503.3C597.9 502.6 598.7 502 599.4 501.3C600.2 500.6 600.9 500 601.7 499.3C602.4 498.6 603.2 498 603.9 497.3C604.7 496.6 605.4 496 606.2 495.3C606.9 494.6 607.7 494 608.4 493.3C609.2 492.6 609.9 492 610.7 491.3C611.4 490.6 612.2 490 612.9 489.3C613.7 488.6 614.4 488 615.2 487.3Q620.6 484.7 614.7 483.3C613.8 482.9 612.9 482.4 612 482C611.1 481.7 610.1 481.3 609.2 481C608.3 480.6 607.3 480.3 606.3 480C605.4 479.7 604.4 479.5 603.4 479.2C602.5 479 601.5 478.8 600.5 478.6C599.5 478.4 598.5 478.3 597.5 478.1C596.5 478 595.6 477.8 594.6 477.7C593.6 477.6 592.6 477.5 591.6 477.4C590.6 477.3 589.6 477.2 588.6 477.2C587.6 477.1 586.6 477 585.6 477C584.6 476.9 583.6 476.9 582.6 476.9C581.6 476.8 580.6 476.8 579.6 476.8C578.5 476.8 577.5 476.8 576.5 476.8C575.5 476.8 574.5 476.8 573.5 476.8C572.5 476.8 571.5 476.9 570.5 476.9C569.5 476.9 568.5 477 567.5 477C566.5 477.1 565.5 477.1 564.5 477.2C563.5 477.3 562.5 477.4 561.5 477.5C560.5 477.5 559.5 477.6 558.5 477.7C557.5 477.8 556.5 478 555.5 478.1C554.5 478.2 553.6 478.3 552.6 478.5C551.6 478.6 550.6 478.7 549.6 478.9C548.6 479 547.6 479.2 546.6 479.4C545.6 479.5 544.6 479.7 543.7 479.9C542.7 480.1 541.7 480.2 540.7 480.4C539.7 480.6 538.7 480.8 537.7 481C536.8 481.2 535.8 481.4 534.8 481.7C533.8 481.9 532.9 482.1 531.9 482.3C530.9 482.6 529.9 482.8 529 483.1C528 483.3 527 483.6 526 483.8C525.1 484.1 524.1 484.3 523.1 484.6C522.2 484.9 521.2 485.1 520.3 485.4C519.3 485.7 518.3 486 517.4 486.3C516.4 486.6 515.5 486.9 514.5 487.2C513.5 487.5 512.6 487.8 511.6 488.1C510.7 488.4 509.7 488.7 508.8 489.1C507.8 489.4 506.9 489.7 505.9 490C505 490.4 504.1 490.7 503.1 491C502.2 491.4 501.2 491.7 500.3 492.1C499.3 492.4 498.4 492.8 497.5 493.2C496.5 493.5 495.6 493.9 494.7 494.2C493.7 494.6 492.8 495 491.9 495.4C491 495.7 490 496.1 489.1 496.5C488.2 496.9 487.3 497.3 486.3 497.7C485.4 498.1 484.5 498.5 483.6 498.9C482.6 499.3 481.7 499.7 480.8 500.1C479.9 500.5 479 500.9 478.1 501.3C477.2 501.7 476.2 502.1 475.3 502.6C474.4 503 473.5 503.4 472.6 503.8C471.7 504.3 470.8 504.7 469.9 505.1C469 505.6 468.1 506 467.2 506.5C466.3 506.9 465.4 507.3 464.5 507.8C463.6 508.2 462.7 508.7 461.8 509.1C460.9 509.6 460 510 459.1 510.5C458.2 511 457.3 511.4 456.5 511.9C455.6 512.3 454.7 512.8 453.8 513.3C452.9 513.7 452 514.2 451.1 514.7C450.3 515.2 449.4 515.6 448.5 516.1C447.6 516.6 446.7 517.1 445.8 517.5C445 518 444.1 518.5 443.2 519C442.3 519.5 441.5 520 440.6 520.5C439.7 521 438.8 521.5 438 521.9C437.1 522.4 436.2 522.9 435.4 523.4C434.5 523.9 433.6 524.4 432.8 524.9C431.9 525.4 431 526 430.2 526.5C429.3 527 428.4 527.5 427.6 528C426.7 528.5 425.8 529 425 529.5C424.1 530.1 423.3 530.6 422.4 531.1C421.6 531.6 420.7 532.1 419.8 532.7C419 533.2 418.1 533.7 417.3 534.2C416.4 534.8 415.6 535.3 414.7 535.8C413.9 536.4 413 536.9 412.2 537.4C411.3 538 410.5 538.5 409.6 539C408.8 539.6 408 540.1 407.1 540.6C406.3 541.2 405.4 541.7 404.6 542.3C403.7 542.8 402.9 543.4 402.1 543.9C401.2 544.5 400.4 545 399.5 545.6C398.7 546.1 397.9 546.7 397 547.2C396.2 547.8 395.4 548.3 394.5 548.9C393.7 549.5 392.9 550 392 550.6C391.2 551.1 390.4 551.7 389.6 552.3C388.7 552.8 387.9 553.4 387.1 554C386.2 554.5 385.4 555.1 384.6 555.7C383.8 556.2 382.9 556.8 382.1 557.4C381.3 557.9 380.5 558.5 379.7 559.1C378.8 559.7 378 560.2 377.2 560.8C376.4 561.4 375.6 562 374.7 562.6C373.9 563.1 373.1 563.7 372.3 564.3C371.5 564.9 370.7 565.5 369.8 566.1C369 566.7 368.2 567.2 367.4 567.8C366.6 568.4 365.8 569 365 569.6C364.2 570.2 363.4 570.8 362.5 571.4C361.7 572 360.9 572.6 360.1 573.2C359.3 573.8 358.5 574.3 357.7 574.9C356.9 575.5 356.1 576.1 355.3 576.7C354.5 577.3 353.7 577.9 352.9 578.5C352.1 579.1 351.3 579.8 350.5 580.4C349.7 581 348.9 581.6 348.1 582.2C347.3 582.8 346.5 583.4 345.7 584C344.9 584.6 344.1 585.2 343.3 585.8C342.5 586.4 341.7 587 340.9 587.7C340.1 588.3 339.3 588.9 338.6 589.5C337.8 590.1 337 590.7 336.2 591.4C335.4 592 334.6 592.6 333.8 593.2C333 593.8 332.2 594.4 331.5 595.1C330.7 595.7 329.9 596.3 329.1 596.9C328.3 597.6 327.5 598.2 326.7 598.8C326 599.4 325.2 600 324.4 600.7C323.6 601.3 322.8 601.9 322 602.6C321.3 603.2 320.5 603.8 319.7 604.4C318.9 605.1 318.1 605.7 317.4 606.3C316.6 607 315.8 607.6 315 608.2C314.2 608.9 313.5 609.5 312.7 610.1C311.9 610.8 311.1 611.4 310.4 612C309.6 612.7 308.8 613.3 308 613.9C307.3 614.6 306.5 615.2 305.7 615.9C305 616.5 304.2 617.1 303.4 617.8C302.6 618.4 301.9 619.1 301.1 619.7C300.3 620.3 299.6 621 298.8 621.6C298 622.3 297.2 622.9 296.5 623.6C295.7 624.2 294.9 624.9 294.2 625.5C293.4 626.1 292.6 626.8 291.9 627.4C291.1 628.1 290.4 628.7 289.6 629.4C288.8 630 288.1 630.7 287.3 631.3C286.5 632 285.8 632.6 285 633.3C284.2 633.9 283.5 634.6 282.7 635.2C282 635.9 281.2 636.5 280.4 637.2C279.7 637.8 278.9 638.5 278.2 639.2C277.4 639.8 276.6 640.5 275.9 641.1C275.1 641.8 274.4 642.4 273.6 643.1C272.9 643.7 272.1 644.4 271.3 645.1C270.6 645.7 269.8 646.4 269.1 647C268.3 647.7 267.6 648.4 266.8 649C266.1 649.7 265.3 650.3 264.5 651C263.8 651.7 263 652.3 262.3 653C261.5 653.7 260.8 654.3 260 655C259.3 655.6 258.5 656.3 257.8 657C257 657.6 256.3 658.3 255.5 659C254.8 659.6 254 660.3 253.3 661C252.5 661.6 251.8 662.3 251 663C250.3 663.6 249.5 664.3 248.8 665C248 665.6 247.3 666.3 246.5 667C245.8 667.6 245.1 668.3 244.3 669C243.6 669.6 242.8 670.3 242.1 671C241.3 671.7 240.6 672.3 239.8 673C239.1 673.7 238.3 674.3 237.6 675C236.9 675.7 236.1 676.4 235.4 677C234.6 677.7 233.9 678.4 233.1 679C232.4 679.7 231.7 680.4 230.9 681.1C230.2 681.7 229.4 682.4 228.7 683.1C227.9 683.8 227.2 684.4 226.5 685.1C225.7 685.8 225 686.5 224.2 687.1C223.5 687.8 222.8 688.5 222 689.2C221.3 689.8 220.5 690.5 219.8 691.2C219.1 691.9 218.3 692.6 217.6 693.2C216.9 693.9 216.1 694.6 215.4 695.3C214.6 695.9 213.9 696.6 213.2 697.3C212.4 698 211.7 698.7 210.9 699.3C210.2 700 209.5 700.7 208.7 701.4C208 702.1 207.3 702.7 206.5 703.4C205.8 704.1 205.1 704.8 204.3 705.5C203.6 706.1 202.9 706.8 202.1 707.5C201.4 708.2 200.6 708.9 199.9 709.6C199.2 710.2 198.4 710.9 197.7 711.6C197 712.3 196.2 713 195.5 713.6C194.8 714.3 194 715 193.3 715.7C192.6 716.4 191.8 717.1 191.1 717.7C190.4 718.4 189.6 719.1 188.9 719.8C188.2 720.5 187.4 721.2 186.7 721.9C186 722.5 185.2 723.2 184.5 723.9C183.8 724.6 183 725.3 182.3 726C181.6 726.6 180.8 727.3 180.1 728C179.4 728.7 178.7 729.4 177.9 730.1C177.2 730.8 176.5 731.4 175.7 732.1C175 732.8 174.3 733.5 173.5 734.2C172.8 734.9 172.1 735.6 171.3 736.2C170.6 736.9 169.9 737.6 169.2 738.3Q163.7 741.2 169.8 742.1C170.7 742.5 171.7 742.9 172.6 743.2C173.5 743.6 174.5 743.9 175.4 744.3C176.4 744.6 177.3 744.9 178.3 745.2C179.2 745.6 180.2 745.9 181.1 746.1C182.1 746.4 183.1 746.7 184 747C185 747.2 186 747.5 187 747.7C187.9 748 188.9 748.2 189.9 748.4C190.9 748.6 191.8 748.8 192.8 749C193.8 749.2 194.8 749.4 195.8 749.5C196.8 749.7 197.8 749.8 198.8 750C199.8 750.1 200.8 750.2 201.8 750.4C202.8 750.5 203.8 750.6 204.8 750.7C205.8 750.7 206.8 750.8 207.8 750.9C208.8 751 209.8 751 210.8 751.1C211.8 751.1 212.8 751.1 213.8 751.1C214.8 751.2 215.8 751.2 216.8 751.2C217.8 751.2 218.8 751.1 219.8 751.1C220.8 751.1 221.8 751.1 222.8 751C223.8 751 224.8 750.9 225.8 750.8C226.8 750.8 227.8 750.7 228.8 750.6C229.8 750.5 230.8 750.4 231.8 750.3C232.8 750.2 233.8 750.1 234.8 750C235.8 749.9 236.8 749.7 237.8 749.6C238.8 749.5 239.8 749.3 240.7 749.2C241.7 749 242.7 748.8 243.7 748.7C244.7 748.5 245.7 748.3 246.7 748.1C247.7 747.9 248.6 747.7 249.6 747.5C250.6 747.3 251.6 747.1 252.6 746.9C253.6 746.7 254.5 746.5 255.5 746.3C256.5 746 257.5 745.8 258.4 745.5C259.4 745.3 260.4 745.1 261.4 744.8C262.3 744.6 263.3 744.3 264.3 744C265.2 743.8 266.2 743.5 267.2 743.2C268.1 743 269.1 742.7 270.1 742.4C271 742.1 272 741.8 272.9 741.5C273.9 741.3 274.9 741 275.8 740.7C276.8 740.4 277.7 740.1 278.7 739.7C279.6 739.4 280.6 739.1 281.5 738.8C282.5 738.5 283.4 738.2 284.4 737.8C285.3 737.5 286.3 737.2 287.2 736.9C288.2 736.5 289.1 736.2 290.1 735.8C291 735.5 292 735.2 292.9 734.8C293.8 734.5 294.8 734.1 295.7 733.8C296.7 733.4 297.6 733 298.5 732.7C299.5 732.3 300.4 731.9 301.3 731.6C302.3 731.2 303.2 730.8 304.1 730.4C305.1 730.1 306 729.7 306.9 729.3C307.8 728.9 308.8 728.5 309.7 728.1C310.6 727.7 311.5 727.4 312.5 727C313.4 726.6 314.3 726.2 315.2 725.8C316.1 725.4 317 724.9 318 724.5C318.9 724.1 319.8 723.7 320.7 723.3C321.6 722.9 322.5 722.5 323.4 722C324.4 721.6 325.3 721.2 326.2 720.8C327.1 720.3 328 719.9 328.9 719.5C329.8 719 330.7 718.6 331.6 718.2C332.5 717.7 333.4 717.3 334.3 716.8C335.2 716.4 336.1 716 337 715.5C337.9 715.1 338.8 714.6 339.7 714.2C340.6 713.7 341.5 713.3 342.4 712.8C343.3 712.3 344.2 711.9 345 711.4C345.9 710.9 346.8 710.5 347.7 710C348.6 709.5 349.5 709.1 350.4 708.6C351.3 708.1 352.1 707.7 353 707.2C353.9 706.7 354.8 706.2 355.7 705.8C356.6 705.3 357.4 704.8 358.3 704.3C359.2 703.8 360.1 703.3 360.9 702.8C361.8 702.4 362.7 701.9 363.6 701.4C364.4 700.9 365.3 700.4 366.2 699.9C367.1 699.4 367.9 698.9 368.8 698.4C369.7 697.9 370.5 697.4 371.4 696.9C372.3 696.4 373.1 695.9 374 695.4C374.9 694.9 375.7 694.4 376.6 693.9C377.5 693.4 378.3 692.8 379.2 692.3C380.1 691.8 380.9 691.3 381.8 690.8C382.6 690.3 383.5 689.8 384.4 689.2C385.2 688.7 386.1 688.2 386.9 687.7C387.8 687.1 388.6 686.6 389.5 686.1" stroke="#808000"/>
</g>
<g class="leg" font-size="20.7">
<line x1="521" y1="166.7" x2="569" y2="166.7" stroke="#000000" stroke-width="4.3"/>
<text x="574.2" y="174.1">15 kV/cm</text>
<line x1="521" y1="193.1" x2="569" y2="193.1" stroke="#FF0000" stroke-width="4.3"/>
<text x="574.2" y="200.5">20 kV/cm</text>
<line x1="521" y1="219.5" x2="569" y2="219.5" stroke="#00FF00" stroke-width="4.3"/>
<text x="574.2" y="226.9">25 kV/cm</text>
<line x1="521" y1="245.9" x2="569" y2="245.9" stroke="#0000FF" stroke-width="4.3"/>
<text x="574.2" y="253.3">30 kV/cm</text>
<line x1="521" y1="272.3" x2="569" y2="272.3" stroke="#00FFFF" stroke-width="4.3"/>
<text x="574.2" y="279.7">35 kV/cm</text>
<line x1="521" y1="298.7" x2="569" y2="298.7" stroke="#FF00FF" stroke-width="4.3"/>
<text x="574.2" y="306.1">40 kV/cm</text>
<line x1="521" y1="325.1" x2="569" y2="325.1" stroke="#FFFF00" stroke-width="4.3"/>
<text x="574.2" y="332.5">45 kV/cm</text>
<line x1="521" y1="351.5" x2="569" y2="351.5" stroke="#808000" stroke-width="4.3"/>
<text x="574.2" y="358.9">50 kV/cm</text>
<line x1="513.5" y1="590.8" x2="561" y2="590.8" stroke="#000000" stroke-width="4.3"/>
<text x="566.6" y="598.2">15 kV/cm</text>
<line x1="513.5" y1="617.2" x2="561" y2="617.2" stroke="#FF0000" stroke-width="4.3"/>
<text x="566.6" y="624.6">20 kV/cm</text>
<line x1="513.5" y1="643.6" x2="561" y2="643.6" stroke="#00FF00" stroke-width="4.3"/>
<text x="566.6" y="651">25 kV/cm</text>
<line x1="513.5" y1="670" x2="561" y2="670" stroke="#0000FF" stroke-width="4.3"/>
<text x="566.6" y="677.4">30 kV/cm</text>
<line x1="513.5" y1="696.4" x2="561" y2="696.4" stroke="#00FFFF" stroke-width="4.3"/>
<text x="566.6" y="703.8">35 kV/cm</text>
<line x1="513.5" y1="722.8" x2="561" y2="722.8" stroke="#FF00FF" stroke-width="4.3"/>
<text x="566.6" y="730.2">40 kV/cm</text>
<line x1="513.5" y1="749.2" x2="561" y2="749.2" stroke="#FFFF00" stroke-width="4.3"/>
<text x="566.6" y="756.6">45 kV/cm</text>
<line x1="513.5" y1="775.6" x2="561" y2="775.6" stroke="#808000" stroke-width="4.3"/>
<text x="566.6" y="783">50 kV/cm</text>
</g>
<g stroke="#000" stroke-width="4" stroke-linecap="butt">
<line x1="105" y1="2.5" x2="672.4" y2="2.5"/>
<line x1="114.8" y1="0.5" x2="114.8" y2="394.8"/>
<line x1="670.4" y1="0.5" x2="670.4" y2="394.8"/>
<line x1="105" y1="374.8" x2="672.4" y2="374.8"/>
<line x1="105" y1="374.8" x2="114.8" y2="374.8"/>
<line x1="95" y1="354.1" x2="114.8" y2="354.1"/>
<line x1="105" y1="333.4" x2="114.8" y2="333.4"/>
<line x1="95" y1="312.8" x2="114.8" y2="312.8"/>
<line x1="105" y1="292.1" x2="114.8" y2="292.1"/>
<line x1="95" y1="271.4" x2="114.8" y2="271.4"/>
<line x1="105" y1="250.7" x2="114.8" y2="250.7"/>
<line x1="95" y1="230.1" x2="114.8" y2="230.1"/>
<line x1="105" y1="209.4" x2="114.8" y2="209.4"/>
<line x1="95" y1="188.7" x2="114.8" y2="188.7"/>
<line x1="105" y1="168" x2="114.8" y2="168"/>
<line x1="95" y1="147.3" x2="114.8" y2="147.3"/>
<line x1="105" y1="126.7" x2="114.8" y2="126.7"/>
<line x1="95" y1="106" x2="114.8" y2="106"/>
<line x1="105" y1="85.3" x2="114.8" y2="85.3"/>
<line x1="95" y1="64.6" x2="114.8" y2="64.6"/>
<line x1="105" y1="44" x2="114.8" y2="44"/>
<line x1="95" y1="23.3" x2="114.8" y2="23.3"/>
<line x1="105" y1="2.6" x2="114.8" y2="2.6"/>
<line x1="114.8" y1="374.8" x2="114.8" y2="394.8"/>
<line x1="161.1" y1="374.8" x2="161.1" y2="384.8"/>
<line x1="207.4" y1="374.8" x2="207.4" y2="394.8"/>
<line x1="253.7" y1="374.8" x2="253.7" y2="384.8"/>
<line x1="300" y1="374.8" x2="300" y2="394.8"/>
<line x1="346.3" y1="374.8" x2="346.3" y2="384.8"/>
<line x1="392.6" y1="374.8" x2="392.6" y2="394.8"/>
<line x1="438.9" y1="374.8" x2="438.9" y2="384.8"/>
<line x1="485.2" y1="374.8" x2="485.2" y2="394.8"/>
<line x1="531.5" y1="374.8" x2="531.5" y2="384.8"/>
<line x1="577.8" y1="374.8" x2="577.8" y2="394.8"/>
<line x1="624.1" y1="374.8" x2="624.1" y2="384.8"/>
<line x1="670.4" y1="374.8" x2="670.4" y2="394.8"/>
<line x1="114.8" y1="426" x2="114.8" y2="820.5"/>
<line x1="670.4" y1="426" x2="670.4" y2="820.5"/>
<line x1="105" y1="800.5" x2="672.4" y2="800.5"/>
<line x1="105" y1="800.5" x2="114.8" y2="800.5"/>
<line x1="95" y1="779.8" x2="114.8" y2="779.8"/>
<line x1="105" y1="759.1" x2="114.8" y2="759.1"/>
<line x1="95" y1="738.5" x2="114.8" y2="738.5"/>
<line x1="105" y1="717.8" x2="114.8" y2="717.8"/>
<line x1="95" y1="697.1" x2="114.8" y2="697.1"/>
<line x1="105" y1="676.4" x2="114.8" y2="676.4"/>
<line x1="95" y1="655.8" x2="114.8" y2="655.8"/>
<line x1="105" y1="635.1" x2="114.8" y2="635.1"/>
<line x1="95" y1="614.4" x2="114.8" y2="614.4"/>
<line x1="105" y1="593.7" x2="114.8" y2="593.7"/>
<line x1="95" y1="573" x2="114.8" y2="573"/>
<line x1="105" y1="552.4" x2="114.8" y2="552.4"/>
<line x1="95" y1="531.7" x2="114.8" y2="531.7"/>
<line x1="105" y1="511" x2="114.8" y2="511"/>
<line x1="95" y1="490.3" x2="114.8" y2="490.3"/>
<line x1="105" y1="469.7" x2="114.8" y2="469.7"/>
<line x1="95" y1="449" x2="114.8" y2="449"/>
<line x1="105" y1="428.3" x2="114.8" y2="428.3"/>
<line x1="114.8" y1="800.5" x2="114.8" y2="820.5"/>
<line x1="161.1" y1="800.5" x2="161.1" y2="810.5"/>
<line x1="207.4" y1="800.5" x2="207.4" y2="820.5"/>
<line x1="253.7" y1="800.5" x2="253.7" y2="810.5"/>
<line x1="300" y1="800.5" x2="300" y2="820.5"/>
<line x1="346.3" y1="800.5" x2="346.3" y2="810.5"/>
<line x1="392.6" y1="800.5" x2="392.6" y2="820.5"/>
<line x1="438.9" y1="800.5" x2="438.9" y2="810.5"/>
<line x1="485.2" y1="800.5" x2="485.2" y2="820.5"/>
<line x1="531.5" y1="800.5" x2="531.5" y2="810.5"/>
<line x1="577.8" y1="800.5" x2="577.8" y2="820.5"/>
<line x1="624.1" y1="800.5" x2="624.1" y2="810.5"/>
<line x1="670.4" y1="800.5" x2="670.4" y2="820.5"/>
</g>
<g font-size="27.5">
<text x="80.9" y="362.1" text-anchor="end">-4</text>
<text x="80.9" y="320.8" text-anchor="end">-3</text>
<text x="80.9" y="279.4" text-anchor="end">-2</text>
<text x="80.9" y="238.1" text-anchor="end">-1</text>
<text x="80.9" y="196.7" text-anchor="end">0</text>
<text x="80.9" y="155.3" text-anchor="end">1</text>
<text x="80.9" y="114" text-anchor="end">2</text>
<text x="80.9" y="72.6" text-anchor="end">3</text>
<text x="80.9" y="31.3" text-anchor="end">4</text>
<text x="80.9" y="787.8" text-anchor="end">-4</text>
<text x="80.9" y="746.5" text-anchor="end">-3</text>
<text x="80.9" y="705.1" text-anchor="end">-2</text>
<text x="80.9" y="663.8" text-anchor="end">-1</text>
<text x="80.9" y="622.4" text-anchor="end">0</text>
<text x="80.9" y="581" text-anchor="end">1</text>
<text x="80.9" y="539.7" text-anchor="end">2</text>
<text x="80.9" y="498.3" text-anchor="end">3</text>
<text x="80.9" y="457" text-anchor="end">4</text>
<text x="114.8" y="856.3" text-anchor="middle">-60</text>
<text x="207.4" y="856.3" text-anchor="middle">-40</text>
<text x="300" y="856.3" text-anchor="middle">-20</text>
<text x="392.6" y="856.3" text-anchor="middle">0</text>
<text x="485.2" y="856.3" text-anchor="middle">20</text>
<text x="577.8" y="856.3" text-anchor="middle">40</text>
<text x="670.4" y="856.3" text-anchor="middle">60</text>
<text x="129.6" y="37.2" font-size="28">x=0</text>
<text x="127.6" y="451.4" font-size="28">x=0.05</text>
</g>
<text class="ttl" x="249.6" y="896.8" font-size="25.8">Electric Field (kV/cm)</text>
<g transform="translate(27.9 516) rotate(-90)">
<text class="ttl" x="0" y="0" font-size="26">Polarization (&#956;C/cm<tspan dy="-9.3">2</tspan><tspan dy="9.3" font-size="19">)</tspan></text>
</g>
</svg>
</body></html>
